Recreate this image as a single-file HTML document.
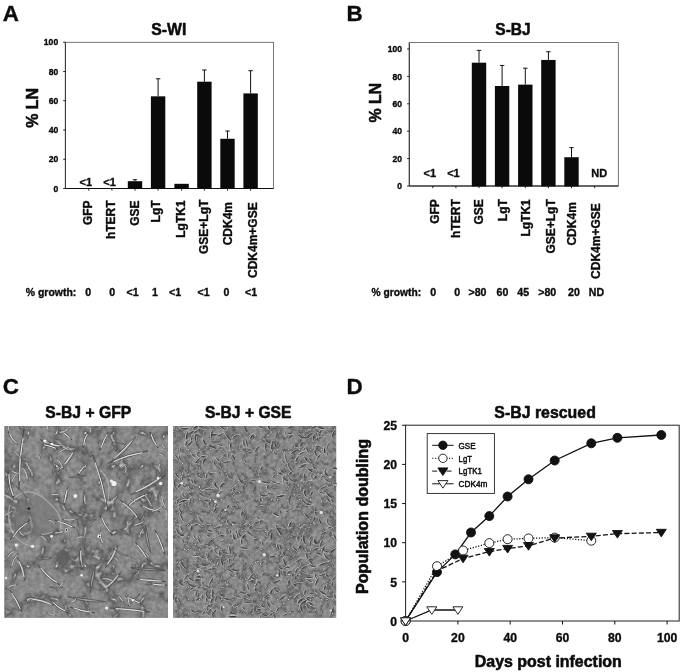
<!DOCTYPE html>
<html lang="en"><head><meta charset="utf-8"><title>Figure</title>
<style>
html,body{margin:0;padding:0;background:#fff;}
body{width:685px;height:672px;overflow:hidden;}
svg{display:block;font-family:"Liberation Sans", Arial, Helvetica, sans-serif;fill:#0c0c0c;}
</style></head><body>
<svg width="685" height="672" viewBox="0 0 685 672">
<defs>
<filter id="tex1" x="0" y="0" width="100%" height="100%" color-interpolation-filters="sRGB">
<feTurbulence type="turbulence" baseFrequency="0.035 0.03" numOctaves="3" seed="4" result="t"/>
<feColorMatrix in="t" type="matrix" values="1 0 0 0 0  1 0 0 0 0  1 0 0 0 0  0 0 0 0 1" result="g"/>
<feComponentTransfer in="g" result="c"><feFuncR type="table" tableValues="0.90 0.33 0.47 0.54 0.56 0.55 0.53 0.52 0.51 0.51"/><feFuncG type="table" tableValues="0.90 0.33 0.47 0.54 0.56 0.55 0.53 0.52 0.51 0.51"/><feFuncB type="table" tableValues="0.90 0.33 0.47 0.54 0.56 0.55 0.53 0.52 0.51 0.51"/></feComponentTransfer>
<feTurbulence type="fractalNoise" baseFrequency="0.25" numOctaves="2" seed="3" result="n"/>
<feColorMatrix in="n" type="matrix" values="0.7 0 0 0 0.17  0.7 0 0 0 0.17  0.7 0 0 0 0.17  0 0 0 0 0.3" result="n2"/>
<feBlend in="n2" in2="c" mode="normal"/>
</filter>
<filter id="tex2" x="0" y="0" width="100%" height="100%" color-interpolation-filters="sRGB">
<feTurbulence type="turbulence" baseFrequency="0.09 0.08" numOctaves="3" seed="8" result="t"/>
<feColorMatrix in="t" type="matrix" values="1 0 0 0 0  1 0 0 0 0  1 0 0 0 0  0 0 0 0 1" result="g"/>
<feComponentTransfer in="g" result="c"><feFuncR type="table" tableValues="0.90 0.33 0.47 0.54 0.56 0.55 0.53 0.52 0.51 0.51"/><feFuncG type="table" tableValues="0.90 0.33 0.47 0.54 0.56 0.55 0.53 0.52 0.51 0.51"/><feFuncB type="table" tableValues="0.90 0.33 0.47 0.54 0.56 0.55 0.53 0.52 0.51 0.51"/></feComponentTransfer>
<feTurbulence type="fractalNoise" baseFrequency="0.3" numOctaves="2" seed="11" result="n"/>
<feColorMatrix in="n" type="matrix" values="0.7 0 0 0 0.17  0.7 0 0 0 0.17  0.7 0 0 0 0.17  0 0 0 0 0.3" result="n2"/>
<feBlend in="n2" in2="c" mode="normal"/>
</filter>
<filter id="soft" x="-5%" y="-5%" width="110%" height="110%"><feGaussianBlur stdDeviation="0.55"/></filter>
<clipPath id="clip1"><rect x="4.4" y="426.1" width="163.6" height="191.7"/></clipPath>
<clipPath id="clip2"><rect x="173.1" y="426.1" width="163.1" height="191.7"/></clipPath>
</defs>
<rect width="685" height="672" fill="#fff"/>
<text x="2.8" y="20.75" font-size="22.4" font-weight="bold" stroke="#0c0c0c" stroke-width="0.35" stroke-linejoin="round">A</text>
<text x="346.4" y="20.8" font-size="22.4" font-weight="bold" stroke="#0c0c0c" stroke-width="0.35" stroke-linejoin="round">B</text>
<text x="2.8" y="394.2" font-size="22.4" font-weight="bold" stroke="#0c0c0c" stroke-width="0.35" stroke-linejoin="round">C</text>
<text x="346.4" y="394.1" font-size="22.4" font-weight="bold" stroke="#0c0c0c" stroke-width="0.35" stroke-linejoin="round">D</text>
<rect x="65.4" y="42.3" width="208.1" height="146.2" fill="none" stroke="#555" stroke-width="0.8"/>
<line x1="65.4" y1="188.5" x2="273.5" y2="188.5" stroke="#111" stroke-width="1.1" stroke="#222"/>
<line x1="65.4" y1="42.3" x2="65.4" y2="188.5" stroke="#3a3a3a" stroke-width="1.1"/>
<line x1="63.2" y1="188.5" x2="65.4" y2="188.5" stroke="#111" stroke-width="0.9"/>
<text x="58.2" y="191.6" font-size="8.6" font-weight="bold" text-anchor="end" stroke="#0c0c0c" stroke-width="0.35" stroke-linejoin="round">0</text>
<line x1="63.2" y1="159.24" x2="65.4" y2="159.24" stroke="#111" stroke-width="0.9"/>
<text x="58.2" y="162.34" font-size="8.6" font-weight="bold" text-anchor="end" stroke="#0c0c0c" stroke-width="0.35" stroke-linejoin="round">20</text>
<line x1="63.2" y1="129.98" x2="65.4" y2="129.98" stroke="#111" stroke-width="0.9"/>
<text x="58.2" y="133.07999999999998" font-size="8.6" font-weight="bold" text-anchor="end" stroke="#0c0c0c" stroke-width="0.35" stroke-linejoin="round">40</text>
<line x1="63.2" y1="100.72" x2="65.4" y2="100.72" stroke="#111" stroke-width="0.9"/>
<text x="58.2" y="103.82" font-size="8.6" font-weight="bold" text-anchor="end" stroke="#0c0c0c" stroke-width="0.35" stroke-linejoin="round">60</text>
<line x1="63.2" y1="71.46" x2="65.4" y2="71.46" stroke="#111" stroke-width="0.9"/>
<text x="58.2" y="74.55999999999999" font-size="8.6" font-weight="bold" text-anchor="end" stroke="#0c0c0c" stroke-width="0.35" stroke-linejoin="round">80</text>
<line x1="63.2" y1="42.19999999999999" x2="65.4" y2="42.19999999999999" stroke="#111" stroke-width="0.9"/>
<text x="58.2" y="45.29999999999999" font-size="8.6" font-weight="bold" text-anchor="end" stroke="#0c0c0c" stroke-width="0.35" stroke-linejoin="round">100</text>
<line x1="88.8" y1="188.5" x2="88.8" y2="190.7" stroke="#111" stroke-width="0.9"/>
<line x1="111.9" y1="188.5" x2="111.9" y2="190.7" stroke="#111" stroke-width="0.9"/>
<line x1="135" y1="188.5" x2="135" y2="190.7" stroke="#111" stroke-width="0.9"/>
<line x1="158.1" y1="188.5" x2="158.1" y2="190.7" stroke="#111" stroke-width="0.9"/>
<line x1="181.6" y1="188.5" x2="181.6" y2="190.7" stroke="#111" stroke-width="0.9"/>
<line x1="204.4" y1="188.5" x2="204.4" y2="190.7" stroke="#111" stroke-width="0.9"/>
<line x1="227.5" y1="188.5" x2="227.5" y2="190.7" stroke="#111" stroke-width="0.9"/>
<line x1="250.6" y1="188.5" x2="250.6" y2="190.7" stroke="#111" stroke-width="0.9"/>
<line x1="135" y1="179.722" x2="135" y2="181.185" stroke="#111" stroke-width="1.0"/>
<line x1="132.8" y1="179.722" x2="137.2" y2="179.722" stroke="#111" stroke-width="1.0"/>
<rect x="127.80" y="181.19" width="14.40" height="7.71" fill="#0a0a0a"/>
<line x1="158.1" y1="78.77499999999999" x2="158.1" y2="96.33099999999999" stroke="#111" stroke-width="1.0"/>
<line x1="155.9" y1="78.77499999999999" x2="160.29999999999998" y2="78.77499999999999" stroke="#111" stroke-width="1.0"/>
<rect x="150.90" y="96.33" width="14.40" height="92.57" fill="#0a0a0a"/>
<rect x="174.40" y="183.82" width="14.40" height="5.08" fill="#0a0a0a"/>
<line x1="204.4" y1="69.997" x2="204.4" y2="81.701" stroke="#111" stroke-width="1.0"/>
<line x1="202.20000000000002" y1="69.997" x2="206.6" y2="69.997" stroke="#111" stroke-width="1.0"/>
<rect x="197.20" y="81.70" width="14.40" height="107.20" fill="#0a0a0a"/>
<line x1="227.5" y1="131.0041" x2="227.5" y2="138.75799999999998" stroke="#111" stroke-width="1.0"/>
<line x1="225.3" y1="131.0041" x2="229.7" y2="131.0041" stroke="#111" stroke-width="1.0"/>
<rect x="220.30" y="138.76" width="14.40" height="50.14" fill="#0a0a0a"/>
<line x1="250.6" y1="70.7285" x2="250.6" y2="93.405" stroke="#111" stroke-width="1.0"/>
<line x1="248.4" y1="70.7285" x2="252.79999999999998" y2="70.7285" stroke="#111" stroke-width="1.0"/>
<rect x="243.40" y="93.41" width="14.40" height="95.50" fill="#0a0a0a"/>
<text x="85.8" y="186.4" font-size="11" font-weight="bold" text-anchor="middle" stroke="#0c0c0c" stroke-width="0.35" stroke-linejoin="round">&lt;1</text>
<text x="109.5" y="186.4" font-size="11" font-weight="bold" text-anchor="middle" stroke="#0c0c0c" stroke-width="0.35" stroke-linejoin="round">&lt;1</text>
<text x="92.0" y="200.4" font-size="12.0" font-weight="bold" text-anchor="end" transform="rotate(-90 92.0 200.4)" stroke="#0c0c0c" stroke-width="0.35" stroke-linejoin="round">GFP</text>
<text x="114.6" y="200.4" font-size="12.0" font-weight="bold" text-anchor="end" transform="rotate(-90 114.6 200.4)" stroke="#0c0c0c" stroke-width="0.35" stroke-linejoin="round">hTERT</text>
<text x="138.7" y="200.4" font-size="12.0" font-weight="bold" text-anchor="end" transform="rotate(-90 138.7 200.4)" stroke="#0c0c0c" stroke-width="0.35" stroke-linejoin="round">GSE</text>
<text x="159.6" y="200.4" font-size="12.0" font-weight="bold" text-anchor="end" transform="rotate(-90 159.6 200.4)" stroke="#0c0c0c" stroke-width="0.35" stroke-linejoin="round">LgT</text>
<text x="185.2" y="200.4" font-size="12.0" font-weight="bold" text-anchor="end" transform="rotate(-90 185.2 200.4)" stroke="#0c0c0c" stroke-width="0.35" stroke-linejoin="round">LgTK1</text>
<text x="208.0" y="199.7" font-size="12.0" font-weight="bold" text-anchor="end" transform="rotate(-90 208.0 199.7)" stroke="#0c0c0c" stroke-width="0.35" stroke-linejoin="round">GSE+LgT</text>
<text x="231.8" y="202.0" font-size="12.0" font-weight="bold" text-anchor="end" transform="rotate(-90 231.8 202.0)" stroke="#0c0c0c" stroke-width="0.35" stroke-linejoin="round">CDK4m</text>
<text x="256.8" y="202.3" font-size="12.0" font-weight="bold" text-anchor="end" transform="rotate(-90 256.8 202.3)" stroke="#0c0c0c" stroke-width="0.35" stroke-linejoin="round">CDK4m+GSE</text>
<text x="168.8" y="35.3" font-size="17" font-weight="bold" text-anchor="middle" textLength="35" lengthAdjust="spacingAndGlyphs" stroke="#0c0c0c" stroke-width="0.55" stroke-linejoin="round">S-WI</text>
<text x="37.7" y="107.9" font-size="17" font-weight="bold" text-anchor="middle" transform="rotate(-90 37.7 107.9)" textLength="39.7" lengthAdjust="spacingAndGlyphs" stroke="#0c0c0c" stroke-width="0.55" stroke-linejoin="round">% LN</text>
<text x="25.8" y="296.2" font-size="10.6" font-weight="bold" textLength="50.5" lengthAdjust="spacingAndGlyphs" stroke="#0c0c0c" stroke-width="0.35" stroke-linejoin="round">% growth:</text>
<text x="88.1" y="296.2" font-size="10.6" font-weight="bold" text-anchor="middle" stroke="#0c0c0c" stroke-width="0.35" stroke-linejoin="round">0</text>
<text x="112.1" y="296.2" font-size="10.6" font-weight="bold" text-anchor="middle" stroke="#0c0c0c" stroke-width="0.35" stroke-linejoin="round">0</text>
<text x="132.6" y="296.2" font-size="10.6" font-weight="bold" text-anchor="middle" stroke="#0c0c0c" stroke-width="0.35" stroke-linejoin="round">&lt;1</text>
<text x="155" y="296.2" font-size="10.6" font-weight="bold" text-anchor="middle" stroke="#0c0c0c" stroke-width="0.35" stroke-linejoin="round">1</text>
<text x="175" y="296.2" font-size="10.6" font-weight="bold" text-anchor="middle" stroke="#0c0c0c" stroke-width="0.35" stroke-linejoin="round">&lt;1</text>
<text x="203.6" y="296.2" font-size="10.6" font-weight="bold" text-anchor="middle" stroke="#0c0c0c" stroke-width="0.35" stroke-linejoin="round">&lt;1</text>
<text x="226.4" y="296.2" font-size="10.6" font-weight="bold" text-anchor="middle" stroke="#0c0c0c" stroke-width="0.35" stroke-linejoin="round">0</text>
<text x="251" y="296.2" font-size="10.6" font-weight="bold" text-anchor="middle" stroke="#0c0c0c" stroke-width="0.35" stroke-linejoin="round">&lt;1</text>
<rect x="409.3" y="42.6" width="208.99999999999994" height="143.4" fill="none" stroke="#555" stroke-width="0.8"/>
<line x1="409.3" y1="186.0" x2="618.3" y2="186.0" stroke="#111" stroke-width="1.1" stroke="#222"/>
<line x1="409.3" y1="42.6" x2="409.3" y2="186.0" stroke="#3a3a3a" stroke-width="1.1"/>
<line x1="407.1" y1="186.0" x2="409.3" y2="186.0" stroke="#111" stroke-width="0.9"/>
<text x="402.1" y="189.1" font-size="8.6" font-weight="bold" text-anchor="end" stroke="#0c0c0c" stroke-width="0.35" stroke-linejoin="round">0</text>
<line x1="407.1" y1="158.6" x2="409.3" y2="158.6" stroke="#111" stroke-width="0.9"/>
<text x="402.1" y="161.7" font-size="8.6" font-weight="bold" text-anchor="end" stroke="#0c0c0c" stroke-width="0.35" stroke-linejoin="round">20</text>
<line x1="407.1" y1="131.2" x2="409.3" y2="131.2" stroke="#111" stroke-width="0.9"/>
<text x="402.1" y="134.29999999999998" font-size="8.6" font-weight="bold" text-anchor="end" stroke="#0c0c0c" stroke-width="0.35" stroke-linejoin="round">40</text>
<line x1="407.1" y1="103.8" x2="409.3" y2="103.8" stroke="#111" stroke-width="0.9"/>
<text x="402.1" y="106.89999999999999" font-size="8.6" font-weight="bold" text-anchor="end" stroke="#0c0c0c" stroke-width="0.35" stroke-linejoin="round">60</text>
<line x1="407.1" y1="76.39999999999999" x2="409.3" y2="76.39999999999999" stroke="#111" stroke-width="0.9"/>
<text x="402.1" y="79.49999999999999" font-size="8.6" font-weight="bold" text-anchor="end" stroke="#0c0c0c" stroke-width="0.35" stroke-linejoin="round">80</text>
<line x1="407.1" y1="49.0" x2="409.3" y2="49.0" stroke="#111" stroke-width="0.9"/>
<text x="402.1" y="52.1" font-size="8.6" font-weight="bold" text-anchor="end" stroke="#0c0c0c" stroke-width="0.35" stroke-linejoin="round">100</text>
<line x1="432.8" y1="186.0" x2="432.8" y2="188.2" stroke="#111" stroke-width="0.9"/>
<line x1="455.9" y1="186.0" x2="455.9" y2="188.2" stroke="#111" stroke-width="0.9"/>
<line x1="479" y1="186.0" x2="479" y2="188.2" stroke="#111" stroke-width="0.9"/>
<line x1="502.1" y1="186.0" x2="502.1" y2="188.2" stroke="#111" stroke-width="0.9"/>
<line x1="525.3" y1="186.0" x2="525.3" y2="188.2" stroke="#111" stroke-width="0.9"/>
<line x1="548.4" y1="186.0" x2="548.4" y2="188.2" stroke="#111" stroke-width="0.9"/>
<line x1="571.5" y1="186.0" x2="571.5" y2="188.2" stroke="#111" stroke-width="0.9"/>
<line x1="594.6" y1="186.0" x2="594.6" y2="188.2" stroke="#111" stroke-width="0.9"/>
<line x1="479" y1="50.369999999999976" x2="479" y2="62.69999999999999" stroke="#111" stroke-width="1.0"/>
<line x1="476.8" y1="50.369999999999976" x2="481.2" y2="50.369999999999976" stroke="#111" stroke-width="1.0"/>
<rect x="471.80" y="62.70" width="14.40" height="123.70" fill="#0a0a0a"/>
<line x1="502.1" y1="65.44" x2="502.1" y2="85.99" stroke="#111" stroke-width="1.0"/>
<line x1="499.90000000000003" y1="65.44" x2="504.3" y2="65.44" stroke="#111" stroke-width="1.0"/>
<rect x="494.90" y="85.99" width="14.40" height="100.41" fill="#0a0a0a"/>
<line x1="525.3" y1="68.17999999999999" x2="525.3" y2="84.61999999999999" stroke="#111" stroke-width="1.0"/>
<line x1="523.0999999999999" y1="68.17999999999999" x2="527.5" y2="68.17999999999999" stroke="#111" stroke-width="1.0"/>
<rect x="518.10" y="84.62" width="14.40" height="101.78" fill="#0a0a0a"/>
<line x1="548.4" y1="51.73999999999998" x2="548.4" y2="59.959999999999994" stroke="#111" stroke-width="1.0"/>
<line x1="546.1999999999999" y1="51.73999999999998" x2="550.6" y2="51.73999999999998" stroke="#111" stroke-width="1.0"/>
<rect x="541.20" y="59.96" width="14.40" height="126.44" fill="#0a0a0a"/>
<line x1="571.5" y1="147.64" x2="571.5" y2="157.23" stroke="#111" stroke-width="1.0"/>
<line x1="569.3" y1="147.64" x2="573.7" y2="147.64" stroke="#111" stroke-width="1.0"/>
<rect x="564.30" y="157.23" width="14.40" height="29.17" fill="#0a0a0a"/>
<text x="429.8" y="177.4" font-size="11" font-weight="bold" text-anchor="middle" stroke="#0c0c0c" stroke-width="0.35" stroke-linejoin="round">&lt;1</text>
<text x="453.4" y="177.4" font-size="11" font-weight="bold" text-anchor="middle" stroke="#0c0c0c" stroke-width="0.35" stroke-linejoin="round">&lt;1</text>
<text x="599.2" y="177.4" font-size="11" font-weight="bold" text-anchor="middle" stroke="#0c0c0c" stroke-width="0.35" stroke-linejoin="round">ND</text>
<text x="439.5" y="199.2" font-size="12.0" font-weight="bold" text-anchor="end" transform="rotate(-90 439.5 199.2)" stroke="#0c0c0c" stroke-width="0.35" stroke-linejoin="round">GFP</text>
<text x="459.6" y="199.2" font-size="12.0" font-weight="bold" text-anchor="end" transform="rotate(-90 459.6 199.2)" stroke="#0c0c0c" stroke-width="0.35" stroke-linejoin="round">hTERT</text>
<text x="483.5" y="199.2" font-size="12.0" font-weight="bold" text-anchor="end" transform="rotate(-90 483.5 199.2)" stroke="#0c0c0c" stroke-width="0.35" stroke-linejoin="round">GSE</text>
<text x="507" y="199.2" font-size="12.0" font-weight="bold" text-anchor="end" transform="rotate(-90 507 199.2)" stroke="#0c0c0c" stroke-width="0.35" stroke-linejoin="round">LgT</text>
<text x="530.5" y="199.2" font-size="12.0" font-weight="bold" text-anchor="end" transform="rotate(-90 530.5 199.2)" stroke="#0c0c0c" stroke-width="0.35" stroke-linejoin="round">LgTK1</text>
<text x="554.7" y="199.2" font-size="12.0" font-weight="bold" text-anchor="end" transform="rotate(-90 554.7 199.2)" stroke="#0c0c0c" stroke-width="0.35" stroke-linejoin="round">GSE+LgT</text>
<text x="576" y="202.2" font-size="12.0" font-weight="bold" text-anchor="end" transform="rotate(-90 576 202.2)" stroke="#0c0c0c" stroke-width="0.35" stroke-linejoin="round">CDK4m</text>
<text x="600.3" y="203.2" font-size="12.0" font-weight="bold" text-anchor="end" transform="rotate(-90 600.3 203.2)" stroke="#0c0c0c" stroke-width="0.35" stroke-linejoin="round">CDK4m+GSE</text>
<text x="513.0" y="35.2" font-size="17" font-weight="bold" text-anchor="middle" textLength="35.4" lengthAdjust="spacingAndGlyphs" stroke="#0c0c0c" stroke-width="0.55" stroke-linejoin="round">S-BJ</text>
<text x="381.3" y="102.7" font-size="16.8" font-weight="bold" text-anchor="middle" transform="rotate(-90 381.3 102.7)" textLength="39.5" lengthAdjust="spacingAndGlyphs" stroke="#0c0c0c" stroke-width="0.55" stroke-linejoin="round">% LN</text>
<text x="371.6" y="295.5" font-size="10.6" font-weight="bold" textLength="49.5" lengthAdjust="spacingAndGlyphs" stroke="#0c0c0c" stroke-width="0.35" stroke-linejoin="round">% growth:</text>
<text x="433.2" y="295.5" font-size="10.6" font-weight="bold" text-anchor="middle" stroke="#0c0c0c" stroke-width="0.35" stroke-linejoin="round">0</text>
<text x="457.3" y="295.5" font-size="10.6" font-weight="bold" text-anchor="middle" stroke="#0c0c0c" stroke-width="0.35" stroke-linejoin="round">0</text>
<text x="477.5" y="295.5" font-size="10.6" font-weight="bold" text-anchor="middle" stroke="#0c0c0c" stroke-width="0.35" stroke-linejoin="round">&gt;80</text>
<text x="502.5" y="295.5" font-size="10.6" font-weight="bold" text-anchor="middle" stroke="#0c0c0c" stroke-width="0.35" stroke-linejoin="round">60</text>
<text x="523.2" y="295.5" font-size="10.6" font-weight="bold" text-anchor="middle" stroke="#0c0c0c" stroke-width="0.35" stroke-linejoin="round">45</text>
<text x="547.2" y="295.5" font-size="10.6" font-weight="bold" text-anchor="middle" stroke="#0c0c0c" stroke-width="0.35" stroke-linejoin="round">&gt;80</text>
<text x="574" y="295.5" font-size="10.6" font-weight="bold" text-anchor="middle" stroke="#0c0c0c" stroke-width="0.35" stroke-linejoin="round">20</text>
<text x="596.5" y="295.5" font-size="10.6" font-weight="bold" text-anchor="middle" stroke="#0c0c0c" stroke-width="0.35" stroke-linejoin="round">ND</text>
<text x="88.3" y="418.4" font-size="17" font-weight="bold" text-anchor="middle" textLength="86" lengthAdjust="spacingAndGlyphs" stroke="#0c0c0c" stroke-width="0.55" stroke-linejoin="round">S-BJ + GFP</text>
<text x="248.2" y="418.2" font-size="17" font-weight="bold" text-anchor="middle" textLength="86.5" lengthAdjust="spacingAndGlyphs" stroke="#0c0c0c" stroke-width="0.55" stroke-linejoin="round">S-BJ + GSE</text>
<g clip-path="url(#clip1)">
<rect x="4.4" y="426.1" width="163.6" height="191.7" fill="#868686"/>
<rect x="4.4" y="426.1" width="163.6" height="191.7" filter="url(#tex1)"/>
<g filter="url(#soft)">
<ellipse cx="62.8" cy="557.7" rx="6.5" ry="7.5" fill="#5e5e5e" opacity="0.75"/>
<ellipse cx="36" cy="516" rx="24" ry="20" fill="#747474" opacity="0.55"/>
<path d="M12.6 499.8Q22 490 32.6 492.3T57.7 512.4" stroke="#b4b4b4" stroke-width="1.2" fill="none" opacity="0.75"/>
<path d="M57.7 512.4Q62 520 60 530" stroke="#b4b4b4" stroke-width="1.2" fill="none" opacity="0.75"/>
<path d="M10 505Q6 520 14 535Q24 548 40 546" stroke="#b4b4b4" stroke-width="1.2" fill="none" opacity="0.75"/>
<path d="M100 470Q112 480 108 500" stroke="#b4b4b4" stroke-width="1.2" fill="none" opacity="0.75"/>
<path d="M160 500Q168 508 166 520" stroke="#b4b4b4" stroke-width="1.2" fill="none" opacity="0.75"/>
<path d="M23.9 429.5Q17.0 459.3 18.8 489.8Q21.7 459.7 23.9 429.5Z" fill="#a4a4a4" stroke="#3e3e3e" stroke-width="0.75" opacity="0.85"/>
<path d="M23.1 438.5Q18.6 459.4 19.6 480.8" stroke="#f4f4f4" stroke-width="1.0" fill="none" opacity="0.85" stroke-linecap="round"/>
<path d="M75.3 449.6Q65.9 460.5 57.7 472.2Q70.2 463.8 75.3 449.6Z" fill="#a4a4a4" stroke="#3e3e3e" stroke-width="0.75" opacity="0.85"/>
<path d="M72.7 453.0Q67.4 461.6 60.3 468.8" stroke="#f4f4f4" stroke-width="1.0" fill="none" opacity="0.85" stroke-linecap="round"/>
<path d="M87.9 432.0Q82.5 438.5 82.9 447.0Q86.4 439.8 87.9 432.0Z" fill="#a4a4a4" stroke="#3e3e3e" stroke-width="0.75" opacity="0.85"/>
<path d="M87.2 434.2Q83.9 439.0 83.7 444.8" stroke="#f4f4f4" stroke-width="1.0" fill="none" opacity="0.85" stroke-linecap="round"/>
<path d="M92.9 454.6Q100.9 482.1 108.0 509.9Q103.8 481.3 92.9 454.6Z" fill="#a4a4a4" stroke="#3e3e3e" stroke-width="0.75" opacity="0.85"/>
<path d="M95.2 462.9Q101.9 481.8 105.7 501.6" stroke="#f4f4f4" stroke-width="1.0" fill="none" opacity="0.85" stroke-linecap="round"/>
<path d="M135.6 437.0Q122.6 449.0 110.5 462.0Q126.4 452.8 135.6 437.0Z" fill="#a4a4a4" stroke="#3e3e3e" stroke-width="0.75" opacity="0.85"/>
<path d="M131.8 440.8Q123.9 450.3 114.3 458.2" stroke="#f4f4f4" stroke-width="1.0" fill="none" opacity="0.85" stroke-linecap="round"/>
<path d="M148.0 450.9Q126.7 453.0 108.0 463.4Q128.1 457.5 148.0 450.9Z" fill="#a4a4a4" stroke="#3e3e3e" stroke-width="0.75" opacity="0.85"/>
<path d="M142.0 452.8Q127.2 454.6 114.0 461.5" stroke="#f4f4f4" stroke-width="1.0" fill="none" opacity="0.85" stroke-linecap="round"/>
<path d="M85.4 464.7Q79.7 468.2 77.8 474.7Q83.5 471.2 85.4 464.7Z" fill="#a4a4a4" stroke="#3e3e3e" stroke-width="0.75" opacity="0.85"/>
<path d="M84.3 466.2Q81.0 469.3 78.9 473.2" stroke="#f4f4f4" stroke-width="1.0" fill="none" opacity="0.85" stroke-linecap="round"/>
<path d="M165.7 474.7Q147.9 484.3 130.6 494.8Q150.4 488.7 165.7 474.7Z" fill="#a4a4a4" stroke="#3e3e3e" stroke-width="0.75" opacity="0.85"/>
<path d="M160.4 477.7Q148.8 485.8 135.9 491.8" stroke="#f4f4f4" stroke-width="1.0" fill="none" opacity="0.85" stroke-linecap="round"/>
<path d="M150.6 492.3Q135.8 496.1 125.5 507.4Q138.3 500.2 150.6 492.3Z" fill="#a4a4a4" stroke="#3e3e3e" stroke-width="0.75" opacity="0.85"/>
<path d="M146.8 494.6Q136.6 497.5 129.3 505.1" stroke="#f4f4f4" stroke-width="1.0" fill="none" opacity="0.85" stroke-linecap="round"/>
<path d="M67.8 487.3Q63.3 495.5 64.0 504.9Q68.5 496.7 67.8 487.3Z" fill="#a4a4a4" stroke="#3e3e3e" stroke-width="0.75" opacity="0.85"/>
<path d="M67.2 489.9Q65.1 495.9 64.6 502.3" stroke="#f4f4f4" stroke-width="1.0" fill="none" opacity="0.85" stroke-linecap="round"/>
<path d="M40.0 439.6Q50.0 448.1 63.0 447.0Q51.8 442.3 40.0 439.6Z" fill="#a4a4a4" stroke="#3e3e3e" stroke-width="0.75" opacity="0.85"/>
<path d="M43.5 440.7Q50.6 446.1 59.5 445.9" stroke="#f4f4f4" stroke-width="1.0" fill="none" opacity="0.85" stroke-linecap="round"/>
<path d="M42.0 444.0Q49.7 447.5 58.0 449.0Q50.9 443.5 42.0 444.0Z" fill="#a4a4a4" stroke="#3e3e3e" stroke-width="0.75" opacity="0.85"/>
<path d="M44.4 444.8Q50.1 446.1 55.6 448.2" stroke="#f4f4f4" stroke-width="1.0" fill="none" opacity="0.85" stroke-linecap="round"/>
<path d="M118.0 545.1Q111.2 556.1 105.4 567.7Q115.7 558.6 118.0 545.1Z" fill="#a4a4a4" stroke="#3e3e3e" stroke-width="0.75" opacity="0.85"/>
<path d="M116.1 548.5Q112.8 557.0 107.3 564.3" stroke="#f4f4f4" stroke-width="1.0" fill="none" opacity="0.85" stroke-linecap="round"/>
<path d="M95.4 565.2Q89.4 578.4 90.4 592.8Q94.4 579.3 95.4 565.2Z" fill="#a4a4a4" stroke="#3e3e3e" stroke-width="0.75" opacity="0.85"/>
<path d="M120.5 572.7Q111.4 581.2 102.9 590.3Q114.8 584.6 120.5 572.7Z" fill="#a4a4a4" stroke="#3e3e3e" stroke-width="0.75" opacity="0.85"/>
<path d="M117.9 575.3Q112.6 582.4 105.5 587.7" stroke="#f4f4f4" stroke-width="1.0" fill="none" opacity="0.85" stroke-linecap="round"/>
<path d="M37.7 565.2Q46.0 578.6 60.3 585.3Q49.4 574.8 37.7 565.2Z" fill="#a4a4a4" stroke="#3e3e3e" stroke-width="0.75" opacity="0.85"/>
<path d="M41.1 568.2Q47.2 577.3 56.9 582.3" stroke="#f4f4f4" stroke-width="1.0" fill="none" opacity="0.85" stroke-linecap="round"/>
<path d="M17.6 557.7Q21.0 569.1 25.1 580.3Q25.5 567.6 17.6 557.7Z" fill="#a4a4a4" stroke="#3e3e3e" stroke-width="0.75" opacity="0.85"/>
<path d="M18.7 561.1Q22.6 568.6 24.0 576.9" stroke="#f4f4f4" stroke-width="1.0" fill="none" opacity="0.85" stroke-linecap="round"/>
<path d="M67.8 596.6Q86.0 603.6 105.4 601.6Q86.7 598.6 67.8 596.6Z" fill="#a4a4a4" stroke="#3e3e3e" stroke-width="0.75" opacity="0.85"/>
<path d="M135.6 579.0Q150.4 582.9 165.7 581.5Q150.9 577.6 135.6 579.0Z" fill="#a4a4a4" stroke="#3e3e3e" stroke-width="0.75" opacity="0.85"/>
<path d="M140.1 579.4Q150.6 581.1 161.2 581.1" stroke="#f4f4f4" stroke-width="1.0" fill="none" opacity="0.85" stroke-linecap="round"/>
<path d="M150.6 584.0Q158.6 586.9 166.9 585.3Q158.9 582.4 150.6 584.0Z" fill="#a4a4a4" stroke="#3e3e3e" stroke-width="0.75" opacity="0.85"/>
<path d="M153.0 584.2Q158.7 585.3 164.5 585.1" stroke="#f4f4f4" stroke-width="1.0" fill="none" opacity="0.85" stroke-linecap="round"/>
<path d="M130.6 567.7Q147.9 572.0 165.7 570.2Q148.2 567.9 130.6 567.7Z" fill="#a4a4a4" stroke="#3e3e3e" stroke-width="0.75" opacity="0.85"/>
<path d="M135.6 542.6Q140.7 552.2 148.1 560.2Q144.6 549.4 135.6 542.6Z" fill="#a4a4a4" stroke="#3e3e3e" stroke-width="0.75" opacity="0.85"/>
<path d="M137.5 545.2Q142.1 551.2 146.2 557.6" stroke="#f4f4f4" stroke-width="1.0" fill="none" opacity="0.85" stroke-linecap="round"/>
<path d="M145.6 525.0Q143.9 539.6 150.6 552.6Q148.3 538.8 145.6 525.0Z" fill="#a4a4a4" stroke="#3e3e3e" stroke-width="0.75" opacity="0.85"/>
<path d="M27.6 597.8Q41.3 602.1 55.2 605.4Q42.6 597.2 27.6 597.8Z" fill="#a4a4a4" stroke="#3e3e3e" stroke-width="0.75" opacity="0.85"/>
<path d="M31.7 598.9Q41.7 600.4 51.1 604.3" stroke="#f4f4f4" stroke-width="1.0" fill="none" opacity="0.85" stroke-linecap="round"/>
<path d="M50.2 600.3Q57.1 609.2 67.8 612.9Q59.7 605.6 50.2 600.3Z" fill="#a4a4a4" stroke="#3e3e3e" stroke-width="0.75" opacity="0.85"/>
<path d="M52.8 602.2Q58.0 608.0 65.2 611.0" stroke="#f4f4f4" stroke-width="1.0" fill="none" opacity="0.85" stroke-linecap="round"/>
<path d="M80.3 547.6Q78.4 559.3 82.9 570.2Q82.8 558.8 80.3 547.6Z" fill="#a4a4a4" stroke="#3e3e3e" stroke-width="0.75" opacity="0.85"/>
<path d="M80.7 551.0Q79.9 559.1 82.5 566.8" stroke="#f4f4f4" stroke-width="1.0" fill="none" opacity="0.85" stroke-linecap="round"/>
<path d="M125.0 596.0Q132.5 602.2 142.0 604.0Q134.5 597.8 125.0 596.0Z" fill="#a4a4a4" stroke="#3e3e3e" stroke-width="0.75" opacity="0.85"/>
<path d="M127.5 597.2Q133.2 600.7 139.4 602.8" stroke="#f4f4f4" stroke-width="1.0" fill="none" opacity="0.85" stroke-linecap="round"/>
<path d="M128.0 606.0Q135.3 601.3 140.0 594.0Q132.7 598.7 128.0 606.0Z" fill="#a4a4a4" stroke="#3e3e3e" stroke-width="0.75" opacity="0.85"/>
<path d="M8.0 470.0Q7.1 485.8 14.0 500.0Q11.0 485.0 8.0 470.0Z" fill="#a4a4a4" stroke="#3e3e3e" stroke-width="0.75" opacity="0.85"/>
<path d="M8.9 474.5Q8.5 485.5 13.1 495.5" stroke="#f4f4f4" stroke-width="1.0" fill="none" opacity="0.85" stroke-linecap="round"/>
<path d="M108.0 432.0Q102.2 440.2 100.0 450.0Q105.8 441.8 108.0 432.0Z" fill="#a4a4a4" stroke="#3e3e3e" stroke-width="0.75" opacity="0.85"/>
<path d="M106.8 434.7Q103.5 440.8 101.2 447.3" stroke="#f4f4f4" stroke-width="1.0" fill="none" opacity="0.85" stroke-linecap="round"/>
<path d="M150.0 432.0Q151.2 441.4 158.0 448.0Q155.0 439.5 150.0 432.0Z" fill="#a4a4a4" stroke="#3e3e3e" stroke-width="0.75" opacity="0.85"/>
<path d="M151.2 434.4Q152.5 440.7 156.8 445.6" stroke="#f4f4f4" stroke-width="1.0" fill="none" opacity="0.85" stroke-linecap="round"/>
<path d="M120.0 500.0Q129.9 510.1 140.0 520.0Q132.9 507.1 120.0 500.0Z" fill="#a4a4a4" stroke="#3e3e3e" stroke-width="0.75" opacity="0.85"/>
<path d="M123.0 503.0Q131.0 509.0 137.0 517.0" stroke="#f4f4f4" stroke-width="1.0" fill="none" opacity="0.85" stroke-linecap="round"/>
<path d="M140.0 505.0Q149.0 511.3 160.0 512.0Q150.3 507.6 140.0 505.0Z" fill="#a4a4a4" stroke="#3e3e3e" stroke-width="0.75" opacity="0.85"/>
<path d="M143.0 506.1Q149.5 510.0 157.0 510.9" stroke="#f4f4f4" stroke-width="1.0" fill="none" opacity="0.85" stroke-linecap="round"/>
<path d="M10.0 590.0Q15.0 601.5 22.0 612.0Q18.7 599.5 10.0 590.0Z" fill="#a4a4a4" stroke="#3e3e3e" stroke-width="0.75" opacity="0.85"/>
<path d="M11.8 593.3Q16.3 600.8 20.2 608.7" stroke="#f4f4f4" stroke-width="1.0" fill="none" opacity="0.85" stroke-linecap="round"/>
<path d="M70.0 607.0Q81.8 613.0 95.0 613.0Q82.8 608.9 70.0 607.0Z" fill="#a4a4a4" stroke="#3e3e3e" stroke-width="0.75" opacity="0.85"/>
<path d="M73.8 607.9Q82.1 611.6 91.2 612.1" stroke="#f4f4f4" stroke-width="1.0" fill="none" opacity="0.85" stroke-linecap="round"/>
<path d="M110.0 608.0Q129.9 611.2 150.0 612.0Q130.3 606.8 110.0 608.0Z" fill="#a4a4a4" stroke="#3e3e3e" stroke-width="0.75" opacity="0.85"/>
<path d="M116.0 608.6Q130.0 609.7 144.0 611.4" stroke="#f4f4f4" stroke-width="1.0" fill="none" opacity="0.85" stroke-linecap="round"/>
<path d="M30.0 520.0Q17.2 527.2 10.0 540.0Q20.0 530.0 30.0 520.0Z" fill="#a4a4a4" stroke="#3e3e3e" stroke-width="0.75" opacity="0.85"/>
<path d="M27.0 523.0Q18.2 528.2 13.0 537.0" stroke="#f4f4f4" stroke-width="1.0" fill="none" opacity="0.85" stroke-linecap="round"/>
<path d="M55.0 520.0Q64.7 524.7 75.0 528.0Q66.0 521.4 55.0 520.0Z" fill="#a4a4a4" stroke="#3e3e3e" stroke-width="0.75" opacity="0.85"/>
<path d="M58.0 521.2Q65.2 523.6 72.0 526.8" stroke="#f4f4f4" stroke-width="1.0" fill="none" opacity="0.85" stroke-linecap="round"/>
<path d="M100.0 515.0Q103.6 526.4 112.0 535.0Q106.7 524.6 100.0 515.0Z" fill="#a4a4a4" stroke="#3e3e3e" stroke-width="0.75" opacity="0.85"/>
<path d="M101.8 518.0Q104.7 525.8 110.2 532.0" stroke="#f4f4f4" stroke-width="1.0" fill="none" opacity="0.85" stroke-linecap="round"/>
<path d="M155.0 530.0Q159.1 542.9 165.0 555.0Q162.7 541.4 155.0 530.0Z" fill="#a4a4a4" stroke="#3e3e3e" stroke-width="0.75" opacity="0.85"/>
<path d="M156.5 533.8Q160.4 542.3 163.5 551.2" stroke="#f4f4f4" stroke-width="1.0" fill="none" opacity="0.85" stroke-linecap="round"/>
<path d="M8.0 432.0Q10.8 440.2 18.0 445.0Q13.6 438.0 8.0 432.0Z" fill="#a4a4a4" stroke="#3e3e3e" stroke-width="0.75" opacity="0.85"/>
<path d="M9.5 433.9Q11.8 439.4 16.5 443.1" stroke="#f4f4f4" stroke-width="1.0" fill="none" opacity="0.85" stroke-linecap="round"/>
<path d="M60.0 430.0Q65.4 435.7 72.0 440.0Q67.9 432.7 60.0 430.0Z" fill="#a4a4a4" stroke="#3e3e3e" stroke-width="0.75" opacity="0.85"/>
<path d="M61.8 431.5Q66.3 434.7 70.2 438.5" stroke="#f4f4f4" stroke-width="1.0" fill="none" opacity="0.85" stroke-linecap="round"/>
<path d="M130.1 556.0Q132.8 561.7 138.6 564.2Q135.8 558.6 130.1 556.0Z" fill="#a4a4a4" stroke="#3e3e3e" stroke-width="0.75" opacity="0.60"/>
<path d="M46.8 612.2Q50.6 616.3 56.2 615.8Q51.7 613.6 46.8 612.2Z" fill="#a4a4a4" stroke="#3e3e3e" stroke-width="0.75" opacity="0.60"/>
<path d="M48.2 612.7Q51.0 615.4 54.8 615.3" stroke="#f4f4f4" stroke-width="1.0" fill="none" opacity="0.60" stroke-linecap="round"/>
<path d="M15.2 550.2Q8.7 551.9 6.4 558.2Q10.9 554.3 15.2 550.2Z" fill="#a4a4a4" stroke="#3e3e3e" stroke-width="0.75" opacity="0.60"/>
<path d="M13.9 551.4Q9.5 552.7 7.7 557.0" stroke="#f4f4f4" stroke-width="1.0" fill="none" opacity="0.60" stroke-linecap="round"/>
<path d="M100.6 529.8Q98.1 537.8 102.7 544.7Q101.6 537.3 100.6 529.8Z" fill="#a4a4a4" stroke="#3e3e3e" stroke-width="0.75" opacity="0.60"/>
<path d="M100.9 532.0Q99.3 537.6 102.4 542.5" stroke="#f4f4f4" stroke-width="1.0" fill="none" opacity="0.60" stroke-linecap="round"/>
<path d="M18.1 553.0Q11.7 559.3 10.6 568.1Q14.6 560.7 18.1 553.0Z" fill="#a4a4a4" stroke="#3e3e3e" stroke-width="0.75" opacity="0.60"/>
<path d="M17.0 555.3Q12.7 559.8 11.7 565.9" stroke="#f4f4f4" stroke-width="1.0" fill="none" opacity="0.60" stroke-linecap="round"/>
<path d="M113.4 426.9Q113.9 430.4 114.2 433.9Q116.7 430.1 113.4 426.9Z" fill="#a4a4a4" stroke="#3e3e3e" stroke-width="0.75" opacity="0.60"/>
<path d="M23.0 466.3Q25.5 473.6 28.2 480.8Q28.8 472.4 23.0 466.3Z" fill="#a4a4a4" stroke="#3e3e3e" stroke-width="0.75" opacity="0.60"/>
<path d="M23.7 468.5Q26.6 473.2 27.4 478.7" stroke="#f4f4f4" stroke-width="1.0" fill="none" opacity="0.60" stroke-linecap="round"/>
<path d="M152.7 581.4Q148.4 581.9 145.1 584.9Q149.8 585.0 152.7 581.4Z" fill="#a4a4a4" stroke="#3e3e3e" stroke-width="0.75" opacity="0.60"/>
<path d="M157.8 453.0Q160.7 455.6 164.4 457.1Q162.6 452.6 157.8 453.0Z" fill="#a4a4a4" stroke="#3e3e3e" stroke-width="0.75" opacity="0.60"/>
<path d="M158.8 453.6Q161.4 454.6 163.4 456.5" stroke="#f4f4f4" stroke-width="1.0" fill="none" opacity="0.60" stroke-linecap="round"/>
<path d="M46.2 422.3Q45.0 427.5 48.6 431.4Q49.3 426.4 46.2 422.3Z" fill="#a4a4a4" stroke="#3e3e3e" stroke-width="0.75" opacity="0.60"/>
<path d="M46.6 423.7Q46.5 427.1 48.2 430.1" stroke="#f4f4f4" stroke-width="1.0" fill="none" opacity="0.60" stroke-linecap="round"/>
<path d="M90.2 542.1Q85.6 542.6 87.2 546.9Q89.1 544.7 90.2 542.1Z" fill="#a4a4a4" stroke="#3e3e3e" stroke-width="0.75" opacity="0.60"/>
<path d="M134.0 498.4Q133.1 501.9 135.9 504.3Q135.8 501.0 134.0 498.4Z" fill="#a4a4a4" stroke="#3e3e3e" stroke-width="0.75" opacity="0.60"/>
<path d="M134.3 499.2Q134.0 501.6 135.6 503.4" stroke="#f4f4f4" stroke-width="1.0" fill="none" opacity="0.60" stroke-linecap="round"/>
<path d="M37.2 454.7Q39.0 457.0 39.9 459.7Q41.6 455.5 37.2 454.7Z" fill="#a4a4a4" stroke="#3e3e3e" stroke-width="0.75" opacity="0.60"/>
<path d="M37.6 455.5Q39.9 456.5 39.5 458.9" stroke="#f4f4f4" stroke-width="1.0" fill="none" opacity="0.60" stroke-linecap="round"/>
<path d="M69.6 428.6Q63.8 430.8 58.2 433.4Q65.0 433.7 69.6 428.6Z" fill="#a4a4a4" stroke="#3e3e3e" stroke-width="0.75" opacity="0.60"/>
<path d="M67.9 429.3Q64.2 431.8 59.9 432.7" stroke="#f4f4f4" stroke-width="1.0" fill="none" opacity="0.60" stroke-linecap="round"/>
<path d="M71.5 445.8Q63.2 448.2 56.5 453.5Q64.9 451.4 71.5 445.8Z" fill="#a4a4a4" stroke="#3e3e3e" stroke-width="0.75" opacity="0.60"/>
<path d="M69.2 446.9Q63.8 449.3 58.7 452.4" stroke="#f4f4f4" stroke-width="1.0" fill="none" opacity="0.60" stroke-linecap="round"/>
<path d="M16.1 486.3Q21.1 491.8 26.2 497.3Q23.1 489.9 16.1 486.3Z" fill="#a4a4a4" stroke="#3e3e3e" stroke-width="0.75" opacity="0.60"/>
<path d="M91.2 451.6Q88.5 453.9 90.5 456.8Q92.9 454.5 91.2 451.6Z" fill="#a4a4a4" stroke="#3e3e3e" stroke-width="0.75" opacity="0.60"/>
<path d="M116.9 473.0Q115.6 477.3 119.7 479.4Q119.0 475.9 116.9 473.0Z" fill="#a4a4a4" stroke="#3e3e3e" stroke-width="0.75" opacity="0.60"/>
<path d="M65.3 464.2Q56.4 466.0 51.4 473.6Q58.7 469.4 65.3 464.2Z" fill="#a4a4a4" stroke="#3e3e3e" stroke-width="0.75" opacity="0.60"/>
<path d="M125.7 464.9Q126.0 469.6 125.2 474.2Q128.7 469.7 125.7 464.9Z" fill="#a4a4a4" stroke="#3e3e3e" stroke-width="0.75" opacity="0.60"/>
<path d="M125.6 466.3Q126.9 469.6 125.3 472.8" stroke="#f4f4f4" stroke-width="1.0" fill="none" opacity="0.60" stroke-linecap="round"/>
<path d="M51.9 558.2Q46.3 554.9 41.7 559.6Q46.9 559.3 51.9 558.2Z" fill="#a4a4a4" stroke="#3e3e3e" stroke-width="0.75" opacity="0.60"/>
<path d="M61.3 466.0Q63.6 468.9 66.8 470.8Q66.1 466.0 61.3 466.0Z" fill="#a4a4a4" stroke="#3e3e3e" stroke-width="0.75" opacity="0.60"/>
<path d="M145.3 511.5Q141.6 517.9 138.5 524.5Q145.1 519.7 145.3 511.5Z" fill="#a4a4a4" stroke="#3e3e3e" stroke-width="0.75" opacity="0.60"/>
<path d="M132.1 566.3Q129.6 570.1 132.6 573.5Q132.9 569.9 132.1 566.3Z" fill="#a4a4a4" stroke="#3e3e3e" stroke-width="0.75" opacity="0.60"/>
<path d="M160.9 494.2Q161.1 502.7 165.9 509.8Q163.9 501.8 160.9 494.2Z" fill="#a4a4a4" stroke="#3e3e3e" stroke-width="0.75" opacity="0.60"/>
<path d="M161.6 496.5Q162.1 502.4 165.1 507.4" stroke="#f4f4f4" stroke-width="1.0" fill="none" opacity="0.60" stroke-linecap="round"/>
<path d="M31.9 597.6Q27.1 596.7 26.4 601.5Q29.7 600.3 31.9 597.6Z" fill="#a4a4a4" stroke="#3e3e3e" stroke-width="0.75" opacity="0.60"/>
<path d="M31.1 598.2Q28.0 597.9 27.2 600.9" stroke="#f4f4f4" stroke-width="1.0" fill="none" opacity="0.60" stroke-linecap="round"/>
<path d="M59.4 530.2Q60.2 534.8 64.1 532.3Q61.7 531.2 59.4 530.2Z" fill="#a4a4a4" stroke="#3e3e3e" stroke-width="0.75" opacity="0.60"/>
<path d="M60.1 530.6Q60.7 533.5 63.4 532.0" stroke="#f4f4f4" stroke-width="1.0" fill="none" opacity="0.60" stroke-linecap="round"/>
<path d="M164.0 506.3Q157.0 508.9 150.3 512.2Q158.2 511.8 164.0 506.3Z" fill="#a4a4a4" stroke="#3e3e3e" stroke-width="0.75" opacity="0.60"/>
<path d="M161.9 507.2Q157.4 509.9 152.3 511.3" stroke="#f4f4f4" stroke-width="1.0" fill="none" opacity="0.60" stroke-linecap="round"/>
<path d="M40.3 534.9Q43.2 539.0 47.2 542.2Q46.4 536.0 40.3 534.9Z" fill="#a4a4a4" stroke="#3e3e3e" stroke-width="0.75" opacity="0.60"/>
<path d="M41.3 536.0Q44.4 538.0 46.2 541.1" stroke="#f4f4f4" stroke-width="1.0" fill="none" opacity="0.60" stroke-linecap="round"/>
<path d="M84.2 536.4Q78.3 534.6 74.6 539.4Q79.4 538.1 84.2 536.4Z" fill="#a4a4a4" stroke="#3e3e3e" stroke-width="0.75" opacity="0.60"/>
<path d="M82.7 536.9Q78.7 535.8 76.0 539.0" stroke="#f4f4f4" stroke-width="1.0" fill="none" opacity="0.60" stroke-linecap="round"/>
<path d="M89.4 426.2Q90.0 429.7 90.7 433.2Q94.0 428.9 89.4 426.2Z" fill="#a4a4a4" stroke="#3e3e3e" stroke-width="0.75" opacity="0.60"/>
<path d="M89.6 427.2Q91.4 429.4 90.5 432.2" stroke="#f4f4f4" stroke-width="1.0" fill="none" opacity="0.60" stroke-linecap="round"/>
<path d="M82.6 560.7Q80.0 564.8 81.1 569.5Q83.6 565.4 82.6 560.7Z" fill="#a4a4a4" stroke="#3e3e3e" stroke-width="0.75" opacity="0.60"/>
<path d="M18.8 530.6Q19.7 535.6 24.7 536.4Q22.3 533.0 18.8 530.6Z" fill="#a4a4a4" stroke="#3e3e3e" stroke-width="0.75" opacity="0.60"/>
<path d="M19.7 531.5Q20.6 534.7 23.8 535.6" stroke="#f4f4f4" stroke-width="1.0" fill="none" opacity="0.60" stroke-linecap="round"/>
<path d="M127.6 594.9Q126.9 601.3 129.8 607.1Q130.5 600.7 127.6 594.9Z" fill="#a4a4a4" stroke="#3e3e3e" stroke-width="0.75" opacity="0.60"/>
<path d="M128.0 596.8Q128.2 601.1 129.5 605.3" stroke="#f4f4f4" stroke-width="1.0" fill="none" opacity="0.60" stroke-linecap="round"/>
<path d="M77.8 520.2Q75.5 528.5 79.0 536.5Q79.7 528.2 77.8 520.2Z" fill="#a4a4a4" stroke="#3e3e3e" stroke-width="0.75" opacity="0.60"/>
<path d="M54.3 532.0Q46.9 533.4 39.4 534.7Q47.4 536.2 54.3 532.0Z" fill="#a4a4a4" stroke="#3e3e3e" stroke-width="0.75" opacity="0.60"/>
<path d="M52.1 532.4Q47.0 534.4 41.7 534.3" stroke="#f4f4f4" stroke-width="1.0" fill="none" opacity="0.60" stroke-linecap="round"/>
<path d="M9.9 470.7Q15.5 475.4 22.6 473.7Q16.5 471.2 9.9 470.7Z" fill="#a4a4a4" stroke="#3e3e3e" stroke-width="0.75" opacity="0.60"/>
<path d="M11.8 471.2Q15.9 474.0 20.7 473.3" stroke="#f4f4f4" stroke-width="1.0" fill="none" opacity="0.60" stroke-linecap="round"/>
<path d="M114.5 549.3Q120.1 555.7 128.6 556.1Q121.4 553.0 114.5 549.3Z" fill="#a4a4a4" stroke="#3e3e3e" stroke-width="0.75" opacity="0.60"/>
<path d="M77.0 519.3Q69.5 519.1 62.1 519.7Q69.7 522.6 77.0 519.3Z" fill="#a4a4a4" stroke="#3e3e3e" stroke-width="0.75" opacity="0.60"/>
<path d="M74.8 519.3Q69.6 520.3 64.3 519.7" stroke="#f4f4f4" stroke-width="1.0" fill="none" opacity="0.60" stroke-linecap="round"/>
<path d="M56.2 457.9Q59.9 463.6 63.6 469.4Q63.1 461.6 56.2 457.9Z" fill="#a4a4a4" stroke="#3e3e3e" stroke-width="0.75" opacity="0.60"/>
<path d="M57.3 459.6Q61.0 462.9 62.5 467.7" stroke="#f4f4f4" stroke-width="1.0" fill="none" opacity="0.60" stroke-linecap="round"/>
<path d="M9.5 484.5Q6.9 489.5 5.2 494.8Q11.0 491.2 9.5 484.5Z" fill="#a4a4a4" stroke="#3e3e3e" stroke-width="0.75" opacity="0.60"/>
<path d="M161.5 444.2Q161.4 448.0 165.2 448.2Q163.7 445.9 161.5 444.2Z" fill="#a4a4a4" stroke="#3e3e3e" stroke-width="0.75" opacity="0.60"/>
<path d="M162.1 444.8Q162.2 447.3 164.7 447.6" stroke="#f4f4f4" stroke-width="1.0" fill="none" opacity="0.60" stroke-linecap="round"/>
<path d="M76.9 598.6Q73.1 600.2 70.1 603.0Q75.4 603.8 76.9 598.6Z" fill="#a4a4a4" stroke="#3e3e3e" stroke-width="0.75" opacity="0.60"/>
<path d="M75.9 599.3Q73.9 601.4 71.1 602.3" stroke="#f4f4f4" stroke-width="1.0" fill="none" opacity="0.60" stroke-linecap="round"/>
<path d="M112.5 442.1Q118.8 444.3 125.5 444.4Q119.3 441.6 112.5 442.1Z" fill="#a4a4a4" stroke="#3e3e3e" stroke-width="0.75" opacity="0.60"/>
<path d="M100.8 577.8Q108.1 580.2 115.6 581.8Q109.2 576.0 100.8 577.8Z" fill="#a4a4a4" stroke="#3e3e3e" stroke-width="0.75" opacity="0.60"/>
<path d="M103.0 578.4Q108.5 578.7 113.4 581.2" stroke="#f4f4f4" stroke-width="1.0" fill="none" opacity="0.60" stroke-linecap="round"/>
<path d="M63.9 531.2Q59.8 531.8 55.9 533.1Q60.6 535.3 63.9 531.2Z" fill="#a4a4a4" stroke="#3e3e3e" stroke-width="0.75" opacity="0.60"/>
<path d="M62.7 531.5Q60.1 533.0 57.1 532.8" stroke="#f4f4f4" stroke-width="1.0" fill="none" opacity="0.60" stroke-linecap="round"/>
<path d="M18.6 456.5Q22.2 457.9 26.0 457.6Q22.7 454.7 18.6 456.5Z" fill="#a4a4a4" stroke="#3e3e3e" stroke-width="0.75" opacity="0.60"/>
<path d="M48.0 519.5Q52.0 521.7 55.7 524.4Q53.7 519.0 48.0 519.5Z" fill="#a4a4a4" stroke="#3e3e3e" stroke-width="0.75" opacity="0.60"/>
<path d="M49.1 520.3Q52.6 520.7 54.6 523.7" stroke="#f4f4f4" stroke-width="1.0" fill="none" opacity="0.60" stroke-linecap="round"/>
<path d="M119.9 528.7Q122.5 534.4 128.8 534.7Q124.2 532.0 119.9 528.7Z" fill="#a4a4a4" stroke="#3e3e3e" stroke-width="0.75" opacity="0.60"/>
<path d="M79.3 518.6Q74.1 519.3 70.9 523.4Q76.1 522.7 79.3 518.6Z" fill="#a4a4a4" stroke="#3e3e3e" stroke-width="0.75" opacity="0.60"/>
<path d="M64.3 580.6Q59.4 584.9 56.6 590.7Q62.1 586.9 64.3 580.6Z" fill="#a4a4a4" stroke="#3e3e3e" stroke-width="0.75" opacity="0.60"/>
<path d="M63.1 582.1Q60.4 585.6 57.8 589.2" stroke="#f4f4f4" stroke-width="1.0" fill="none" opacity="0.60" stroke-linecap="round"/>
<path d="M28.4 436.7Q25.6 439.6 22.9 442.6Q27.7 441.6 28.4 436.7Z" fill="#a4a4a4" stroke="#3e3e3e" stroke-width="0.75" opacity="0.60"/>
<path d="M144.3 551.6Q146.1 555.2 149.3 557.7Q148.8 553.0 144.3 551.6Z" fill="#a4a4a4" stroke="#3e3e3e" stroke-width="0.75" opacity="0.60"/>
<path d="M145.1 552.5Q147.1 554.5 148.6 556.8" stroke="#f4f4f4" stroke-width="1.0" fill="none" opacity="0.60" stroke-linecap="round"/>
<path d="M85.6 475.6Q77.1 474.8 69.1 477.6Q77.5 477.9 85.6 475.6Z" fill="#a4a4a4" stroke="#3e3e3e" stroke-width="0.75" opacity="0.60"/>
<path d="M50.3 494.4Q55.0 496.2 59.8 494.5Q55.0 492.6 50.3 494.4Z" fill="#a4a4a4" stroke="#3e3e3e" stroke-width="0.75" opacity="0.60"/>
<path d="M51.7 494.4Q55.0 494.9 58.4 494.5" stroke="#f4f4f4" stroke-width="1.0" fill="none" opacity="0.60" stroke-linecap="round"/>
<path d="M84.9 424.8Q86.2 427.7 89.0 429.3Q88.3 425.8 84.9 424.8Z" fill="#a4a4a4" stroke="#3e3e3e" stroke-width="0.75" opacity="0.60"/>
<path d="M85.5 425.5Q87.0 427.1 88.4 428.6" stroke="#f4f4f4" stroke-width="1.0" fill="none" opacity="0.60" stroke-linecap="round"/>
<path d="M55.7 465.3Q51.3 469.9 52.7 476.2Q55.1 471.0 55.7 465.3Z" fill="#a4a4a4" stroke="#3e3e3e" stroke-width="0.75" opacity="0.60"/>
<path d="M143.9 493.6Q147.7 501.1 152.6 508.0Q151.1 499.0 143.9 493.6Z" fill="#a4a4a4" stroke="#3e3e3e" stroke-width="0.75" opacity="0.60"/>
<path d="M145.2 495.7Q148.9 500.4 151.3 505.8" stroke="#f4f4f4" stroke-width="1.0" fill="none" opacity="0.60" stroke-linecap="round"/>
<path d="M17.5 584.1Q10.6 583.4 5.7 588.3Q11.9 587.3 17.5 584.1Z" fill="#a4a4a4" stroke="#3e3e3e" stroke-width="0.75" opacity="0.60"/>
<path d="M15.7 584.8Q11.0 584.8 7.4 587.7" stroke="#f4f4f4" stroke-width="1.0" fill="none" opacity="0.60" stroke-linecap="round"/>
<path d="M96.5 519.2Q88.5 520.0 83.7 526.4Q90.4 523.3 96.5 519.2Z" fill="#a4a4a4" stroke="#3e3e3e" stroke-width="0.75" opacity="0.60"/>
<path d="M114.1 557.2Q116.0 559.2 118.1 560.8Q118.2 556.7 114.1 557.2Z" fill="#a4a4a4" stroke="#3e3e3e" stroke-width="0.75" opacity="0.60"/>
<path d="M114.7 557.8Q116.8 558.3 117.5 560.3" stroke="#f4f4f4" stroke-width="1.0" fill="none" opacity="0.60" stroke-linecap="round"/>
<path d="M143.6 527.4Q138.8 532.2 138.7 538.9Q142.1 533.6 143.6 527.4Z" fill="#a4a4a4" stroke="#3e3e3e" stroke-width="0.75" opacity="0.60"/>
<path d="M142.9 529.1Q140.0 532.7 139.4 537.2" stroke="#f4f4f4" stroke-width="1.0" fill="none" opacity="0.60" stroke-linecap="round"/>
<path d="M135.0 563.8Q132.9 569.5 134.9 575.3Q135.7 569.5 135.0 563.8Z" fill="#a4a4a4" stroke="#3e3e3e" stroke-width="0.75" opacity="0.60"/>
<path d="M41.0 435.3Q45.0 440.9 50.3 445.5Q48.0 438.2 41.0 435.3Z" fill="#a4a4a4" stroke="#3e3e3e" stroke-width="0.75" opacity="0.60"/>
<path d="M84.8 492.8Q82.2 499.6 85.6 506.0Q86.0 499.4 84.8 492.8Z" fill="#a4a4a4" stroke="#3e3e3e" stroke-width="0.75" opacity="0.60"/>
<path d="M84.9 494.8Q83.6 499.5 85.5 504.0" stroke="#f4f4f4" stroke-width="1.0" fill="none" opacity="0.60" stroke-linecap="round"/>
<path d="M12.2 449.4Q16.3 455.1 21.9 459.3Q19.0 452.5 12.2 449.4Z" fill="#a4a4a4" stroke="#3e3e3e" stroke-width="0.75" opacity="0.60"/>
<path d="M13.7 450.9Q17.2 454.2 20.5 457.8" stroke="#f4f4f4" stroke-width="1.0" fill="none" opacity="0.60" stroke-linecap="round"/>
<path d="M17.7 471.9Q12.3 476.4 10.9 483.3Q15.1 478.1 17.7 471.9Z" fill="#a4a4a4" stroke="#3e3e3e" stroke-width="0.75" opacity="0.60"/>
<path d="M16.7 473.6Q13.3 477.0 11.9 481.6" stroke="#f4f4f4" stroke-width="1.0" fill="none" opacity="0.60" stroke-linecap="round"/>
<path d="M73.1 512.6Q80.0 516.5 87.7 518.4Q81.7 512.3 73.1 512.6Z" fill="#a4a4a4" stroke="#3e3e3e" stroke-width="0.75" opacity="0.60"/>
<path d="M14.3 509.6Q6.5 512.9 0.2 518.5Q8.2 515.6 14.3 509.6Z" fill="#a4a4a4" stroke="#3e3e3e" stroke-width="0.75" opacity="0.60"/>
<path d="M12.2 511.0Q7.1 513.9 2.4 517.2" stroke="#f4f4f4" stroke-width="1.0" fill="none" opacity="0.60" stroke-linecap="round"/>
<path d="M159.9 463.3Q156.9 465.9 158.2 469.7Q161.1 467.0 159.9 463.3Z" fill="#a4a4a4" stroke="#3e3e3e" stroke-width="0.75" opacity="0.60"/>
<path d="M159.7 464.2Q158.4 466.3 158.5 468.8" stroke="#f4f4f4" stroke-width="1.0" fill="none" opacity="0.60" stroke-linecap="round"/>
<path d="M144.9 521.3Q138.2 522.6 132.3 526.0Q139.7 526.7 144.9 521.3Z" fill="#a4a4a4" stroke="#3e3e3e" stroke-width="0.75" opacity="0.60"/>
<path d="M143.0 522.0Q138.7 524.0 134.2 525.3" stroke="#f4f4f4" stroke-width="1.0" fill="none" opacity="0.60" stroke-linecap="round"/>
<path d="M8.3 421.6Q7.8 426.8 8.6 432.0Q10.7 426.7 8.3 421.6Z" fill="#a4a4a4" stroke="#3e3e3e" stroke-width="0.75" opacity="0.60"/>
<path d="M8.4 423.1Q8.8 426.8 8.6 430.4" stroke="#f4f4f4" stroke-width="1.0" fill="none" opacity="0.60" stroke-linecap="round"/>
<path d="M49.1 587.1Q56.1 590.0 63.1 587.2Q56.1 587.1 49.1 587.1Z" fill="#a4a4a4" stroke="#3e3e3e" stroke-width="0.75" opacity="0.60"/>
<path d="M118.1 595.2Q119.6 600.0 124.0 602.7Q123.2 597.3 118.1 595.2Z" fill="#a4a4a4" stroke="#3e3e3e" stroke-width="0.75" opacity="0.60"/>
<path d="M119.0 596.3Q120.9 599.1 123.1 601.5" stroke="#f4f4f4" stroke-width="1.0" fill="none" opacity="0.60" stroke-linecap="round"/>
<path d="M61.6 506.0Q63.0 508.5 65.2 510.3Q66.2 505.8 61.6 506.0Z" fill="#a4a4a4" stroke="#3e3e3e" stroke-width="0.75" opacity="0.60"/>
<path d="M62.1 506.7Q64.1 507.5 64.7 509.6" stroke="#f4f4f4" stroke-width="1.0" fill="none" opacity="0.60" stroke-linecap="round"/>
<circle cx="114" cy="483.5" r="2.6" fill="#f4f4f4" opacity="0.95"/>
<circle cx="111.5" cy="481" r="1.6" fill="#f4f4f4" opacity="0.95"/>
<circle cx="75.3" cy="496" r="2.0" fill="#f4f4f4" opacity="0.95"/>
<circle cx="160.7" cy="483.5" r="1.8" fill="#f4f4f4" opacity="0.95"/>
<circle cx="16.3" cy="545.1" r="1.6" fill="#f4f4f4" opacity="0.95"/>
<circle cx="32.6" cy="546.4" r="1.6" fill="#f4f4f4" opacity="0.95"/>
<circle cx="51.5" cy="536.3" r="1.4" fill="#f4f4f4" opacity="0.95"/>
<circle cx="106.7" cy="607.9" r="1.5" fill="#f4f4f4" opacity="0.95"/>
<circle cx="81.6" cy="575.2" r="1.3" fill="#f4f4f4" opacity="0.95"/>
<circle cx="99.2" cy="536.3" r="1.8" fill="#f4f4f4" opacity="0.95"/>
<circle cx="66.5" cy="530" r="1.7" fill="#f4f4f4" opacity="0.95"/>
<circle cx="45" cy="441" r="1.5" fill="#f4f4f4" opacity="0.95"/>
<circle cx="52" cy="444" r="1.3" fill="#f4f4f4" opacity="0.95"/>
<circle cx="158" cy="478" r="1.3" fill="#f4f4f4" opacity="0.95"/>
<circle cx="6" cy="578" r="1.2" fill="#f4f4f4" opacity="0.95"/>
<circle cx="133" cy="600.3" r="1.2" fill="#f4f4f4" opacity="0.95"/>
<circle cx="66.5" cy="530" r="0.9" fill="#222"/>
<circle cx="99.6" cy="536.6" r="0.8" fill="#222"/>
<circle cx="28.9" cy="508.6" r="1.3" fill="#222"/>
</g></g>
<g clip-path="url(#clip2)">
<rect x="173.1" y="426.1" width="163.1" height="191.7" fill="#868686"/>
<rect x="173.1" y="426.1" width="163.1" height="191.7" filter="url(#tex2)"/>
<g filter="url(#soft)">
<path d="M322.9 470.8Q324.6 474.9 328.5 477.0" stroke="#dadada" stroke-width="0.9" fill="none" opacity="0.84" stroke-linecap="round"/>
<path d="M322.9 470.8Q325.3 474.3 328.5 477.0Q327.2 472.5 322.9 470.8Z" fill="#3a3a3a" opacity="0.93"/>
<path d="M319.5 576.7Q314.2 580.4 315.1 586.8" stroke="#dadada" stroke-width="0.9" fill="none" opacity="0.77" stroke-linecap="round"/>
<path d="M319.5 576.7Q315.1 580.8 315.1 586.8Q317.7 581.9 319.5 576.7Z" fill="#3a3a3a" opacity="0.85"/>
<path d="M180.4 561.6Q178.7 566.9 181.9 571.4" stroke="#dadada" stroke-width="0.9" fill="none" opacity="0.56" stroke-linecap="round"/>
<path d="M180.4 561.6Q179.6 566.7 181.9 571.4Q182.1 566.4 180.4 561.6Z" fill="#3a3a3a" opacity="0.62"/>
<path d="M323.9 446.9Q322.3 450.7 324.6 454.1" stroke="#dadada" stroke-width="0.9" fill="none" opacity="0.85" stroke-linecap="round"/>
<path d="M323.9 446.9Q323.2 450.6 324.6 454.1Q326.3 450.3 323.9 446.9Z" fill="#3a3a3a" opacity="0.94"/>
<path d="M213.0 548.4Q214.1 552.9 218.1 555.3" stroke="#dadada" stroke-width="0.9" fill="none" opacity="0.59" stroke-linecap="round"/>
<path d="M213.0 548.4Q214.8 552.4 218.1 555.3Q216.7 551.0 213.0 548.4Z" fill="#3a3a3a" opacity="0.66"/>
<path d="M207.0 596.6Q203.4 599.8 207.0 603.0" stroke="#dadada" stroke-width="0.9" fill="none" opacity="0.68" stroke-linecap="round"/>
<path d="M207.0 596.6Q204.3 599.8 207.0 603.0Q207.8 599.8 207.0 596.6Z" fill="#3a3a3a" opacity="0.76"/>
<path d="M192.4 462.0Q195.6 464.1 199.3 464.0" stroke="#dadada" stroke-width="0.9" fill="none" opacity="0.62" stroke-linecap="round"/>
<path d="M192.4 462.0Q195.8 463.2 199.3 464.0Q196.5 460.9 192.4 462.0Z" fill="#3a3a3a" opacity="0.69"/>
<path d="M268.7 593.5Q264.5 594.7 263.3 598.9" stroke="#dadada" stroke-width="0.9" fill="none" opacity="0.66" stroke-linecap="round"/>
<path d="M268.7 593.5Q265.2 595.3 263.3 598.9Q267.1 597.3 268.7 593.5Z" fill="#3a3a3a" opacity="0.73"/>
<path d="M224.6 433.7Q227.2 438.9 231.9 442.3" stroke="#dadada" stroke-width="0.9" fill="none" opacity="0.74" stroke-linecap="round"/>
<path d="M224.6 433.7Q227.9 438.3 231.9 442.3Q230.0 436.5 224.6 433.7Z" fill="#3a3a3a" opacity="0.82"/>
<path d="M311.7 465.0Q312.3 468.8 316.0 470.0" stroke="#dadada" stroke-width="0.9" fill="none" opacity="0.84" stroke-linecap="round"/>
<path d="M311.7 465.0Q313.0 468.2 316.0 470.0Q315.0 466.5 311.7 465.0Z" fill="#3a3a3a" opacity="0.93"/>
<path d="M308.9 593.3Q311.3 596.5 314.1 593.6" stroke="#dadada" stroke-width="0.9" fill="none" opacity="0.69" stroke-linecap="round"/>
<path d="M308.9 593.3Q311.4 595.6 314.1 593.6Q311.6 592.3 308.9 593.3Z" fill="#3a3a3a" opacity="0.77"/>
<path d="M267.0 420.9Q265.7 427.2 270.7 431.3" stroke="#dadada" stroke-width="0.9" fill="none" opacity="0.85" stroke-linecap="round"/>
<path d="M267.0 420.9Q266.6 426.9 270.7 431.3Q269.7 425.9 267.0 420.9Z" fill="#3a3a3a" opacity="0.94"/>
<path d="M209.9 445.0Q212.2 449.7 217.3 449.0" stroke="#dadada" stroke-width="0.9" fill="none" opacity="0.77" stroke-linecap="round"/>
<path d="M209.9 445.0Q212.6 448.9 217.3 449.0Q214.2 445.9 209.9 445.0Z" fill="#3a3a3a" opacity="0.85"/>
<path d="M278.1 568.5Q277.3 572.9 279.3 577.0" stroke="#dadada" stroke-width="0.9" fill="none" opacity="0.61" stroke-linecap="round"/>
<path d="M278.1 568.5Q278.2 572.8 279.3 577.0Q281.3 572.4 278.1 568.5Z" fill="#3a3a3a" opacity="0.68"/>
<path d="M321.5 547.5Q321.7 550.9 324.8 552.2" stroke="#dadada" stroke-width="0.9" fill="none" opacity="0.76" stroke-linecap="round"/>
<path d="M321.5 547.5Q322.4 550.4 324.8 552.2Q324.8 548.6 321.5 547.5Z" fill="#3a3a3a" opacity="0.84"/>
<path d="M191.7 435.2Q189.6 439.4 191.1 444.0" stroke="#dadada" stroke-width="0.9" fill="none" opacity="0.73" stroke-linecap="round"/>
<path d="M191.7 435.2Q190.5 439.5 191.1 444.0Q192.9 439.7 191.7 435.2Z" fill="#3a3a3a" opacity="0.81"/>
<path d="M174.1 478.3Q171.9 484.3 175.5 489.5" stroke="#dadada" stroke-width="0.9" fill="none" opacity="0.69" stroke-linecap="round"/>
<path d="M174.1 478.3Q172.8 484.1 175.5 489.5Q176.1 483.7 174.1 478.3Z" fill="#3a3a3a" opacity="0.77"/>
<path d="M216.1 472.9Q211.2 472.0 206.6 474.1" stroke="#dadada" stroke-width="0.9" fill="none" opacity="0.70" stroke-linecap="round"/>
<path d="M216.1 472.9Q211.3 472.9 206.6 474.1Q211.6 475.0 216.1 472.9Z" fill="#3a3a3a" opacity="0.77"/>
<path d="M279.9 503.2Q280.8 508.8 286.3 510.0" stroke="#dadada" stroke-width="0.9" fill="none" opacity="0.55" stroke-linecap="round"/>
<path d="M279.9 503.2Q281.5 508.2 286.3 510.0Q283.2 506.5 279.9 503.2Z" fill="#3a3a3a" opacity="0.61"/>
<path d="M229.9 504.1Q225.6 505.0 226.5 509.4" stroke="#dadada" stroke-width="0.9" fill="none" opacity="0.70" stroke-linecap="round"/>
<path d="M229.9 504.1Q226.3 505.5 226.5 509.4Q228.9 507.2 229.9 504.1Z" fill="#3a3a3a" opacity="0.78"/>
<path d="M203.7 607.7Q205.4 612.8 209.5 616.3" stroke="#dadada" stroke-width="0.9" fill="none" opacity="0.78" stroke-linecap="round"/>
<path d="M203.7 607.7Q206.1 612.3 209.5 616.3Q208.1 611.0 203.7 607.7Z" fill="#3a3a3a" opacity="0.87"/>
<path d="M221.2 605.5Q219.6 608.6 221.2 611.7" stroke="#dadada" stroke-width="0.9" fill="none" opacity="0.75" stroke-linecap="round"/>
<path d="M221.2 605.5Q220.5 608.6 221.2 611.7Q223.2 608.6 221.2 605.5Z" fill="#3a3a3a" opacity="0.83"/>
<path d="M326.8 451.1Q324.8 455.2 328.9 457.2" stroke="#dadada" stroke-width="0.9" fill="none" opacity="0.56" stroke-linecap="round"/>
<path d="M326.8 451.1Q325.7 454.9 328.9 457.2Q327.9 454.2 326.8 451.1Z" fill="#3a3a3a" opacity="0.62"/>
<path d="M188.0 499.8Q181.9 498.5 177.8 503.2" stroke="#dadada" stroke-width="0.9" fill="none" opacity="0.83" stroke-linecap="round"/>
<path d="M188.0 499.8Q182.2 499.3 177.8 503.2Q183.3 502.6 188.0 499.8Z" fill="#3a3a3a" opacity="0.93"/>
<path d="M231.6 460.7Q226.5 460.4 222.0 462.6" stroke="#dadada" stroke-width="0.9" fill="none" opacity="0.66" stroke-linecap="round"/>
<path d="M231.6 460.7Q226.7 461.3 222.0 462.6Q227.3 464.2 231.6 460.7Z" fill="#3a3a3a" opacity="0.73"/>
<path d="M231.9 488.4Q233.2 491.1 236.2 491.0" stroke="#dadada" stroke-width="0.9" fill="none" opacity="0.84" stroke-linecap="round"/>
<path d="M231.9 488.4Q233.7 490.3 236.2 491.0Q235.0 488.1 231.9 488.4Z" fill="#3a3a3a" opacity="0.93"/>
<path d="M190.4 608.7Q191.3 613.6 196.2 613.2" stroke="#dadada" stroke-width="0.9" fill="none" opacity="0.68" stroke-linecap="round"/>
<path d="M190.4 608.7Q191.8 612.8 196.2 613.2Q193.8 610.3 190.4 608.7Z" fill="#3a3a3a" opacity="0.75"/>
<path d="M179.0 511.8Q179.8 517.4 183.3 521.9" stroke="#dadada" stroke-width="0.9" fill="none" opacity="0.82" stroke-linecap="round"/>
<path d="M179.0 511.8Q180.6 517.1 183.3 521.9Q183.0 516.1 179.0 511.8Z" fill="#3a3a3a" opacity="0.91"/>
<path d="M182.2 502.1Q177.6 504.1 173.9 507.6" stroke="#dadada" stroke-width="0.9" fill="none" opacity="0.56" stroke-linecap="round"/>
<path d="M182.2 502.1Q178.1 504.9 173.9 507.6Q179.3 506.7 182.2 502.1Z" fill="#3a3a3a" opacity="0.62"/>
<path d="M327.0 471.5Q321.9 474.1 319.4 479.2" stroke="#dadada" stroke-width="0.9" fill="none" opacity="0.84" stroke-linecap="round"/>
<path d="M327.0 471.5Q322.6 474.8 319.4 479.2Q324.3 476.5 327.0 471.5Z" fill="#3a3a3a" opacity="0.94"/>
<path d="M275.9 473.6Q272.6 475.5 271.5 479.1" stroke="#dadada" stroke-width="0.9" fill="none" opacity="0.78" stroke-linecap="round"/>
<path d="M275.9 473.6Q273.3 476.0 271.5 479.1Q275.0 477.4 275.9 473.6Z" fill="#3a3a3a" opacity="0.86"/>
<path d="M325.1 547.2Q322.3 546.0 320.0 548.1" stroke="#dadada" stroke-width="0.9" fill="none" opacity="0.84" stroke-linecap="round"/>
<path d="M325.1 547.2Q322.4 546.9 320.0 548.1Q322.9 549.6 325.1 547.2Z" fill="#3a3a3a" opacity="0.93"/>
<path d="M325.9 497.4Q326.9 502.0 331.4 503.0" stroke="#dadada" stroke-width="0.9" fill="none" opacity="0.60" stroke-linecap="round"/>
<path d="M325.9 497.4Q327.5 501.4 331.4 503.0Q329.9 499.0 325.9 497.4Z" fill="#3a3a3a" opacity="0.66"/>
<path d="M308.3 565.0Q302.7 565.6 299.7 570.3" stroke="#dadada" stroke-width="0.9" fill="none" opacity="0.64" stroke-linecap="round"/>
<path d="M308.3 565.0Q303.2 566.4 299.7 570.3Q304.5 568.5 308.3 565.0Z" fill="#3a3a3a" opacity="0.71"/>
<path d="M229.1 575.3Q231.4 578.7 235.2 576.8" stroke="#dadada" stroke-width="0.9" fill="none" opacity="0.56" stroke-linecap="round"/>
<path d="M229.1 575.3Q231.7 577.8 235.2 576.8Q232.3 575.5 229.1 575.3Z" fill="#3a3a3a" opacity="0.62"/>
<path d="M175.7 527.2Q175.6 533.9 181.6 536.9" stroke="#dadada" stroke-width="0.9" fill="none" opacity="0.62" stroke-linecap="round"/>
<path d="M175.7 527.2Q176.4 533.4 181.6 536.9Q179.3 531.6 175.7 527.2Z" fill="#3a3a3a" opacity="0.69"/>
<path d="M186.8 439.8Q184.8 444.6 186.8 449.4" stroke="#dadada" stroke-width="0.9" fill="none" opacity="0.67" stroke-linecap="round"/>
<path d="M186.8 439.8Q185.7 444.6 186.8 449.4Q188.1 444.6 186.8 439.8Z" fill="#3a3a3a" opacity="0.75"/>
<path d="M278.0 551.6Q272.5 553.6 270.6 559.1" stroke="#dadada" stroke-width="0.9" fill="none" opacity="0.80" stroke-linecap="round"/>
<path d="M278.0 551.6Q273.2 554.3 270.6 559.1Q274.8 555.8 278.0 551.6Z" fill="#3a3a3a" opacity="0.89"/>
<path d="M219.1 530.3Q219.7 535.3 222.9 539.3" stroke="#dadada" stroke-width="0.9" fill="none" opacity="0.62" stroke-linecap="round"/>
<path d="M219.1 530.3Q220.6 535.0 222.9 539.3Q222.8 534.0 219.1 530.3Z" fill="#3a3a3a" opacity="0.69"/>
<path d="M199.0 592.1Q195.8 595.0 197.2 599.0" stroke="#dadada" stroke-width="0.9" fill="none" opacity="0.70" stroke-linecap="round"/>
<path d="M199.0 592.1Q196.7 595.2 197.2 599.0Q200.0 596.1 199.0 592.1Z" fill="#3a3a3a" opacity="0.78"/>
<path d="M213.5 576.0Q209.7 580.5 208.2 586.1" stroke="#dadada" stroke-width="0.9" fill="none" opacity="0.80" stroke-linecap="round"/>
<path d="M213.5 576.0Q210.5 580.9 208.2 586.1Q212.9 582.2 213.5 576.0Z" fill="#3a3a3a" opacity="0.89"/>
<path d="M306.8 600.9Q310.0 602.5 313.6 601.8" stroke="#dadada" stroke-width="0.9" fill="none" opacity="0.85" stroke-linecap="round"/>
<path d="M306.8 600.9Q310.2 601.6 313.6 601.8Q310.5 599.3 306.8 600.9Z" fill="#3a3a3a" opacity="0.94"/>
<path d="M266.1 599.5Q266.4 605.2 270.3 609.3" stroke="#dadada" stroke-width="0.9" fill="none" opacity="0.78" stroke-linecap="round"/>
<path d="M266.1 599.5Q267.2 604.8 270.3 609.3Q269.5 603.9 266.1 599.5Z" fill="#3a3a3a" opacity="0.87"/>
<path d="M328.7 442.1Q325.9 445.9 326.0 450.7" stroke="#dadada" stroke-width="0.9" fill="none" opacity="0.58" stroke-linecap="round"/>
<path d="M328.7 442.1Q326.8 446.2 326.0 450.7Q329.2 447.0 328.7 442.1Z" fill="#3a3a3a" opacity="0.65"/>
<path d="M207.8 470.6Q205.2 474.6 204.9 479.4" stroke="#dadada" stroke-width="0.9" fill="none" opacity="0.64" stroke-linecap="round"/>
<path d="M207.8 470.6Q206.0 474.9 204.9 479.4Q208.1 475.5 207.8 470.6Z" fill="#3a3a3a" opacity="0.71"/>
<path d="M282.0 459.0Q281.2 463.3 285.5 464.2" stroke="#dadada" stroke-width="0.9" fill="none" opacity="0.56" stroke-linecap="round"/>
<path d="M282.0 459.0Q282.0 462.8 285.5 464.2Q284.3 461.2 282.0 459.0Z" fill="#3a3a3a" opacity="0.62"/>
<path d="M190.4 497.4Q188.6 501.7 188.9 506.4" stroke="#dadada" stroke-width="0.9" fill="none" opacity="0.76" stroke-linecap="round"/>
<path d="M190.4 497.4Q189.5 501.9 188.9 506.4Q191.8 502.2 190.4 497.4Z" fill="#3a3a3a" opacity="0.84"/>
<path d="M236.8 475.8Q238.4 481.5 243.1 485.0" stroke="#dadada" stroke-width="0.9" fill="none" opacity="0.65" stroke-linecap="round"/>
<path d="M236.8 475.8Q239.1 481.0 243.1 485.0Q241.5 479.3 236.8 475.8Z" fill="#3a3a3a" opacity="0.73"/>
<path d="M244.7 591.7Q241.0 590.1 237.3 591.8" stroke="#dadada" stroke-width="0.9" fill="none" opacity="0.60" stroke-linecap="round"/>
<path d="M244.7 591.7Q241.0 591.0 237.3 591.8Q241.0 594.0 244.7 591.7Z" fill="#3a3a3a" opacity="0.67"/>
<path d="M172.8 593.9Q171.8 599.5 175.3 604.0" stroke="#dadada" stroke-width="0.9" fill="none" opacity="0.69" stroke-linecap="round"/>
<path d="M172.8 593.9Q172.7 599.3 175.3 604.0Q175.9 598.5 172.8 593.9Z" fill="#3a3a3a" opacity="0.76"/>
<path d="M200.3 424.4Q196.7 428.5 198.9 433.5" stroke="#dadada" stroke-width="0.9" fill="none" opacity="0.74" stroke-linecap="round"/>
<path d="M200.3 424.4Q197.5 428.6 198.9 433.5Q199.7 429.0 200.3 424.4Z" fill="#3a3a3a" opacity="0.82"/>
<path d="M230.5 521.3Q232.4 525.2 236.7 524.3" stroke="#dadada" stroke-width="0.9" fill="none" opacity="0.57" stroke-linecap="round"/>
<path d="M230.5 521.3Q232.8 524.4 236.7 524.3Q234.3 521.3 230.5 521.3Z" fill="#3a3a3a" opacity="0.64"/>
<path d="M256.2 580.1Q252.9 578.7 250.0 580.7" stroke="#dadada" stroke-width="0.9" fill="none" opacity="0.85" stroke-linecap="round"/>
<path d="M256.2 580.1Q253.0 579.6 250.0 580.7Q253.4 583.0 256.2 580.1Z" fill="#3a3a3a" opacity="0.94"/>
<path d="M255.5 435.5Q251.1 433.1 248.2 437.2" stroke="#dadada" stroke-width="0.9" fill="none" opacity="0.80" stroke-linecap="round"/>
<path d="M255.5 435.5Q251.3 434.0 248.2 437.2Q251.9 436.8 255.5 435.5Z" fill="#3a3a3a" opacity="0.89"/>
<path d="M196.3 574.3Q197.1 579.3 202.2 579.2" stroke="#dadada" stroke-width="0.9" fill="none" opacity="0.60" stroke-linecap="round"/>
<path d="M196.3 574.3Q197.7 578.6 202.2 579.2Q199.7 576.1 196.3 574.3Z" fill="#3a3a3a" opacity="0.66"/>
<path d="M208.9 499.0Q207.5 502.7 208.5 506.5" stroke="#dadada" stroke-width="0.9" fill="none" opacity="0.77" stroke-linecap="round"/>
<path d="M208.9 499.0Q208.4 502.7 208.5 506.5Q210.8 502.9 208.9 499.0Z" fill="#3a3a3a" opacity="0.85"/>
<path d="M320.4 429.1Q318.1 433.7 318.5 438.8" stroke="#dadada" stroke-width="0.9" fill="none" opacity="0.58" stroke-linecap="round"/>
<path d="M320.4 429.1Q319.0 433.9 318.5 438.8Q322.1 434.5 320.4 429.1Z" fill="#3a3a3a" opacity="0.64"/>
<path d="M272.2 528.3Q268.9 530.7 269.5 534.8" stroke="#dadada" stroke-width="0.9" fill="none" opacity="0.67" stroke-linecap="round"/>
<path d="M272.2 528.3Q269.7 531.1 269.5 534.8Q272.4 532.2 272.2 528.3Z" fill="#3a3a3a" opacity="0.75"/>
<path d="M280.1 509.2Q278.0 512.2 281.1 514.3" stroke="#dadada" stroke-width="0.9" fill="none" opacity="0.61" stroke-linecap="round"/>
<path d="M280.1 509.2Q278.9 512.1 281.1 514.3Q281.6 511.5 280.1 509.2Z" fill="#3a3a3a" opacity="0.68"/>
<path d="M297.2 572.6Q295.7 575.9 298.0 578.7" stroke="#dadada" stroke-width="0.9" fill="none" opacity="0.58" stroke-linecap="round"/>
<path d="M297.2 572.6Q296.6 575.8 298.0 578.7Q298.8 575.5 297.2 572.6Z" fill="#3a3a3a" opacity="0.64"/>
<path d="M242.6 439.6Q242.1 443.9 244.1 447.8" stroke="#dadada" stroke-width="0.9" fill="none" opacity="0.57" stroke-linecap="round"/>
<path d="M242.6 439.6Q243.0 443.7 244.1 447.8Q245.9 443.2 242.6 439.6Z" fill="#3a3a3a" opacity="0.63"/>
<path d="M292.8 572.5Q290.5 575.1 292.6 577.8" stroke="#dadada" stroke-width="0.9" fill="none" opacity="0.84" stroke-linecap="round"/>
<path d="M292.8 572.5Q291.4 575.1 292.6 577.8Q294.0 575.2 292.8 572.5Z" fill="#3a3a3a" opacity="0.93"/>
<path d="M200.2 590.3Q195.3 587.6 190.4 590.5" stroke="#dadada" stroke-width="0.9" fill="none" opacity="0.85" stroke-linecap="round"/>
<path d="M200.2 590.3Q195.3 588.5 190.4 590.5Q195.3 590.8 200.2 590.3Z" fill="#3a3a3a" opacity="0.94"/>
<path d="M256.3 608.7Q252.5 606.3 250.4 610.3" stroke="#dadada" stroke-width="0.9" fill="none" opacity="0.56" stroke-linecap="round"/>
<path d="M256.3 608.7Q252.7 607.2 250.4 610.3Q253.6 610.4 256.3 608.7Z" fill="#3a3a3a" opacity="0.62"/>
<path d="M225.6 568.5Q229.4 572.8 235.1 573.6" stroke="#dadada" stroke-width="0.9" fill="none" opacity="0.59" stroke-linecap="round"/>
<path d="M225.6 568.5Q229.8 572.0 235.1 573.6Q231.4 569.2 225.6 568.5Z" fill="#3a3a3a" opacity="0.65"/>
<path d="M252.4 600.4Q253.7 604.2 257.7 604.5" stroke="#dadada" stroke-width="0.9" fill="none" opacity="0.55" stroke-linecap="round"/>
<path d="M252.4 600.4Q254.2 603.5 257.7 604.5Q255.8 601.5 252.4 600.4Z" fill="#3a3a3a" opacity="0.61"/>
<path d="M207.4 456.1Q202.2 454.1 198.2 457.9" stroke="#dadada" stroke-width="0.9" fill="none" opacity="0.79" stroke-linecap="round"/>
<path d="M207.4 456.1Q202.4 454.9 198.2 457.9Q202.8 457.2 207.4 456.1Z" fill="#3a3a3a" opacity="0.87"/>
<path d="M193.4 524.5Q188.9 526.5 190.3 531.2" stroke="#dadada" stroke-width="0.9" fill="none" opacity="0.72" stroke-linecap="round"/>
<path d="M193.4 524.5Q189.8 526.9 190.3 531.2Q192.4 528.1 193.4 524.5Z" fill="#3a3a3a" opacity="0.80"/>
<path d="M321.6 446.1Q317.0 443.9 312.5 446.3" stroke="#dadada" stroke-width="0.9" fill="none" opacity="0.62" stroke-linecap="round"/>
<path d="M321.6 446.1Q317.0 444.8 312.5 446.3Q317.1 448.0 321.6 446.1Z" fill="#3a3a3a" opacity="0.69"/>
<path d="M332.5 532.3Q332.9 537.6 336.8 541.3" stroke="#dadada" stroke-width="0.9" fill="none" opacity="0.77" stroke-linecap="round"/>
<path d="M332.5 532.3Q333.7 537.2 336.8 541.3Q335.8 536.2 332.5 532.3Z" fill="#3a3a3a" opacity="0.86"/>
<path d="M177.8 580.0Q178.5 585.7 184.2 586.5" stroke="#dadada" stroke-width="0.9" fill="none" opacity="0.75" stroke-linecap="round"/>
<path d="M177.8 580.0Q179.1 585.1 184.2 586.5Q181.2 583.1 177.8 580.0Z" fill="#3a3a3a" opacity="0.83"/>
<path d="M221.1 426.1Q223.8 428.9 227.1 426.8" stroke="#dadada" stroke-width="0.9" fill="none" opacity="0.70" stroke-linecap="round"/>
<path d="M221.1 426.1Q223.9 428.1 227.1 426.8Q224.2 425.4 221.1 426.1Z" fill="#3a3a3a" opacity="0.78"/>
<path d="M315.7 448.4Q318.6 452.0 322.7 454.4" stroke="#dadada" stroke-width="0.9" fill="none" opacity="0.65" stroke-linecap="round"/>
<path d="M315.7 448.4Q319.2 451.3 322.7 454.4Q320.6 449.7 315.7 448.4Z" fill="#3a3a3a" opacity="0.72"/>
<path d="M187.1 491.7Q189.0 496.3 193.8 497.4" stroke="#dadada" stroke-width="0.9" fill="none" opacity="0.74" stroke-linecap="round"/>
<path d="M187.1 491.7Q189.5 495.6 193.8 497.4Q191.1 493.8 187.1 491.7Z" fill="#3a3a3a" opacity="0.82"/>
<path d="M253.8 451.3Q250.3 450.8 247.3 452.6" stroke="#dadada" stroke-width="0.9" fill="none" opacity="0.74" stroke-linecap="round"/>
<path d="M253.8 451.3Q250.5 451.7 247.3 452.6Q250.9 453.8 253.8 451.3Z" fill="#3a3a3a" opacity="0.82"/>
<path d="M314.2 572.8Q314.1 576.4 316.2 579.2" stroke="#dadada" stroke-width="0.9" fill="none" opacity="0.72" stroke-linecap="round"/>
<path d="M314.2 572.8Q314.9 576.1 316.2 579.2Q317.7 575.2 314.2 572.8Z" fill="#3a3a3a" opacity="0.80"/>
<path d="M229.3 544.4Q227.6 550.3 231.2 555.3" stroke="#dadada" stroke-width="0.9" fill="none" opacity="0.82" stroke-linecap="round"/>
<path d="M229.3 544.4Q228.5 550.2 231.2 555.3Q230.9 549.7 229.3 544.4Z" fill="#3a3a3a" opacity="0.92"/>
<path d="M179.3 524.9Q178.9 528.4 181.2 531.1" stroke="#dadada" stroke-width="0.9" fill="none" opacity="0.54" stroke-linecap="round"/>
<path d="M179.3 524.9Q179.8 528.1 181.2 531.1Q182.8 527.2 179.3 524.9Z" fill="#3a3a3a" opacity="0.60"/>
<path d="M260.1 605.1Q261.9 608.8 265.8 607.8" stroke="#dadada" stroke-width="0.9" fill="none" opacity="0.74" stroke-linecap="round"/>
<path d="M260.1 605.1Q262.2 608.0 265.8 607.8Q263.4 605.5 260.1 605.1Z" fill="#3a3a3a" opacity="0.82"/>
<path d="M303.8 456.7Q304.6 460.4 307.7 462.4" stroke="#dadada" stroke-width="0.9" fill="none" opacity="0.79" stroke-linecap="round"/>
<path d="M303.8 456.7Q305.3 459.9 307.7 462.4Q308.0 458.0 303.8 456.7Z" fill="#3a3a3a" opacity="0.87"/>
<path d="M294.1 425.0Q288.7 425.2 285.4 429.6" stroke="#dadada" stroke-width="0.9" fill="none" opacity="0.68" stroke-linecap="round"/>
<path d="M294.1 425.0Q289.1 426.0 285.4 429.6Q290.5 428.8 294.1 425.0Z" fill="#3a3a3a" opacity="0.76"/>
<path d="M208.0 444.5Q208.6 447.8 211.9 448.0" stroke="#dadada" stroke-width="0.9" fill="none" opacity="0.76" stroke-linecap="round"/>
<path d="M208.0 444.5Q209.2 447.1 211.9 448.0Q211.3 444.8 208.0 444.5Z" fill="#3a3a3a" opacity="0.84"/>
<path d="M308.1 559.3Q309.2 564.1 313.9 565.7" stroke="#dadada" stroke-width="0.9" fill="none" opacity="0.70" stroke-linecap="round"/>
<path d="M308.1 559.3Q309.9 563.5 313.9 565.7Q312.3 561.4 308.1 559.3Z" fill="#3a3a3a" opacity="0.78"/>
<path d="M219.6 548.8Q216.1 546.3 213.2 549.5" stroke="#dadada" stroke-width="0.9" fill="none" opacity="0.62" stroke-linecap="round"/>
<path d="M219.6 548.8Q216.2 547.2 213.2 549.5Q216.4 549.3 219.6 548.8Z" fill="#3a3a3a" opacity="0.69"/>
<path d="M216.5 567.9Q211.2 566.6 206.8 569.6" stroke="#dadada" stroke-width="0.9" fill="none" opacity="0.64" stroke-linecap="round"/>
<path d="M216.5 567.9Q211.4 567.5 206.8 569.6Q212.0 570.7 216.5 567.9Z" fill="#3a3a3a" opacity="0.71"/>
<path d="M214.0 595.7Q209.4 598.9 210.2 604.4" stroke="#dadada" stroke-width="0.9" fill="none" opacity="0.69" stroke-linecap="round"/>
<path d="M214.0 595.7Q210.2 599.2 210.2 604.4Q213.3 600.6 214.0 595.7Z" fill="#3a3a3a" opacity="0.76"/>
<path d="M313.6 558.1Q308.8 557.2 306.5 561.5" stroke="#dadada" stroke-width="0.9" fill="none" opacity="0.64" stroke-linecap="round"/>
<path d="M313.6 558.1Q309.2 558.1 306.5 561.5Q310.4 560.6 313.6 558.1Z" fill="#3a3a3a" opacity="0.71"/>
<path d="M202.4 544.1Q207.4 546.5 213.0 546.8" stroke="#dadada" stroke-width="0.9" fill="none" opacity="0.57" stroke-linecap="round"/>
<path d="M202.4 544.1Q207.6 545.7 213.0 546.8Q208.1 543.6 202.4 544.1Z" fill="#3a3a3a" opacity="0.64"/>
<path d="M322.3 491.1Q324.0 493.4 327.0 493.3" stroke="#dadada" stroke-width="0.9" fill="none" opacity="0.74" stroke-linecap="round"/>
<path d="M322.3 491.1Q324.4 492.6 327.0 493.3Q325.7 489.8 322.3 491.1Z" fill="#3a3a3a" opacity="0.82"/>
<path d="M282.5 566.4Q286.3 569.5 291.1 568.2" stroke="#dadada" stroke-width="0.9" fill="none" opacity="0.80" stroke-linecap="round"/>
<path d="M282.5 566.4Q286.5 568.6 291.1 568.2Q287.2 565.5 282.5 566.4Z" fill="#3a3a3a" opacity="0.89"/>
<path d="M323.5 436.5Q317.2 435.9 313.5 441.0" stroke="#dadada" stroke-width="0.9" fill="none" opacity="0.60" stroke-linecap="round"/>
<path d="M323.5 436.5Q317.6 436.7 313.5 441.0Q318.5 438.8 323.5 436.5Z" fill="#3a3a3a" opacity="0.67"/>
<path d="M195.9 430.3Q190.1 430.2 186.8 435.1" stroke="#dadada" stroke-width="0.9" fill="none" opacity="0.74" stroke-linecap="round"/>
<path d="M195.9 430.3Q190.5 431.0 186.8 435.1Q192.0 433.8 195.9 430.3Z" fill="#3a3a3a" opacity="0.82"/>
<path d="M215.2 443.7Q219.5 446.6 224.7 446.7" stroke="#dadada" stroke-width="0.9" fill="none" opacity="0.67" stroke-linecap="round"/>
<path d="M215.2 443.7Q219.8 445.8 224.7 446.7Q220.6 443.4 215.2 443.7Z" fill="#3a3a3a" opacity="0.75"/>
<path d="M173.5 471.6Q175.1 476.5 179.6 479.1" stroke="#dadada" stroke-width="0.9" fill="none" opacity="0.84" stroke-linecap="round"/>
<path d="M173.5 471.6Q175.8 475.9 179.6 479.1Q177.7 474.3 173.5 471.6Z" fill="#3a3a3a" opacity="0.94"/>
<path d="M256.2 586.9Q253.4 588.6 254.3 591.7" stroke="#dadada" stroke-width="0.9" fill="none" opacity="0.78" stroke-linecap="round"/>
<path d="M256.2 586.9Q254.2 588.9 254.3 591.7Q256.7 589.9 256.2 586.9Z" fill="#3a3a3a" opacity="0.87"/>
<path d="M230.0 558.0Q226.8 560.8 229.3 564.4" stroke="#dadada" stroke-width="0.9" fill="none" opacity="0.80" stroke-linecap="round"/>
<path d="M230.0 558.0Q227.7 560.9 229.3 564.4Q229.9 561.2 230.0 558.0Z" fill="#3a3a3a" opacity="0.89"/>
<path d="M196.9 423.4Q199.0 428.8 204.9 429.3" stroke="#dadada" stroke-width="0.9" fill="none" opacity="0.69" stroke-linecap="round"/>
<path d="M196.9 423.4Q199.6 428.1 204.9 429.3Q200.8 426.4 196.9 423.4Z" fill="#3a3a3a" opacity="0.77"/>
<path d="M249.8 576.6Q252.1 580.6 256.7 581.1" stroke="#dadada" stroke-width="0.9" fill="none" opacity="0.62" stroke-linecap="round"/>
<path d="M249.8 576.6Q252.6 579.9 256.7 581.1Q254.3 577.2 249.8 576.6Z" fill="#3a3a3a" opacity="0.69"/>
<path d="M323.3 477.5Q325.8 482.1 330.8 483.5" stroke="#dadada" stroke-width="0.9" fill="none" opacity="0.74" stroke-linecap="round"/>
<path d="M323.3 477.5Q326.3 481.4 330.8 483.5Q327.7 479.6 323.3 477.5Z" fill="#3a3a3a" opacity="0.82"/>
<path d="M189.2 573.0Q184.3 575.7 183.4 581.3" stroke="#dadada" stroke-width="0.9" fill="none" opacity="0.67" stroke-linecap="round"/>
<path d="M189.2 573.0Q185.0 576.2 183.4 581.3Q187.1 577.7 189.2 573.0Z" fill="#3a3a3a" opacity="0.74"/>
<path d="M232.3 595.4Q237.2 597.7 242.7 598.2" stroke="#dadada" stroke-width="0.9" fill="none" opacity="0.62" stroke-linecap="round"/>
<path d="M232.3 595.4Q237.4 596.8 242.7 598.2Q238.1 594.5 232.3 595.4Z" fill="#3a3a3a" opacity="0.69"/>
<path d="M318.1 517.2Q318.6 522.8 322.1 527.2" stroke="#dadada" stroke-width="0.9" fill="none" opacity="0.71" stroke-linecap="round"/>
<path d="M318.1 517.2Q319.4 522.4 322.1 527.2Q321.9 521.4 318.1 517.2Z" fill="#3a3a3a" opacity="0.79"/>
<path d="M297.8 567.2Q294.7 569.7 294.5 573.7" stroke="#dadada" stroke-width="0.9" fill="none" opacity="0.81" stroke-linecap="round"/>
<path d="M297.8 567.2Q295.5 570.1 294.5 573.7Q297.6 571.1 297.8 567.2Z" fill="#3a3a3a" opacity="0.90"/>
<path d="M277.7 566.3Q279.6 570.9 284.5 570.3" stroke="#dadada" stroke-width="0.9" fill="none" opacity="0.58" stroke-linecap="round"/>
<path d="M277.7 566.3Q280.0 570.1 284.5 570.3Q281.5 567.7 277.7 566.3Z" fill="#3a3a3a" opacity="0.64"/>
<path d="M246.2 593.7Q247.1 597.2 250.7 597.9" stroke="#dadada" stroke-width="0.9" fill="none" opacity="0.81" stroke-linecap="round"/>
<path d="M246.2 593.7Q247.7 596.5 250.7 597.9Q249.8 594.3 246.2 593.7Z" fill="#3a3a3a" opacity="0.90"/>
<path d="M195.8 453.5Q196.8 457.5 200.9 458.5" stroke="#dadada" stroke-width="0.9" fill="none" opacity="0.64" stroke-linecap="round"/>
<path d="M195.8 453.5Q197.5 456.9 200.9 458.5Q199.1 455.2 195.8 453.5Z" fill="#3a3a3a" opacity="0.71"/>
<path d="M205.8 610.9Q201.6 611.0 202.1 615.2" stroke="#dadada" stroke-width="0.9" fill="none" opacity="0.66" stroke-linecap="round"/>
<path d="M205.8 610.9Q202.3 611.6 202.1 615.2Q204.0 613.0 205.8 610.9Z" fill="#3a3a3a" opacity="0.73"/>
<path d="M336.2 575.6Q332.3 577.4 330.9 581.4" stroke="#dadada" stroke-width="0.9" fill="none" opacity="0.57" stroke-linecap="round"/>
<path d="M336.2 575.6Q333.0 578.0 330.9 581.4Q335.2 580.0 336.2 575.6Z" fill="#3a3a3a" opacity="0.64"/>
<path d="M203.0 500.1Q206.4 503.6 210.5 500.9" stroke="#dadada" stroke-width="0.9" fill="none" opacity="0.70" stroke-linecap="round"/>
<path d="M203.0 500.1Q206.5 502.7 210.5 500.9Q206.9 499.7 203.0 500.1Z" fill="#3a3a3a" opacity="0.78"/>
<path d="M272.2 513.0Q275.3 516.9 280.3 516.8" stroke="#dadada" stroke-width="0.9" fill="none" opacity="0.83" stroke-linecap="round"/>
<path d="M272.2 513.0Q275.7 516.1 280.3 516.8Q277.0 513.3 272.2 513.0Z" fill="#3a3a3a" opacity="0.92"/>
<path d="M246.0 533.4Q242.0 534.9 240.5 538.9" stroke="#dadada" stroke-width="0.9" fill="none" opacity="0.82" stroke-linecap="round"/>
<path d="M246.0 533.4Q242.6 535.5 240.5 538.9Q244.8 537.7 246.0 533.4Z" fill="#3a3a3a" opacity="0.91"/>
<path d="M303.6 558.2Q298.2 558.0 295.1 562.4" stroke="#dadada" stroke-width="0.9" fill="none" opacity="0.64" stroke-linecap="round"/>
<path d="M303.6 558.2Q298.6 558.8 295.1 562.4Q299.8 561.2 303.6 558.2Z" fill="#3a3a3a" opacity="0.71"/>
<path d="M274.3 440.0Q272.8 445.6 276.8 449.7" stroke="#dadada" stroke-width="0.9" fill="none" opacity="0.62" stroke-linecap="round"/>
<path d="M274.3 440.0Q273.6 445.4 276.8 449.7Q276.5 444.6 274.3 440.0Z" fill="#3a3a3a" opacity="0.69"/>
<path d="M243.6 509.8Q239.4 512.2 240.8 516.9" stroke="#dadada" stroke-width="0.9" fill="none" opacity="0.60" stroke-linecap="round"/>
<path d="M243.6 509.8Q240.2 512.6 240.8 516.9Q243.4 513.8 243.6 509.8Z" fill="#3a3a3a" opacity="0.66"/>
<path d="M278.4 571.4Q276.9 576.3 281.2 579.1" stroke="#dadada" stroke-width="0.9" fill="none" opacity="0.71" stroke-linecap="round"/>
<path d="M278.4 571.4Q277.8 576.0 281.2 579.1Q279.8 575.3 278.4 571.4Z" fill="#3a3a3a" opacity="0.79"/>
<path d="M203.4 575.2Q199.1 574.6 195.2 576.7" stroke="#dadada" stroke-width="0.9" fill="none" opacity="0.71" stroke-linecap="round"/>
<path d="M203.4 575.2Q199.2 575.5 195.2 576.7Q199.8 578.3 203.4 575.2Z" fill="#3a3a3a" opacity="0.79"/>
<path d="M292.3 519.6Q288.0 523.3 287.9 529.0" stroke="#dadada" stroke-width="0.9" fill="none" opacity="0.84" stroke-linecap="round"/>
<path d="M292.3 519.6Q288.8 523.7 287.9 529.0Q291.2 524.8 292.3 519.6Z" fill="#3a3a3a" opacity="0.93"/>
<path d="M205.7 552.6Q205.8 557.9 209.0 562.0" stroke="#dadada" stroke-width="0.9" fill="none" opacity="0.65" stroke-linecap="round"/>
<path d="M205.7 552.6Q206.6 557.6 209.0 562.0Q209.8 556.4 205.7 552.6Z" fill="#3a3a3a" opacity="0.72"/>
<path d="M181.5 476.3Q180.4 479.3 183.1 481.1" stroke="#dadada" stroke-width="0.9" fill="none" opacity="0.76" stroke-linecap="round"/>
<path d="M181.5 476.3Q181.3 479.0 183.1 481.1Q183.8 478.2 181.5 476.3Z" fill="#3a3a3a" opacity="0.84"/>
<path d="M226.8 473.7Q228.4 479.5 234.3 480.1" stroke="#dadada" stroke-width="0.9" fill="none" opacity="0.61" stroke-linecap="round"/>
<path d="M226.8 473.7Q228.9 478.8 234.3 480.1Q230.8 476.7 226.8 473.7Z" fill="#3a3a3a" opacity="0.68"/>
<path d="M301.5 499.4Q301.9 503.7 306.1 503.0" stroke="#dadada" stroke-width="0.9" fill="none" opacity="0.74" stroke-linecap="round"/>
<path d="M301.5 499.4Q302.4 503.0 306.1 503.0Q304.4 500.5 301.5 499.4Z" fill="#3a3a3a" opacity="0.82"/>
<path d="M245.3 530.2Q248.3 535.4 253.9 537.5" stroke="#dadada" stroke-width="0.9" fill="none" opacity="0.80" stroke-linecap="round"/>
<path d="M245.3 530.2Q248.9 534.7 253.9 537.5Q250.8 532.5 245.3 530.2Z" fill="#3a3a3a" opacity="0.89"/>
<path d="M303.6 512.4Q304.9 516.8 308.8 519.3" stroke="#dadada" stroke-width="0.9" fill="none" opacity="0.65" stroke-linecap="round"/>
<path d="M303.6 512.4Q305.6 516.3 308.8 519.3Q308.2 514.3 303.6 512.4Z" fill="#3a3a3a" opacity="0.72"/>
<path d="M310.6 474.3Q310.1 478.1 313.1 480.4" stroke="#dadada" stroke-width="0.9" fill="none" opacity="0.54" stroke-linecap="round"/>
<path d="M310.6 474.3Q310.9 477.7 313.1 480.4Q313.1 476.9 310.6 474.3Z" fill="#3a3a3a" opacity="0.60"/>
<path d="M288.3 477.6Q289.3 481.6 293.3 482.4" stroke="#dadada" stroke-width="0.9" fill="none" opacity="0.74" stroke-linecap="round"/>
<path d="M288.3 477.6Q289.9 480.9 293.3 482.4Q291.8 479.0 288.3 477.6Z" fill="#3a3a3a" opacity="0.82"/>
<path d="M285.8 494.4Q280.3 494.2 275.5 496.7" stroke="#dadada" stroke-width="0.9" fill="none" opacity="0.83" stroke-linecap="round"/>
<path d="M285.8 494.4Q280.5 495.0 275.5 496.7Q281.2 498.2 285.8 494.4Z" fill="#3a3a3a" opacity="0.92"/>
<path d="M304.9 450.7Q300.6 452.3 297.0 455.3" stroke="#dadada" stroke-width="0.9" fill="none" opacity="0.84" stroke-linecap="round"/>
<path d="M304.9 450.7Q301.0 453.1 297.0 455.3Q302.1 454.9 304.9 450.7Z" fill="#3a3a3a" opacity="0.93"/>
<path d="M277.3 473.1Q279.5 475.8 282.9 475.0" stroke="#dadada" stroke-width="0.9" fill="none" opacity="0.65" stroke-linecap="round"/>
<path d="M277.3 473.1Q279.8 474.9 282.9 475.0Q280.8 471.9 277.3 473.1Z" fill="#3a3a3a" opacity="0.72"/>
<path d="M200.4 597.6Q196.0 596.8 195.6 601.3" stroke="#dadada" stroke-width="0.9" fill="none" opacity="0.79" stroke-linecap="round"/>
<path d="M200.4 597.6Q196.5 597.5 195.6 601.3Q198.3 599.8 200.4 597.6Z" fill="#3a3a3a" opacity="0.87"/>
<path d="M286.2 594.2Q281.1 596.1 278.0 600.7" stroke="#dadada" stroke-width="0.9" fill="none" opacity="0.71" stroke-linecap="round"/>
<path d="M286.2 594.2Q281.6 596.8 278.0 600.7Q283.5 599.2 286.2 594.2Z" fill="#3a3a3a" opacity="0.79"/>
<path d="M298.1 508.6Q293.5 508.7 290.1 511.7" stroke="#dadada" stroke-width="0.9" fill="none" opacity="0.58" stroke-linecap="round"/>
<path d="M298.1 508.6Q293.9 509.6 290.1 511.7Q294.7 511.8 298.1 508.6Z" fill="#3a3a3a" opacity="0.65"/>
<path d="M253.2 434.4Q251.3 437.5 253.8 440.3" stroke="#dadada" stroke-width="0.9" fill="none" opacity="0.71" stroke-linecap="round"/>
<path d="M253.2 434.4Q252.2 437.4 253.8 440.3Q254.9 437.2 253.2 434.4Z" fill="#3a3a3a" opacity="0.79"/>
<path d="M317.4 425.4Q312.6 425.1 310.3 429.3" stroke="#dadada" stroke-width="0.9" fill="none" opacity="0.80" stroke-linecap="round"/>
<path d="M317.4 425.4Q313.0 425.9 310.3 429.3Q314.5 428.6 317.4 425.4Z" fill="#3a3a3a" opacity="0.89"/>
<path d="M237.0 506.0Q233.9 503.7 231.5 506.7" stroke="#dadada" stroke-width="0.9" fill="none" opacity="0.55" stroke-linecap="round"/>
<path d="M237.0 506.0Q234.0 504.6 231.5 506.7Q234.4 507.5 237.0 506.0Z" fill="#3a3a3a" opacity="0.61"/>
<path d="M276.0 556.2Q271.8 553.6 269.0 557.7" stroke="#dadada" stroke-width="0.9" fill="none" opacity="0.69" stroke-linecap="round"/>
<path d="M276.0 556.2Q272.0 554.5 269.0 557.7Q272.6 557.2 276.0 556.2Z" fill="#3a3a3a" opacity="0.77"/>
<path d="M322.4 429.1Q317.8 431.2 316.6 436.1" stroke="#dadada" stroke-width="0.9" fill="none" opacity="0.66" stroke-linecap="round"/>
<path d="M322.4 429.1Q318.5 431.8 316.6 436.1Q321.1 433.9 322.4 429.1Z" fill="#3a3a3a" opacity="0.73"/>
<path d="M252.9 524.7Q249.1 525.3 248.1 528.9" stroke="#dadada" stroke-width="0.9" fill="none" opacity="0.71" stroke-linecap="round"/>
<path d="M252.9 524.7Q249.7 526.0 248.1 528.9Q251.5 528.0 252.9 524.7Z" fill="#3a3a3a" opacity="0.79"/>
<path d="M311.2 480.3Q306.8 480.4 304.7 484.2" stroke="#dadada" stroke-width="0.9" fill="none" opacity="0.70" stroke-linecap="round"/>
<path d="M311.2 480.3Q307.3 481.2 304.7 484.2Q308.6 483.3 311.2 480.3Z" fill="#3a3a3a" opacity="0.78"/>
<path d="M335.0 549.4Q331.1 550.2 329.3 553.8" stroke="#dadada" stroke-width="0.9" fill="none" opacity="0.72" stroke-linecap="round"/>
<path d="M335.0 549.4Q331.6 550.9 329.3 553.8Q333.1 552.9 335.0 549.4Z" fill="#3a3a3a" opacity="0.81"/>
<path d="M271.8 575.8Q276.2 579.7 281.4 577.0" stroke="#dadada" stroke-width="0.9" fill="none" opacity="0.56" stroke-linecap="round"/>
<path d="M271.8 575.8Q276.3 578.8 281.4 577.0Q276.7 575.9 271.8 575.8Z" fill="#3a3a3a" opacity="0.62"/>
<path d="M217.6 424.2Q220.6 429.5 226.6 430.4" stroke="#dadada" stroke-width="0.9" fill="none" opacity="0.79" stroke-linecap="round"/>
<path d="M217.6 424.2Q221.1 428.7 226.6 430.4Q222.8 426.3 217.6 424.2Z" fill="#3a3a3a" opacity="0.88"/>
<path d="M323.1 539.1Q318.9 542.4 319.9 547.6" stroke="#dadada" stroke-width="0.9" fill="none" opacity="0.75" stroke-linecap="round"/>
<path d="M323.1 539.1Q319.7 542.7 319.9 547.6Q322.4 543.7 323.1 539.1Z" fill="#3a3a3a" opacity="0.84"/>
<path d="M207.1 549.0Q206.7 554.1 208.4 558.9" stroke="#dadada" stroke-width="0.9" fill="none" opacity="0.55" stroke-linecap="round"/>
<path d="M207.1 549.0Q207.5 554.0 208.4 558.9Q209.9 553.7 207.1 549.0Z" fill="#3a3a3a" opacity="0.61"/>
<path d="M301.2 598.1Q296.6 599.8 297.7 604.6" stroke="#dadada" stroke-width="0.9" fill="none" opacity="0.72" stroke-linecap="round"/>
<path d="M301.2 598.1Q297.3 600.2 297.7 604.6Q300.1 601.7 301.2 598.1Z" fill="#3a3a3a" opacity="0.80"/>
<path d="M214.3 480.6Q213.0 484.5 216.0 487.4" stroke="#dadada" stroke-width="0.9" fill="none" opacity="0.83" stroke-linecap="round"/>
<path d="M214.3 480.6Q213.9 484.3 216.0 487.4Q216.8 483.6 214.3 480.6Z" fill="#3a3a3a" opacity="0.93"/>
<path d="M179.1 534.5Q181.6 538.0 184.9 535.2" stroke="#dadada" stroke-width="0.9" fill="none" opacity="0.83" stroke-linecap="round"/>
<path d="M179.1 534.5Q181.7 537.1 184.9 535.2Q182.1 534.2 179.1 534.5Z" fill="#3a3a3a" opacity="0.92"/>
<path d="M244.4 424.7Q242.5 430.1 247.5 433.0" stroke="#dadada" stroke-width="0.9" fill="none" opacity="0.69" stroke-linecap="round"/>
<path d="M244.4 424.7Q243.3 429.8 247.5 433.0Q246.5 428.6 244.4 424.7Z" fill="#3a3a3a" opacity="0.77"/>
<path d="M241.8 442.8Q239.4 445.2 239.0 448.5" stroke="#dadada" stroke-width="0.9" fill="none" opacity="0.54" stroke-linecap="round"/>
<path d="M241.8 442.8Q240.2 445.6 239.0 448.5Q242.1 446.5 241.8 442.8Z" fill="#3a3a3a" opacity="0.60"/>
<path d="M287.4 449.1Q284.3 446.5 281.9 449.7" stroke="#dadada" stroke-width="0.9" fill="none" opacity="0.55" stroke-linecap="round"/>
<path d="M287.4 449.1Q284.4 447.4 281.9 449.7Q284.6 449.7 287.4 449.1Z" fill="#3a3a3a" opacity="0.61"/>
<path d="M292.5 470.2Q289.4 471.6 288.3 474.9" stroke="#dadada" stroke-width="0.9" fill="none" opacity="0.76" stroke-linecap="round"/>
<path d="M292.5 470.2Q290.1 472.2 288.3 474.9Q292.4 474.3 292.5 470.2Z" fill="#3a3a3a" opacity="0.85"/>
<path d="M308.2 564.8Q311.9 568.7 317.0 567.2" stroke="#dadada" stroke-width="0.9" fill="none" opacity="0.83" stroke-linecap="round"/>
<path d="M308.2 564.8Q312.1 567.8 317.0 567.2Q312.9 565.2 308.2 564.8Z" fill="#3a3a3a" opacity="0.93"/>
<path d="M216.1 609.0Q213.6 610.2 212.9 612.9" stroke="#dadada" stroke-width="0.9" fill="none" opacity="0.80" stroke-linecap="round"/>
<path d="M216.1 609.0Q214.3 610.8 212.9 612.9Q216.6 612.6 216.1 609.0Z" fill="#3a3a3a" opacity="0.89"/>
<path d="M188.1 483.4Q183.7 483.7 184.1 488.0" stroke="#dadada" stroke-width="0.9" fill="none" opacity="0.56" stroke-linecap="round"/>
<path d="M188.1 483.4Q184.4 484.2 184.1 488.0Q186.5 486.1 188.1 483.4Z" fill="#3a3a3a" opacity="0.62"/>
<path d="M232.2 531.7Q231.4 536.6 233.9 540.9" stroke="#dadada" stroke-width="0.9" fill="none" opacity="0.65" stroke-linecap="round"/>
<path d="M232.2 531.7Q232.3 536.5 233.9 540.9Q235.4 535.9 232.2 531.7Z" fill="#3a3a3a" opacity="0.73"/>
<path d="M277.3 543.2Q275.1 547.6 279.2 550.4" stroke="#dadada" stroke-width="0.9" fill="none" opacity="0.79" stroke-linecap="round"/>
<path d="M277.3 543.2Q276.0 547.4 279.2 550.4Q279.2 546.6 277.3 543.2Z" fill="#3a3a3a" opacity="0.87"/>
<path d="M260.0 481.1Q265.0 485.1 271.1 483.2" stroke="#dadada" stroke-width="0.9" fill="none" opacity="0.64" stroke-linecap="round"/>
<path d="M260.0 481.1Q265.2 484.2 271.1 483.2Q265.8 481.1 260.0 481.1Z" fill="#3a3a3a" opacity="0.72"/>
<path d="M275.8 611.2Q271.0 611.9 268.1 615.7" stroke="#dadada" stroke-width="0.9" fill="none" opacity="0.82" stroke-linecap="round"/>
<path d="M275.8 611.2Q271.5 612.7 268.1 615.7Q272.8 615.0 275.8 611.2Z" fill="#3a3a3a" opacity="0.91"/>
<path d="M236.2 552.2Q231.8 556.5 232.8 562.5" stroke="#dadada" stroke-width="0.9" fill="none" opacity="0.54" stroke-linecap="round"/>
<path d="M236.2 552.2Q232.7 556.8 232.8 562.5Q235.0 557.5 236.2 552.2Z" fill="#3a3a3a" opacity="0.60"/>
<path d="M217.4 502.1Q213.2 506.3 214.6 512.1" stroke="#dadada" stroke-width="0.9" fill="none" opacity="0.80" stroke-linecap="round"/>
<path d="M217.4 502.1Q214.1 506.6 214.6 512.1Q216.1 507.1 217.4 502.1Z" fill="#3a3a3a" opacity="0.89"/>
<path d="M306.3 589.0Q302.2 591.6 304.7 595.6" stroke="#dadada" stroke-width="0.9" fill="none" opacity="0.76" stroke-linecap="round"/>
<path d="M306.3 589.0Q303.1 591.8 304.7 595.6Q306.2 592.5 306.3 589.0Z" fill="#3a3a3a" opacity="0.84"/>
<path d="M318.0 491.5Q321.4 495.3 326.3 493.7" stroke="#dadada" stroke-width="0.9" fill="none" opacity="0.78" stroke-linecap="round"/>
<path d="M318.0 491.5Q321.6 494.4 326.3 493.7Q322.3 492.1 318.0 491.5Z" fill="#3a3a3a" opacity="0.86"/>
<path d="M326.6 466.5Q323.2 470.3 323.5 475.4" stroke="#dadada" stroke-width="0.9" fill="none" opacity="0.62" stroke-linecap="round"/>
<path d="M326.6 466.5Q324.0 470.6 323.5 475.4Q326.3 471.4 326.6 466.5Z" fill="#3a3a3a" opacity="0.69"/>
<path d="M295.3 575.1Q292.4 578.3 296.0 580.6" stroke="#dadada" stroke-width="0.9" fill="none" opacity="0.61" stroke-linecap="round"/>
<path d="M295.3 575.1Q293.3 578.2 296.0 580.6Q296.4 577.8 295.3 575.1Z" fill="#3a3a3a" opacity="0.68"/>
<path d="M271.6 596.6Q266.8 595.9 263.7 599.5" stroke="#dadada" stroke-width="0.9" fill="none" opacity="0.60" stroke-linecap="round"/>
<path d="M271.6 596.6Q267.1 596.7 263.7 599.5Q268.2 599.4 271.6 596.6Z" fill="#3a3a3a" opacity="0.67"/>
<path d="M206.6 457.8Q202.5 459.3 202.3 463.7" stroke="#dadada" stroke-width="0.9" fill="none" opacity="0.70" stroke-linecap="round"/>
<path d="M206.6 457.8Q203.3 459.9 202.3 463.7Q205.4 461.4 206.6 457.8Z" fill="#3a3a3a" opacity="0.78"/>
<path d="M201.1 434.6Q197.4 433.2 193.7 434.7" stroke="#dadada" stroke-width="0.9" fill="none" opacity="0.79" stroke-linecap="round"/>
<path d="M201.1 434.6Q197.4 434.1 193.7 434.7Q197.4 437.1 201.1 434.6Z" fill="#3a3a3a" opacity="0.88"/>
<path d="M196.6 536.9Q197.8 541.0 200.5 544.3" stroke="#dadada" stroke-width="0.9" fill="none" opacity="0.85" stroke-linecap="round"/>
<path d="M196.6 536.9Q198.6 540.5 200.5 544.3Q200.5 539.5 196.6 536.9Z" fill="#3a3a3a" opacity="0.95"/>
<path d="M315.1 516.1Q311.5 518.7 313.7 522.6" stroke="#dadada" stroke-width="0.9" fill="none" opacity="0.84" stroke-linecap="round"/>
<path d="M315.1 516.1Q312.4 518.9 313.7 522.6Q315.0 519.5 315.1 516.1Z" fill="#3a3a3a" opacity="0.93"/>
<path d="M301.5 582.7Q298.1 582.1 294.9 583.5" stroke="#dadada" stroke-width="0.9" fill="none" opacity="0.60" stroke-linecap="round"/>
<path d="M301.5 582.7Q298.2 583.0 294.9 583.5Q298.5 585.3 301.5 582.7Z" fill="#3a3a3a" opacity="0.66"/>
<path d="M187.7 430.6Q184.3 435.4 185.8 441.1" stroke="#dadada" stroke-width="0.9" fill="none" opacity="0.83" stroke-linecap="round"/>
<path d="M187.7 430.6Q185.2 435.6 185.8 441.1Q188.5 436.2 187.7 430.6Z" fill="#3a3a3a" opacity="0.92"/>
<path d="M182.7 538.0Q180.5 541.8 184.5 543.5" stroke="#dadada" stroke-width="0.9" fill="none" opacity="0.72" stroke-linecap="round"/>
<path d="M182.7 538.0Q181.4 541.5 184.5 543.5Q183.7 540.7 182.7 538.0Z" fill="#3a3a3a" opacity="0.80"/>
<path d="M279.5 606.2Q275.9 608.5 275.7 612.7" stroke="#dadada" stroke-width="0.9" fill="none" opacity="0.84" stroke-linecap="round"/>
<path d="M279.5 606.2Q276.7 608.9 275.7 612.7Q278.7 610.1 279.5 606.2Z" fill="#3a3a3a" opacity="0.94"/>
<path d="M331.5 468.2Q334.6 470.8 338.2 469.0" stroke="#dadada" stroke-width="0.9" fill="none" opacity="0.82" stroke-linecap="round"/>
<path d="M331.5 468.2Q334.7 469.9 338.2 469.0Q335.1 466.6 331.5 468.2Z" fill="#3a3a3a" opacity="0.92"/>
<path d="M313.4 432.1Q307.8 432.8 305.9 438.1" stroke="#dadada" stroke-width="0.9" fill="none" opacity="0.56" stroke-linecap="round"/>
<path d="M313.4 432.1Q308.4 433.5 305.9 438.1Q310.5 436.2 313.4 432.1Z" fill="#3a3a3a" opacity="0.62"/>
<path d="M201.3 569.9Q196.4 569.0 192.1 571.7" stroke="#dadada" stroke-width="0.9" fill="none" opacity="0.78" stroke-linecap="round"/>
<path d="M201.3 569.9Q196.5 569.9 192.1 571.7Q197.1 572.7 201.3 569.9Z" fill="#3a3a3a" opacity="0.87"/>
<path d="M188.3 486.1Q188.8 489.6 192.3 490.3" stroke="#dadada" stroke-width="0.9" fill="none" opacity="0.62" stroke-linecap="round"/>
<path d="M188.3 486.1Q189.5 489.0 192.3 490.3Q191.2 487.4 188.3 486.1Z" fill="#3a3a3a" opacity="0.68"/>
<path d="M191.6 555.8Q196.4 557.2 201.3 556.2" stroke="#dadada" stroke-width="0.9" fill="none" opacity="0.83" stroke-linecap="round"/>
<path d="M191.6 555.8Q196.4 556.3 201.3 556.2Q196.5 554.2 191.6 555.8Z" fill="#3a3a3a" opacity="0.92"/>
<path d="M214.0 603.0Q208.5 603.9 204.1 607.3" stroke="#dadada" stroke-width="0.9" fill="none" opacity="0.57" stroke-linecap="round"/>
<path d="M214.0 603.0Q208.9 604.7 204.1 607.3Q210.0 607.2 214.0 603.0Z" fill="#3a3a3a" opacity="0.63"/>
<path d="M326.1 583.9Q322.6 586.7 323.0 591.2" stroke="#dadada" stroke-width="0.9" fill="none" opacity="0.69" stroke-linecap="round"/>
<path d="M326.1 583.9Q323.5 587.1 323.0 591.2Q326.4 588.3 326.1 583.9Z" fill="#3a3a3a" opacity="0.77"/>
<path d="M273.5 451.7Q273.7 455.6 277.6 455.2" stroke="#dadada" stroke-width="0.9" fill="none" opacity="0.59" stroke-linecap="round"/>
<path d="M273.5 451.7Q274.3 455.0 277.6 455.2Q276.1 452.8 273.5 451.7Z" fill="#3a3a3a" opacity="0.65"/>
<path d="M314.3 474.3Q313.2 477.7 315.9 480.1" stroke="#dadada" stroke-width="0.9" fill="none" opacity="0.65" stroke-linecap="round"/>
<path d="M314.3 474.3Q314.1 477.5 315.9 480.1Q317.2 476.6 314.3 474.3Z" fill="#3a3a3a" opacity="0.72"/>
<path d="M197.5 515.7Q199.1 521.1 203.4 524.8" stroke="#dadada" stroke-width="0.9" fill="none" opacity="0.56" stroke-linecap="round"/>
<path d="M197.5 515.7Q199.8 520.7 203.4 524.8Q202.7 518.8 197.5 515.7Z" fill="#3a3a3a" opacity="0.62"/>
<path d="M315.9 551.7Q318.1 555.5 322.3 556.7" stroke="#dadada" stroke-width="0.9" fill="none" opacity="0.60" stroke-linecap="round"/>
<path d="M315.9 551.7Q318.6 554.8 322.3 556.7Q320.2 552.8 315.9 551.7Z" fill="#3a3a3a" opacity="0.67"/>
<path d="M238.0 616.0Q232.5 614.9 227.0 616.1" stroke="#dadada" stroke-width="0.9" fill="none" opacity="0.82" stroke-linecap="round"/>
<path d="M238.0 616.0Q232.5 615.8 227.0 616.1Q232.5 618.3 238.0 616.0Z" fill="#3a3a3a" opacity="0.91"/>
<path d="M179.0 560.8Q181.4 566.2 185.9 569.9" stroke="#dadada" stroke-width="0.9" fill="none" opacity="0.65" stroke-linecap="round"/>
<path d="M179.0 560.8Q182.1 565.6 185.9 569.9Q184.7 563.7 179.0 560.8Z" fill="#3a3a3a" opacity="0.72"/>
<path d="M199.6 424.4Q195.2 425.2 192.3 428.6" stroke="#dadada" stroke-width="0.9" fill="none" opacity="0.83" stroke-linecap="round"/>
<path d="M199.6 424.4Q195.7 426.0 192.3 428.6Q197.0 428.3 199.6 424.4Z" fill="#3a3a3a" opacity="0.92"/>
<path d="M205.9 534.3Q207.4 538.4 211.5 536.9" stroke="#dadada" stroke-width="0.9" fill="none" opacity="0.60" stroke-linecap="round"/>
<path d="M205.9 534.3Q207.8 537.6 211.5 536.9Q209.1 534.8 205.9 534.3Z" fill="#3a3a3a" opacity="0.67"/>
<path d="M187.4 439.0Q184.6 442.3 184.7 446.7" stroke="#dadada" stroke-width="0.9" fill="none" opacity="0.73" stroke-linecap="round"/>
<path d="M187.4 439.0Q185.4 442.6 184.7 446.7Q187.7 443.4 187.4 439.0Z" fill="#3a3a3a" opacity="0.81"/>
<path d="M289.3 578.6Q287.2 581.3 287.7 584.7" stroke="#dadada" stroke-width="0.9" fill="none" opacity="0.67" stroke-linecap="round"/>
<path d="M289.3 578.6Q288.0 581.6 287.7 584.7Q291.0 582.3 289.3 578.6Z" fill="#3a3a3a" opacity="0.74"/>
<path d="M293.8 434.7Q288.9 433.9 287.8 438.7" stroke="#dadada" stroke-width="0.9" fill="none" opacity="0.70" stroke-linecap="round"/>
<path d="M293.8 434.7Q289.4 434.7 287.8 438.7Q291.3 437.4 293.8 434.7Z" fill="#3a3a3a" opacity="0.77"/>
<path d="M175.2 595.3Q174.1 600.7 176.0 605.9" stroke="#dadada" stroke-width="0.9" fill="none" opacity="0.80" stroke-linecap="round"/>
<path d="M175.2 595.3Q175.0 600.6 176.0 605.9Q177.4 600.5 175.2 595.3Z" fill="#3a3a3a" opacity="0.89"/>
<path d="M231.2 453.4Q232.0 457.9 234.7 461.5" stroke="#dadada" stroke-width="0.9" fill="none" opacity="0.68" stroke-linecap="round"/>
<path d="M231.2 453.4Q232.8 457.5 234.7 461.5Q235.4 456.4 231.2 453.4Z" fill="#3a3a3a" opacity="0.76"/>
<path d="M260.4 445.2Q254.8 447.4 254.0 453.3" stroke="#dadada" stroke-width="0.9" fill="none" opacity="0.76" stroke-linecap="round"/>
<path d="M260.4 445.2Q255.5 447.9 254.0 453.3Q257.5 449.5 260.4 445.2Z" fill="#3a3a3a" opacity="0.85"/>
<path d="M230.1 569.1Q234.7 573.4 240.5 571.1" stroke="#dadada" stroke-width="0.9" fill="none" opacity="0.70" stroke-linecap="round"/>
<path d="M230.1 569.1Q234.8 572.6 240.5 571.1Q235.4 569.8 230.1 569.1Z" fill="#3a3a3a" opacity="0.78"/>
<path d="M254.0 528.7Q259.5 530.5 265.3 529.5" stroke="#dadada" stroke-width="0.9" fill="none" opacity="0.57" stroke-linecap="round"/>
<path d="M254.0 528.7Q259.6 529.6 265.3 529.5Q259.7 527.3 254.0 528.7Z" fill="#3a3a3a" opacity="0.64"/>
<path d="M211.1 582.5Q213.7 585.3 216.8 583.0" stroke="#dadada" stroke-width="0.9" fill="none" opacity="0.55" stroke-linecap="round"/>
<path d="M211.1 582.5Q213.8 584.4 216.8 583.0Q214.0 582.0 211.1 582.5Z" fill="#3a3a3a" opacity="0.61"/>
<path d="M271.2 531.8Q269.3 536.5 270.5 541.4" stroke="#dadada" stroke-width="0.9" fill="none" opacity="0.77" stroke-linecap="round"/>
<path d="M271.2 531.8Q270.2 536.6 270.5 541.4Q273.4 536.8 271.2 531.8Z" fill="#3a3a3a" opacity="0.85"/>
<path d="M180.4 445.6Q179.0 449.7 180.6 453.8" stroke="#dadada" stroke-width="0.9" fill="none" opacity="0.67" stroke-linecap="round"/>
<path d="M180.4 445.6Q179.9 449.7 180.6 453.8Q182.1 449.7 180.4 445.6Z" fill="#3a3a3a" opacity="0.74"/>
<path d="M198.1 538.3Q194.3 537.2 192.7 540.8" stroke="#dadada" stroke-width="0.9" fill="none" opacity="0.59" stroke-linecap="round"/>
<path d="M198.1 538.3Q194.7 538.0 192.7 540.8Q196.0 540.8 198.1 538.3Z" fill="#3a3a3a" opacity="0.66"/>
<path d="M306.5 602.2Q304.9 606.9 309.1 609.5" stroke="#dadada" stroke-width="0.9" fill="none" opacity="0.66" stroke-linecap="round"/>
<path d="M306.5 602.2Q305.7 606.6 309.1 609.5Q308.4 605.6 306.5 602.2Z" fill="#3a3a3a" opacity="0.74"/>
<path d="M325.0 572.2Q325.0 575.9 328.2 577.9" stroke="#dadada" stroke-width="0.9" fill="none" opacity="0.85" stroke-linecap="round"/>
<path d="M325.0 572.2Q325.8 575.5 328.2 577.9Q328.1 574.2 325.0 572.2Z" fill="#3a3a3a" opacity="0.94"/>
<path d="M308.7 598.2Q303.6 600.1 299.9 604.0" stroke="#dadada" stroke-width="0.9" fill="none" opacity="0.84" stroke-linecap="round"/>
<path d="M308.7 598.2Q304.1 600.8 299.9 604.0Q305.7 603.1 308.7 598.2Z" fill="#3a3a3a" opacity="0.94"/>
<path d="M324.4 469.5Q323.6 474.4 326.6 478.3" stroke="#dadada" stroke-width="0.9" fill="none" opacity="0.56" stroke-linecap="round"/>
<path d="M324.4 469.5Q324.4 474.2 326.6 478.3Q327.2 473.5 324.4 469.5Z" fill="#3a3a3a" opacity="0.62"/>
<path d="M240.8 522.7Q243.5 526.5 246.7 523.1" stroke="#dadada" stroke-width="0.9" fill="none" opacity="0.84" stroke-linecap="round"/>
<path d="M240.8 522.7Q243.6 525.6 246.7 523.1Q243.8 522.4 240.8 522.7Z" fill="#3a3a3a" opacity="0.93"/>
<path d="M281.4 579.3Q275.9 580.1 271.4 583.1" stroke="#dadada" stroke-width="0.9" fill="none" opacity="0.62" stroke-linecap="round"/>
<path d="M281.4 579.3Q276.2 580.9 271.4 583.1Q277.3 583.7 281.4 579.3Z" fill="#3a3a3a" opacity="0.69"/>
<path d="M284.5 473.1Q281.4 478.2 283.0 484.0" stroke="#dadada" stroke-width="0.9" fill="none" opacity="0.70" stroke-linecap="round"/>
<path d="M284.5 473.1Q282.3 478.3 283.0 484.0Q284.7 478.6 284.5 473.1Z" fill="#3a3a3a" opacity="0.78"/>
<path d="M241.7 605.6Q242.0 609.9 246.0 611.1" stroke="#dadada" stroke-width="0.9" fill="none" opacity="0.73" stroke-linecap="round"/>
<path d="M241.7 605.6Q242.7 609.3 246.0 611.1Q244.4 607.9 241.7 605.6Z" fill="#3a3a3a" opacity="0.81"/>
<path d="M326.4 521.6Q327.4 526.0 331.7 527.6" stroke="#dadada" stroke-width="0.9" fill="none" opacity="0.58" stroke-linecap="round"/>
<path d="M326.4 521.6Q328.1 525.4 331.7 527.6Q329.8 523.9 326.4 521.6Z" fill="#3a3a3a" opacity="0.64"/>
<path d="M193.5 479.1Q193.2 482.8 195.5 485.7" stroke="#dadada" stroke-width="0.9" fill="none" opacity="0.71" stroke-linecap="round"/>
<path d="M193.5 479.1Q194.1 482.5 195.5 485.7Q196.2 481.9 193.5 479.1Z" fill="#3a3a3a" opacity="0.79"/>
<path d="M311.1 538.5Q308.4 542.7 309.1 547.5" stroke="#dadada" stroke-width="0.9" fill="none" opacity="0.69" stroke-linecap="round"/>
<path d="M311.1 538.5Q309.3 542.9 309.1 547.5Q312.3 543.5 311.1 538.5Z" fill="#3a3a3a" opacity="0.76"/>
<path d="M262.1 540.1Q261.0 543.7 262.8 547.1" stroke="#dadada" stroke-width="0.9" fill="none" opacity="0.70" stroke-linecap="round"/>
<path d="M262.1 540.1Q261.9 543.6 262.8 547.1Q264.3 543.4 262.1 540.1Z" fill="#3a3a3a" opacity="0.78"/>
<path d="M232.0 538.2Q235.5 541.4 239.2 538.5" stroke="#dadada" stroke-width="0.9" fill="none" opacity="0.72" stroke-linecap="round"/>
<path d="M232.0 538.2Q235.5 540.5 239.2 538.5Q235.6 538.0 232.0 538.2Z" fill="#3a3a3a" opacity="0.79"/>
<path d="M256.7 480.6Q253.1 478.0 249.8 480.8" stroke="#dadada" stroke-width="0.9" fill="none" opacity="0.56" stroke-linecap="round"/>
<path d="M256.7 480.6Q253.2 478.9 249.8 480.8Q253.3 481.2 256.7 480.6Z" fill="#3a3a3a" opacity="0.62"/>
<path d="M311.5 509.7Q314.8 512.7 318.9 511.2" stroke="#dadada" stroke-width="0.9" fill="none" opacity="0.57" stroke-linecap="round"/>
<path d="M311.5 509.7Q314.9 511.8 318.9 511.2Q315.5 508.8 311.5 509.7Z" fill="#3a3a3a" opacity="0.64"/>
<path d="M211.9 607.8Q208.5 608.8 207.8 612.2" stroke="#dadada" stroke-width="0.9" fill="none" opacity="0.75" stroke-linecap="round"/>
<path d="M211.9 607.8Q209.2 609.4 207.8 612.2Q211.1 611.1 211.9 607.8Z" fill="#3a3a3a" opacity="0.84"/>
<path d="M277.2 586.8Q272.0 586.5 270.1 591.3" stroke="#dadada" stroke-width="0.9" fill="none" opacity="0.78" stroke-linecap="round"/>
<path d="M277.2 586.8Q272.5 587.2 270.1 591.3Q274.1 589.9 277.2 586.8Z" fill="#3a3a3a" opacity="0.87"/>
<path d="M253.9 572.2Q249.3 575.6 247.3 580.9" stroke="#dadada" stroke-width="0.9" fill="none" opacity="0.54" stroke-linecap="round"/>
<path d="M253.9 572.2Q250.0 576.1 247.3 580.9Q252.6 578.1 253.9 572.2Z" fill="#3a3a3a" opacity="0.60"/>
<path d="M297.9 532.8Q295.6 538.4 298.0 544.0" stroke="#dadada" stroke-width="0.9" fill="none" opacity="0.79" stroke-linecap="round"/>
<path d="M297.9 532.8Q296.5 538.4 298.0 544.0Q299.1 538.4 297.9 532.8Z" fill="#3a3a3a" opacity="0.87"/>
<path d="M314.0 538.8Q313.3 543.4 316.9 546.2" stroke="#dadada" stroke-width="0.9" fill="none" opacity="0.63" stroke-linecap="round"/>
<path d="M314.0 538.8Q314.1 543.1 316.9 546.2Q317.0 541.9 314.0 538.8Z" fill="#3a3a3a" opacity="0.70"/>
<path d="M235.6 529.2Q233.8 533.7 238.1 535.9" stroke="#dadada" stroke-width="0.9" fill="none" opacity="0.70" stroke-linecap="round"/>
<path d="M235.6 529.2Q234.7 533.4 238.1 535.9Q237.7 532.2 235.6 529.2Z" fill="#3a3a3a" opacity="0.77"/>
<path d="M243.8 459.0Q243.5 462.9 247.2 463.8" stroke="#dadada" stroke-width="0.9" fill="none" opacity="0.57" stroke-linecap="round"/>
<path d="M243.8 459.0Q244.2 462.4 247.2 463.8Q246.6 460.7 243.8 459.0Z" fill="#3a3a3a" opacity="0.63"/>
<path d="M327.8 485.7Q321.7 485.4 318.6 490.7" stroke="#dadada" stroke-width="0.9" fill="none" opacity="0.67" stroke-linecap="round"/>
<path d="M327.8 485.7Q322.1 486.2 318.6 490.7Q323.2 488.3 327.8 485.7Z" fill="#3a3a3a" opacity="0.75"/>
<path d="M317.3 427.5Q321.2 430.7 325.9 428.8" stroke="#dadada" stroke-width="0.9" fill="none" opacity="0.78" stroke-linecap="round"/>
<path d="M317.3 427.5Q321.4 429.8 325.9 428.8Q321.9 426.5 317.3 427.5Z" fill="#3a3a3a" opacity="0.87"/>
<path d="M261.2 613.3Q258.3 617.3 260.7 621.7" stroke="#dadada" stroke-width="0.9" fill="none" opacity="0.65" stroke-linecap="round"/>
<path d="M261.2 613.3Q259.2 617.4 260.7 621.7Q261.8 617.5 261.2 613.3Z" fill="#3a3a3a" opacity="0.73"/>
<path d="M274.7 492.6Q269.8 491.4 265.5 494.2" stroke="#dadada" stroke-width="0.9" fill="none" opacity="0.66" stroke-linecap="round"/>
<path d="M274.7 492.6Q269.9 492.2 265.5 494.2Q270.3 494.4 274.7 492.6Z" fill="#3a3a3a" opacity="0.73"/>
<path d="M239.7 528.5Q235.2 532.9 237.3 538.9" stroke="#dadada" stroke-width="0.9" fill="none" opacity="0.68" stroke-linecap="round"/>
<path d="M239.7 528.5Q236.1 533.1 237.3 538.9Q238.7 533.8 239.7 528.5Z" fill="#3a3a3a" opacity="0.75"/>
<path d="M273.0 613.3Q272.5 618.4 277.0 620.8" stroke="#dadada" stroke-width="0.9" fill="none" opacity="0.64" stroke-linecap="round"/>
<path d="M273.0 613.3Q273.3 618.0 277.0 620.8Q275.3 616.9 273.0 613.3Z" fill="#3a3a3a" opacity="0.71"/>
<path d="M332.8 581.6Q329.3 584.3 332.6 587.3" stroke="#dadada" stroke-width="0.9" fill="none" opacity="0.80" stroke-linecap="round"/>
<path d="M332.8 581.6Q330.2 584.4 332.6 587.3Q333.2 584.5 332.8 581.6Z" fill="#3a3a3a" opacity="0.89"/>
<path d="M333.9 593.4Q332.9 596.8 335.3 599.3" stroke="#dadada" stroke-width="0.9" fill="none" opacity="0.70" stroke-linecap="round"/>
<path d="M333.9 593.4Q333.7 596.6 335.3 599.3Q336.5 595.9 333.9 593.4Z" fill="#3a3a3a" opacity="0.78"/>
<path d="M205.6 457.0Q201.7 460.2 202.0 465.2" stroke="#dadada" stroke-width="0.9" fill="none" opacity="0.74" stroke-linecap="round"/>
<path d="M205.6 457.0Q202.5 460.5 202.0 465.2Q205.7 461.9 205.6 457.0Z" fill="#3a3a3a" opacity="0.82"/>
<path d="M182.7 502.8Q178.5 503.1 177.3 507.1" stroke="#dadada" stroke-width="0.9" fill="none" opacity="0.64" stroke-linecap="round"/>
<path d="M182.7 502.8Q179.1 503.8 177.3 507.1Q180.4 505.4 182.7 502.8Z" fill="#3a3a3a" opacity="0.71"/>
<path d="M312.0 535.8Q308.5 537.3 308.9 541.2" stroke="#dadada" stroke-width="0.9" fill="none" opacity="0.62" stroke-linecap="round"/>
<path d="M312.0 535.8Q309.2 537.8 308.9 541.2Q311.7 539.2 312.0 535.8Z" fill="#3a3a3a" opacity="0.69"/>
<path d="M283.0 527.9Q278.6 526.2 274.2 528.0" stroke="#dadada" stroke-width="0.9" fill="none" opacity="0.59" stroke-linecap="round"/>
<path d="M283.0 527.9Q278.6 527.1 274.2 528.0Q278.6 529.3 283.0 527.9Z" fill="#3a3a3a" opacity="0.65"/>
<path d="M294.1 445.6Q296.2 449.0 299.9 447.5" stroke="#dadada" stroke-width="0.9" fill="none" opacity="0.73" stroke-linecap="round"/>
<path d="M294.1 445.6Q296.5 448.1 299.9 447.5Q297.5 445.1 294.1 445.6Z" fill="#3a3a3a" opacity="0.81"/>
<path d="M299.7 437.8Q304.6 440.0 309.7 438.2" stroke="#dadada" stroke-width="0.9" fill="none" opacity="0.65" stroke-linecap="round"/>
<path d="M299.7 437.8Q304.6 439.1 309.7 438.2Q304.7 436.1 299.7 437.8Z" fill="#3a3a3a" opacity="0.72"/>
<path d="M195.6 475.5Q200.0 479.5 205.9 478.9" stroke="#dadada" stroke-width="0.9" fill="none" opacity="0.68" stroke-linecap="round"/>
<path d="M195.6 475.5Q200.3 478.6 205.9 478.9Q201.1 476.2 195.6 475.5Z" fill="#3a3a3a" opacity="0.76"/>
<path d="M240.1 435.1Q234.9 433.4 231.9 438.1" stroke="#dadada" stroke-width="0.9" fill="none" opacity="0.74" stroke-linecap="round"/>
<path d="M240.1 435.1Q235.2 434.3 231.9 438.1Q236.1 436.8 240.1 435.1Z" fill="#3a3a3a" opacity="0.82"/>
<path d="M218.9 433.4Q213.3 432.5 208.6 435.7" stroke="#dadada" stroke-width="0.9" fill="none" opacity="0.80" stroke-linecap="round"/>
<path d="M218.9 433.4Q213.5 433.3 208.6 435.7Q214.2 436.6 218.9 433.4Z" fill="#3a3a3a" opacity="0.89"/>
<path d="M226.7 541.1Q222.2 538.4 218.6 542.1" stroke="#dadada" stroke-width="0.9" fill="none" opacity="0.66" stroke-linecap="round"/>
<path d="M226.7 541.1Q222.3 539.3 218.6 542.1Q222.6 541.7 226.7 541.1Z" fill="#3a3a3a" opacity="0.74"/>
<path d="M287.3 464.1Q288.3 469.9 293.3 473.0" stroke="#dadada" stroke-width="0.9" fill="none" opacity="0.62" stroke-linecap="round"/>
<path d="M287.3 464.1Q289.0 469.4 293.3 473.0Q291.6 467.6 287.3 464.1Z" fill="#3a3a3a" opacity="0.69"/>
<path d="M196.7 491.7Q200.4 496.3 206.1 497.9" stroke="#dadada" stroke-width="0.9" fill="none" opacity="0.58" stroke-linecap="round"/>
<path d="M196.7 491.7Q200.9 495.6 206.1 497.9Q202.5 493.2 196.7 491.7Z" fill="#3a3a3a" opacity="0.64"/>
<path d="M259.3 497.4Q258.6 500.5 261.0 502.6" stroke="#dadada" stroke-width="0.9" fill="none" opacity="0.65" stroke-linecap="round"/>
<path d="M259.3 497.4Q259.5 500.2 261.0 502.6Q262.6 499.3 259.3 497.4Z" fill="#3a3a3a" opacity="0.72"/>
<path d="M211.0 460.2Q212.1 463.6 215.1 465.3" stroke="#dadada" stroke-width="0.9" fill="none" opacity="0.65" stroke-linecap="round"/>
<path d="M211.0 460.2Q212.8 463.0 215.1 465.3Q215.1 461.1 211.0 460.2Z" fill="#3a3a3a" opacity="0.72"/>
<path d="M195.3 560.4Q197.7 564.1 201.8 562.4" stroke="#dadada" stroke-width="0.9" fill="none" opacity="0.68" stroke-linecap="round"/>
<path d="M195.3 560.4Q198.0 563.3 201.8 562.4Q198.6 561.1 195.3 560.4Z" fill="#3a3a3a" opacity="0.76"/>
<path d="M306.3 578.7Q308.2 582.8 312.7 582.2" stroke="#dadada" stroke-width="0.9" fill="none" opacity="0.84" stroke-linecap="round"/>
<path d="M306.3 578.7Q308.6 582.0 312.7 582.2Q309.9 579.7 306.3 578.7Z" fill="#3a3a3a" opacity="0.94"/>
<path d="M207.1 605.2Q205.1 608.4 207.0 611.6" stroke="#dadada" stroke-width="0.9" fill="none" opacity="0.76" stroke-linecap="round"/>
<path d="M207.1 605.2Q206.0 608.4 207.0 611.6Q208.3 608.4 207.1 605.2Z" fill="#3a3a3a" opacity="0.85"/>
<path d="M216.6 595.0Q213.9 598.1 214.6 602.1" stroke="#dadada" stroke-width="0.9" fill="none" opacity="0.61" stroke-linecap="round"/>
<path d="M216.6 595.0Q214.8 598.3 214.6 602.1Q217.6 599.1 216.6 595.0Z" fill="#3a3a3a" opacity="0.67"/>
<path d="M315.6 445.4Q313.5 449.6 315.2 453.9" stroke="#dadada" stroke-width="0.9" fill="none" opacity="0.66" stroke-linecap="round"/>
<path d="M315.6 445.4Q314.4 449.6 315.2 453.9Q317.5 449.7 315.6 445.4Z" fill="#3a3a3a" opacity="0.73"/>
<path d="M278.2 531.8Q279.5 535.5 282.5 538.0" stroke="#dadada" stroke-width="0.9" fill="none" opacity="0.81" stroke-linecap="round"/>
<path d="M278.2 531.8Q280.2 535.0 282.5 538.0Q282.1 533.7 278.2 531.8Z" fill="#3a3a3a" opacity="0.90"/>
<path d="M221.4 551.7Q224.8 555.0 229.5 554.6" stroke="#dadada" stroke-width="0.9" fill="none" opacity="0.63" stroke-linecap="round"/>
<path d="M221.4 551.7Q225.1 554.1 229.5 554.6Q226.0 551.5 221.4 551.7Z" fill="#3a3a3a" opacity="0.70"/>
<path d="M181.6 483.9Q182.1 487.8 186.1 487.7" stroke="#dadada" stroke-width="0.9" fill="none" opacity="0.67" stroke-linecap="round"/>
<path d="M181.6 483.9Q182.7 487.1 186.1 487.7Q184.3 485.2 181.6 483.9Z" fill="#3a3a3a" opacity="0.74"/>
<path d="M326.3 572.8Q320.9 573.5 316.4 576.6" stroke="#dadada" stroke-width="0.9" fill="none" opacity="0.55" stroke-linecap="round"/>
<path d="M326.3 572.8Q321.2 574.3 316.4 576.6Q322.1 576.6 326.3 572.8Z" fill="#3a3a3a" opacity="0.61"/>
<path d="M282.2 549.9Q281.4 554.6 285.7 556.7" stroke="#dadada" stroke-width="0.9" fill="none" opacity="0.62" stroke-linecap="round"/>
<path d="M282.2 549.9Q282.2 554.2 285.7 556.7Q285.0 552.8 282.2 549.9Z" fill="#3a3a3a" opacity="0.69"/>
<path d="M312.4 490.8Q309.7 493.0 310.0 496.4" stroke="#dadada" stroke-width="0.9" fill="none" opacity="0.77" stroke-linecap="round"/>
<path d="M312.4 490.8Q310.5 493.3 310.0 496.4Q313.6 494.6 312.4 490.8Z" fill="#3a3a3a" opacity="0.86"/>
<path d="M286.3 433.5Q289.1 435.3 292.3 434.2" stroke="#dadada" stroke-width="0.9" fill="none" opacity="0.66" stroke-linecap="round"/>
<path d="M286.3 433.5Q289.3 434.4 292.3 434.2Q289.6 431.9 286.3 433.5Z" fill="#3a3a3a" opacity="0.73"/>
<path d="M180.8 482.9Q176.6 484.4 178.2 488.5" stroke="#dadada" stroke-width="0.9" fill="none" opacity="0.77" stroke-linecap="round"/>
<path d="M180.8 482.9Q177.5 484.8 178.2 488.5Q180.1 486.0 180.8 482.9Z" fill="#3a3a3a" opacity="0.85"/>
<path d="M216.6 506.4Q213.5 508.8 212.7 512.5" stroke="#dadada" stroke-width="0.9" fill="none" opacity="0.78" stroke-linecap="round"/>
<path d="M216.6 506.4Q214.3 509.2 212.7 512.5Q217.0 511.0 216.6 506.4Z" fill="#3a3a3a" opacity="0.87"/>
<path d="M223.8 432.4Q219.3 433.4 215.8 436.3" stroke="#dadada" stroke-width="0.9" fill="none" opacity="0.58" stroke-linecap="round"/>
<path d="M223.8 432.4Q219.7 434.2 215.8 436.3Q220.8 436.4 223.8 432.4Z" fill="#3a3a3a" opacity="0.64"/>
<path d="M306.9 465.1Q301.8 465.0 297.4 467.7" stroke="#dadada" stroke-width="0.9" fill="none" opacity="0.66" stroke-linecap="round"/>
<path d="M306.9 465.1Q302.0 465.9 297.4 467.7Q302.9 468.8 306.9 465.1Z" fill="#3a3a3a" opacity="0.74"/>
<path d="M293.3 582.8Q292.5 587.1 296.8 587.1" stroke="#dadada" stroke-width="0.9" fill="none" opacity="0.83" stroke-linecap="round"/>
<path d="M293.3 582.8Q293.2 586.5 296.8 587.1Q295.2 584.8 293.3 582.8Z" fill="#3a3a3a" opacity="0.93"/>
<path d="M289.8 565.4Q284.9 566.1 282.0 570.0" stroke="#dadada" stroke-width="0.9" fill="none" opacity="0.76" stroke-linecap="round"/>
<path d="M289.8 565.4Q285.4 566.9 282.0 570.0Q286.5 568.7 289.8 565.4Z" fill="#3a3a3a" opacity="0.84"/>
<path d="M245.8 523.6Q242.4 521.7 240.1 524.9" stroke="#dadada" stroke-width="0.9" fill="none" opacity="0.76" stroke-linecap="round"/>
<path d="M245.8 523.6Q242.6 522.6 240.1 524.9Q243.1 524.7 245.8 523.6Z" fill="#3a3a3a" opacity="0.85"/>
<path d="M305.3 470.6Q301.9 475.8 303.7 481.8" stroke="#dadada" stroke-width="0.9" fill="none" opacity="0.62" stroke-linecap="round"/>
<path d="M305.3 470.6Q302.8 475.9 303.7 481.8Q305.6 476.3 305.3 470.6Z" fill="#3a3a3a" opacity="0.69"/>
<path d="M181.9 491.7Q181.3 495.1 183.6 497.7" stroke="#dadada" stroke-width="0.9" fill="none" opacity="0.76" stroke-linecap="round"/>
<path d="M181.9 491.7Q182.1 494.9 183.6 497.7Q184.3 494.3 181.9 491.7Z" fill="#3a3a3a" opacity="0.85"/>
<path d="M279.4 468.8Q280.7 473.5 285.5 474.6" stroke="#dadada" stroke-width="0.9" fill="none" opacity="0.65" stroke-linecap="round"/>
<path d="M279.4 468.8Q281.4 472.8 285.5 474.6Q283.7 470.4 279.4 468.8Z" fill="#3a3a3a" opacity="0.72"/>
<path d="M218.0 593.8Q221.0 597.6 225.8 597.6" stroke="#dadada" stroke-width="0.9" fill="none" opacity="0.71" stroke-linecap="round"/>
<path d="M218.0 593.8Q221.4 596.8 225.8 597.6Q222.8 593.9 218.0 593.8Z" fill="#3a3a3a" opacity="0.79"/>
<path d="M299.4 454.7Q295.1 457.4 294.9 462.4" stroke="#dadada" stroke-width="0.9" fill="none" opacity="0.80" stroke-linecap="round"/>
<path d="M299.4 454.7Q295.9 457.8 294.9 462.4Q298.6 459.4 299.4 454.7Z" fill="#3a3a3a" opacity="0.89"/>
<path d="M190.4 478.7Q190.8 482.0 193.1 484.4" stroke="#dadada" stroke-width="0.9" fill="none" opacity="0.60" stroke-linecap="round"/>
<path d="M190.4 478.7Q191.6 481.6 193.1 484.4Q193.8 480.6 190.4 478.7Z" fill="#3a3a3a" opacity="0.67"/>
<path d="M284.2 510.7Q286.8 514.0 290.9 513.2" stroke="#dadada" stroke-width="0.9" fill="none" opacity="0.59" stroke-linecap="round"/>
<path d="M284.2 510.7Q287.1 513.1 290.9 513.2Q288.0 510.7 284.2 510.7Z" fill="#3a3a3a" opacity="0.66"/>
<path d="M189.8 428.1Q184.8 426.7 179.9 428.3" stroke="#dadada" stroke-width="0.9" fill="none" opacity="0.85" stroke-linecap="round"/>
<path d="M189.8 428.1Q184.8 427.6 179.9 428.3Q184.9 430.7 189.8 428.1Z" fill="#3a3a3a" opacity="0.94"/>
<path d="M264.9 443.0Q263.5 447.0 265.2 450.9" stroke="#dadada" stroke-width="0.9" fill="none" opacity="0.54" stroke-linecap="round"/>
<path d="M264.9 443.0Q264.4 447.0 265.2 450.9Q267.2 446.9 264.9 443.0Z" fill="#3a3a3a" opacity="0.60"/>
<path d="M325.2 544.6Q320.8 548.7 320.9 554.8" stroke="#dadada" stroke-width="0.9" fill="none" opacity="0.62" stroke-linecap="round"/>
<path d="M325.2 544.6Q321.6 549.0 320.9 554.8Q323.9 550.0 325.2 544.6Z" fill="#3a3a3a" opacity="0.69"/>
<path d="M199.7 428.0Q194.7 430.2 191.7 434.8" stroke="#dadada" stroke-width="0.9" fill="none" opacity="0.74" stroke-linecap="round"/>
<path d="M199.7 428.0Q195.3 430.9 191.7 434.8Q196.8 432.7 199.7 428.0Z" fill="#3a3a3a" opacity="0.82"/>
<path d="M306.7 601.2Q309.4 606.5 315.4 606.3" stroke="#dadada" stroke-width="0.9" fill="none" opacity="0.64" stroke-linecap="round"/>
<path d="M306.7 601.2Q309.9 605.8 315.4 606.3Q311.4 603.1 306.7 601.2Z" fill="#3a3a3a" opacity="0.71"/>
<path d="M201.2 581.2Q201.2 585.6 205.2 587.4" stroke="#dadada" stroke-width="0.9" fill="none" opacity="0.80" stroke-linecap="round"/>
<path d="M201.2 581.2Q202.0 585.1 205.2 587.4Q204.2 583.7 201.2 581.2Z" fill="#3a3a3a" opacity="0.89"/>
<path d="M213.1 429.6Q209.0 433.3 211.2 438.5" stroke="#dadada" stroke-width="0.9" fill="none" opacity="0.83" stroke-linecap="round"/>
<path d="M213.1 429.6Q209.9 433.5 211.2 438.5Q212.9 434.2 213.1 429.6Z" fill="#3a3a3a" opacity="0.92"/>
<path d="M327.2 517.9Q325.4 520.9 327.2 523.9" stroke="#dadada" stroke-width="0.9" fill="none" opacity="0.57" stroke-linecap="round"/>
<path d="M327.2 517.9Q326.3 520.9 327.2 523.9Q329.1 520.9 327.2 517.9Z" fill="#3a3a3a" opacity="0.63"/>
<path d="M284.3 451.9Q284.3 457.6 286.3 463.0" stroke="#dadada" stroke-width="0.9" fill="none" opacity="0.68" stroke-linecap="round"/>
<path d="M284.3 451.9Q285.2 457.5 286.3 463.0Q287.3 457.1 284.3 451.9Z" fill="#3a3a3a" opacity="0.75"/>
<path d="M199.0 564.6Q204.2 568.0 209.5 564.7" stroke="#dadada" stroke-width="0.9" fill="none" opacity="0.67" stroke-linecap="round"/>
<path d="M199.0 564.6Q204.2 567.1 209.5 564.7Q204.2 564.0 199.0 564.6Z" fill="#3a3a3a" opacity="0.75"/>
<path d="M219.5 549.1Q217.4 552.8 219.1 556.8" stroke="#dadada" stroke-width="0.9" fill="none" opacity="0.75" stroke-linecap="round"/>
<path d="M219.5 549.1Q218.3 552.9 219.1 556.8Q221.0 553.0 219.5 549.1Z" fill="#3a3a3a" opacity="0.83"/>
<path d="M304.8 597.7Q306.7 601.3 310.8 601.1" stroke="#dadada" stroke-width="0.9" fill="none" opacity="0.65" stroke-linecap="round"/>
<path d="M304.8 597.7Q307.2 600.5 310.8 601.1Q308.6 598.0 304.8 597.7Z" fill="#3a3a3a" opacity="0.72"/>
<path d="M202.9 439.0Q201.8 444.3 207.1 445.8" stroke="#dadada" stroke-width="0.9" fill="none" opacity="0.81" stroke-linecap="round"/>
<path d="M202.9 439.0Q202.6 443.9 207.1 445.8Q205.4 442.1 202.9 439.0Z" fill="#3a3a3a" opacity="0.90"/>
<path d="M333.9 605.7Q330.8 610.0 330.1 615.3" stroke="#dadada" stroke-width="0.9" fill="none" opacity="0.73" stroke-linecap="round"/>
<path d="M333.9 605.7Q331.6 610.3 330.1 615.3Q334.4 611.4 333.9 605.7Z" fill="#3a3a3a" opacity="0.81"/>
<path d="M225.6 535.0Q221.2 533.1 217.5 536.2" stroke="#dadada" stroke-width="0.9" fill="none" opacity="0.65" stroke-linecap="round"/>
<path d="M225.6 535.0Q221.3 534.0 217.5 536.2Q221.7 536.5 225.6 535.0Z" fill="#3a3a3a" opacity="0.72"/>
<path d="M313.6 428.8Q316.4 433.0 321.4 434.1" stroke="#dadada" stroke-width="0.9" fill="none" opacity="0.75" stroke-linecap="round"/>
<path d="M313.6 428.8Q316.9 432.3 321.4 434.1Q318.2 430.4 313.6 428.8Z" fill="#3a3a3a" opacity="0.83"/>
<path d="M232.7 533.4Q231.5 538.0 234.9 541.5" stroke="#dadada" stroke-width="0.9" fill="none" opacity="0.58" stroke-linecap="round"/>
<path d="M232.7 533.4Q232.4 537.8 234.9 541.5Q234.9 537.1 232.7 533.4Z" fill="#3a3a3a" opacity="0.64"/>
<path d="M203.0 593.9Q199.6 596.3 202.1 599.5" stroke="#dadada" stroke-width="0.9" fill="none" opacity="0.57" stroke-linecap="round"/>
<path d="M203.0 593.9Q200.5 596.4 202.1 599.5Q202.9 596.8 203.0 593.9Z" fill="#3a3a3a" opacity="0.63"/>
<path d="M259.5 470.0Q258.0 474.4 259.8 478.6" stroke="#dadada" stroke-width="0.9" fill="none" opacity="0.58" stroke-linecap="round"/>
<path d="M259.5 470.0Q258.9 474.3 259.8 478.6Q261.8 474.3 259.5 470.0Z" fill="#3a3a3a" opacity="0.64"/>
<path d="M253.1 538.0Q256.5 540.1 260.5 539.9" stroke="#dadada" stroke-width="0.9" fill="none" opacity="0.81" stroke-linecap="round"/>
<path d="M253.1 538.0Q256.7 539.2 260.5 539.9Q257.4 536.6 253.1 538.0Z" fill="#3a3a3a" opacity="0.90"/>
<path d="M265.0 561.1Q260.4 560.5 260.8 565.1" stroke="#dadada" stroke-width="0.9" fill="none" opacity="0.57" stroke-linecap="round"/>
<path d="M265.0 561.1Q261.0 561.1 260.8 565.1Q263.1 563.3 265.0 561.1Z" fill="#3a3a3a" opacity="0.64"/>
<path d="M303.7 498.4Q307.2 503.5 313.3 504.1" stroke="#dadada" stroke-width="0.9" fill="none" opacity="0.58" stroke-linecap="round"/>
<path d="M303.7 498.4Q307.6 502.7 313.3 504.1Q309.2 500.0 303.7 498.4Z" fill="#3a3a3a" opacity="0.65"/>
<path d="M297.0 434.6Q298.9 438.0 302.4 439.6" stroke="#dadada" stroke-width="0.9" fill="none" opacity="0.61" stroke-linecap="round"/>
<path d="M297.0 434.6Q299.5 437.3 302.4 439.6Q301.5 435.2 297.0 434.6Z" fill="#3a3a3a" opacity="0.67"/>
<path d="M220.8 556.5Q219.3 562.4 223.3 567.0" stroke="#dadada" stroke-width="0.9" fill="none" opacity="0.72" stroke-linecap="round"/>
<path d="M220.8 556.5Q220.1 562.2 223.3 567.0Q223.3 561.4 220.8 556.5Z" fill="#3a3a3a" opacity="0.80"/>
<path d="M318.5 590.5Q321.7 594.8 327.0 595.5" stroke="#dadada" stroke-width="0.9" fill="none" opacity="0.75" stroke-linecap="round"/>
<path d="M318.5 590.5Q322.1 594.1 327.0 595.5Q323.7 591.3 318.5 590.5Z" fill="#3a3a3a" opacity="0.84"/>
<path d="M305.9 445.1Q304.5 451.0 309.7 454.1" stroke="#dadada" stroke-width="0.9" fill="none" opacity="0.55" stroke-linecap="round"/>
<path d="M305.9 445.1Q305.4 450.6 309.7 454.1Q308.2 449.4 305.9 445.1Z" fill="#3a3a3a" opacity="0.62"/>
<path d="M272.4 440.2Q270.0 445.0 270.8 450.3" stroke="#dadada" stroke-width="0.9" fill="none" opacity="0.75" stroke-linecap="round"/>
<path d="M272.4 440.2Q270.8 445.1 270.8 450.3Q274.2 445.6 272.4 440.2Z" fill="#3a3a3a" opacity="0.84"/>
<path d="M213.8 458.0Q212.4 463.5 215.5 468.3" stroke="#dadada" stroke-width="0.9" fill="none" opacity="0.55" stroke-linecap="round"/>
<path d="M213.8 458.0Q213.3 463.3 215.5 468.3Q215.5 463.0 213.8 458.0Z" fill="#3a3a3a" opacity="0.61"/>
<path d="M187.5 577.2Q190.1 581.2 194.7 582.0" stroke="#dadada" stroke-width="0.9" fill="none" opacity="0.66" stroke-linecap="round"/>
<path d="M187.5 577.2Q190.6 580.4 194.7 582.0Q192.2 577.9 187.5 577.2Z" fill="#3a3a3a" opacity="0.73"/>
<path d="M197.2 589.2Q193.3 593.5 196.1 598.6" stroke="#dadada" stroke-width="0.9" fill="none" opacity="0.54" stroke-linecap="round"/>
<path d="M197.2 589.2Q194.2 593.6 196.1 598.6Q197.6 594.0 197.2 589.2Z" fill="#3a3a3a" opacity="0.60"/>
<path d="M229.0 449.7Q226.2 455.0 228.9 460.4" stroke="#dadada" stroke-width="0.9" fill="none" opacity="0.60" stroke-linecap="round"/>
<path d="M229.0 449.7Q227.1 455.0 228.9 460.4Q229.3 455.0 229.0 449.7Z" fill="#3a3a3a" opacity="0.66"/>
<path d="M305.2 552.5Q305.0 556.9 307.9 560.2" stroke="#dadada" stroke-width="0.9" fill="none" opacity="0.66" stroke-linecap="round"/>
<path d="M305.2 552.5Q305.8 556.6 307.9 560.2Q308.9 555.6 305.2 552.5Z" fill="#3a3a3a" opacity="0.74"/>
<path d="M312.0 542.4Q315.0 545.0 319.0 544.0" stroke="#dadada" stroke-width="0.9" fill="none" opacity="0.73" stroke-linecap="round"/>
<path d="M312.0 542.4Q315.3 544.1 319.0 544.0Q316.0 540.9 312.0 542.4Z" fill="#3a3a3a" opacity="0.81"/>
<path d="M178.5 455.0Q178.0 459.7 181.9 462.3" stroke="#dadada" stroke-width="0.9" fill="none" opacity="0.65" stroke-linecap="round"/>
<path d="M178.5 455.0Q178.9 459.3 181.9 462.3Q181.2 458.2 178.5 455.0Z" fill="#3a3a3a" opacity="0.72"/>
<path d="M172.8 534.9Q171.9 538.4 175.4 539.3" stroke="#dadada" stroke-width="0.9" fill="none" opacity="0.55" stroke-linecap="round"/>
<path d="M172.8 534.9Q172.7 537.9 175.4 539.3Q175.6 536.2 172.8 534.9Z" fill="#3a3a3a" opacity="0.62"/>
<path d="M194.7 552.2Q195.3 556.1 199.1 557.3" stroke="#dadada" stroke-width="0.9" fill="none" opacity="0.72" stroke-linecap="round"/>
<path d="M194.7 552.2Q196.0 555.5 199.1 557.3Q197.8 553.9 194.7 552.2Z" fill="#3a3a3a" opacity="0.80"/>
<path d="M261.9 609.5Q259.2 606.9 256.6 609.6" stroke="#dadada" stroke-width="0.9" fill="none" opacity="0.81" stroke-linecap="round"/>
<path d="M261.9 609.5Q259.2 607.8 256.6 609.6Q259.3 611.0 261.9 609.5Z" fill="#3a3a3a" opacity="0.91"/>
<path d="M300.9 544.1Q297.6 546.7 297.9 550.8" stroke="#dadada" stroke-width="0.9" fill="none" opacity="0.81" stroke-linecap="round"/>
<path d="M300.9 544.1Q298.4 547.0 297.9 550.8Q301.3 548.3 300.9 544.1Z" fill="#3a3a3a" opacity="0.91"/>
<path d="M323.3 552.6Q323.9 558.4 329.1 560.8" stroke="#dadada" stroke-width="0.9" fill="none" opacity="0.74" stroke-linecap="round"/>
<path d="M323.3 552.6Q324.6 557.8 329.1 560.8Q326.9 556.2 323.3 552.6Z" fill="#3a3a3a" opacity="0.82"/>
<path d="M229.5 529.1Q228.6 532.2 231.0 534.3" stroke="#dadada" stroke-width="0.9" fill="none" opacity="0.85" stroke-linecap="round"/>
<path d="M229.5 529.1Q229.4 531.9 231.0 534.3Q231.8 531.2 229.5 529.1Z" fill="#3a3a3a" opacity="0.95"/>
<path d="M249.3 494.2Q250.5 497.7 254.0 498.8" stroke="#dadada" stroke-width="0.9" fill="none" opacity="0.54" stroke-linecap="round"/>
<path d="M249.3 494.2Q251.1 497.1 254.0 498.8Q252.7 495.4 249.3 494.2Z" fill="#3a3a3a" opacity="0.60"/>
<path d="M314.4 508.7Q313.6 513.2 315.9 517.2" stroke="#dadada" stroke-width="0.9" fill="none" opacity="0.56" stroke-linecap="round"/>
<path d="M314.4 508.7Q314.5 513.1 315.9 517.2Q316.8 512.7 314.4 508.7Z" fill="#3a3a3a" opacity="0.62"/>
<path d="M225.1 482.0Q219.8 483.1 219.5 488.5" stroke="#dadada" stroke-width="0.9" fill="none" opacity="0.83" stroke-linecap="round"/>
<path d="M225.1 482.0Q220.5 483.7 219.5 488.5Q222.4 485.4 225.1 482.0Z" fill="#3a3a3a" opacity="0.92"/>
<path d="M264.5 439.1Q266.5 444.3 272.0 443.8" stroke="#dadada" stroke-width="0.9" fill="none" opacity="0.78" stroke-linecap="round"/>
<path d="M264.5 439.1Q266.9 443.5 272.0 443.8Q268.3 441.3 264.5 439.1Z" fill="#3a3a3a" opacity="0.87"/>
<path d="M239.0 591.7Q242.3 595.6 246.9 593.4" stroke="#dadada" stroke-width="0.9" fill="none" opacity="0.62" stroke-linecap="round"/>
<path d="M239.0 591.7Q242.5 594.7 246.9 593.4Q243.0 592.3 239.0 591.7Z" fill="#3a3a3a" opacity="0.69"/>
<path d="M173.7 454.1Q175.7 458.7 180.1 461.2" stroke="#dadada" stroke-width="0.9" fill="none" opacity="0.60" stroke-linecap="round"/>
<path d="M173.7 454.1Q176.4 458.1 180.1 461.2Q178.4 456.3 173.7 454.1Z" fill="#3a3a3a" opacity="0.67"/>
<path d="M272.8 588.9Q268.6 590.3 270.0 594.5" stroke="#dadada" stroke-width="0.9" fill="none" opacity="0.73" stroke-linecap="round"/>
<path d="M272.8 588.9Q269.4 590.7 270.0 594.5Q272.5 592.3 272.8 588.9Z" fill="#3a3a3a" opacity="0.81"/>
<path d="M189.4 579.9Q185.6 580.2 182.7 582.7" stroke="#dadada" stroke-width="0.9" fill="none" opacity="0.71" stroke-linecap="round"/>
<path d="M189.4 579.9Q185.9 581.0 182.7 582.7Q186.8 583.2 189.4 579.9Z" fill="#3a3a3a" opacity="0.79"/>
<path d="M319.0 548.0Q315.4 546.8 312.8 549.5" stroke="#dadada" stroke-width="0.9" fill="none" opacity="0.74" stroke-linecap="round"/>
<path d="M319.0 548.0Q315.6 547.7 312.8 549.5Q316.4 550.7 319.0 548.0Z" fill="#3a3a3a" opacity="0.83"/>
<path d="M237.9 553.9Q237.7 557.1 240.5 558.6" stroke="#dadada" stroke-width="0.9" fill="none" opacity="0.74" stroke-linecap="round"/>
<path d="M237.9 553.9Q238.4 556.7 240.5 558.6Q240.3 555.6 237.9 553.9Z" fill="#3a3a3a" opacity="0.82"/>
<path d="M228.7 517.7Q225.9 520.3 226.7 524.0" stroke="#dadada" stroke-width="0.9" fill="none" opacity="0.83" stroke-linecap="round"/>
<path d="M228.7 517.7Q226.7 520.6 226.7 524.0Q228.8 521.2 228.7 517.7Z" fill="#3a3a3a" opacity="0.92"/>
<path d="M260.7 614.6Q264.6 618.1 269.5 616.2" stroke="#dadada" stroke-width="0.9" fill="none" opacity="0.57" stroke-linecap="round"/>
<path d="M260.7 614.6Q264.8 617.2 269.5 616.2Q265.2 614.7 260.7 614.6Z" fill="#3a3a3a" opacity="0.63"/>
<path d="M200.7 451.6Q196.6 451.2 196.5 455.3" stroke="#dadada" stroke-width="0.9" fill="none" opacity="0.71" stroke-linecap="round"/>
<path d="M200.7 451.6Q197.2 451.9 196.5 455.3Q199.0 453.9 200.7 451.6Z" fill="#3a3a3a" opacity="0.79"/>
<path d="M271.2 528.6Q267.3 531.5 267.0 536.4" stroke="#dadada" stroke-width="0.9" fill="none" opacity="0.62" stroke-linecap="round"/>
<path d="M271.2 528.6Q268.1 531.9 267.0 536.4Q270.8 533.4 271.2 528.6Z" fill="#3a3a3a" opacity="0.69"/>
<path d="M291.8 570.2Q287.0 569.9 286.5 574.7" stroke="#dadada" stroke-width="0.9" fill="none" opacity="0.68" stroke-linecap="round"/>
<path d="M291.8 570.2Q287.6 570.6 286.5 574.7Q289.8 573.2 291.8 570.2Z" fill="#3a3a3a" opacity="0.76"/>
<path d="M221.4 525.9Q218.3 525.3 215.6 527.0" stroke="#dadada" stroke-width="0.9" fill="none" opacity="0.75" stroke-linecap="round"/>
<path d="M221.4 525.9Q218.4 526.2 215.6 527.0Q219.0 528.9 221.4 525.9Z" fill="#3a3a3a" opacity="0.83"/>
<path d="M302.6 495.5Q299.3 493.0 296.1 495.7" stroke="#dadada" stroke-width="0.9" fill="none" opacity="0.55" stroke-linecap="round"/>
<path d="M302.6 495.5Q299.3 493.9 296.1 495.7Q299.4 496.1 302.6 495.5Z" fill="#3a3a3a" opacity="0.61"/>
<path d="M195.0 433.3Q193.2 437.6 195.0 441.9" stroke="#dadada" stroke-width="0.9" fill="none" opacity="0.66" stroke-linecap="round"/>
<path d="M195.0 433.3Q194.1 437.6 195.0 441.9Q197.4 437.6 195.0 433.3Z" fill="#3a3a3a" opacity="0.73"/>
<path d="M201.2 456.1Q196.6 459.3 193.7 464.1" stroke="#dadada" stroke-width="0.9" fill="none" opacity="0.79" stroke-linecap="round"/>
<path d="M201.2 456.1Q197.3 459.9 193.7 464.1Q198.8 461.4 201.2 456.1Z" fill="#3a3a3a" opacity="0.87"/>
<path d="M212.7 609.8Q210.5 614.4 212.7 619.0" stroke="#dadada" stroke-width="0.9" fill="none" opacity="0.68" stroke-linecap="round"/>
<path d="M212.7 609.8Q211.4 614.4 212.7 619.0Q214.6 614.4 212.7 609.8Z" fill="#3a3a3a" opacity="0.76"/>
<path d="M221.3 597.7Q225.5 600.6 230.5 600.9" stroke="#dadada" stroke-width="0.9" fill="none" opacity="0.67" stroke-linecap="round"/>
<path d="M221.3 597.7Q225.8 599.7 230.5 600.9Q226.8 596.9 221.3 597.7Z" fill="#3a3a3a" opacity="0.74"/>
<path d="M314.8 433.8Q310.5 436.9 313.3 441.4" stroke="#dadada" stroke-width="0.9" fill="none" opacity="0.74" stroke-linecap="round"/>
<path d="M314.8 433.8Q311.4 437.1 313.3 441.4Q314.7 437.7 314.8 433.8Z" fill="#3a3a3a" opacity="0.82"/>
<path d="M207.0 471.5Q208.6 475.4 212.3 477.3" stroke="#dadada" stroke-width="0.9" fill="none" opacity="0.78" stroke-linecap="round"/>
<path d="M207.0 471.5Q209.2 474.8 212.3 477.3Q211.0 473.2 207.0 471.5Z" fill="#3a3a3a" opacity="0.87"/>
<path d="M281.1 483.3Q277.9 481.1 274.7 483.4" stroke="#dadada" stroke-width="0.9" fill="none" opacity="0.81" stroke-linecap="round"/>
<path d="M281.1 483.3Q277.9 482.0 274.7 483.4Q277.9 484.3 281.1 483.3Z" fill="#3a3a3a" opacity="0.90"/>
<path d="M318.6 473.7Q313.7 476.2 311.2 481.0" stroke="#dadada" stroke-width="0.9" fill="none" opacity="0.69" stroke-linecap="round"/>
<path d="M318.6 473.7Q314.3 476.8 311.2 481.0Q316.1 478.6 318.6 473.7Z" fill="#3a3a3a" opacity="0.77"/>
<path d="M320.8 453.3Q316.5 455.9 316.0 460.8" stroke="#dadada" stroke-width="0.9" fill="none" opacity="0.82" stroke-linecap="round"/>
<path d="M320.8 453.3Q317.3 456.4 316.0 460.8Q319.7 457.9 320.8 453.3Z" fill="#3a3a3a" opacity="0.91"/>
<path d="M205.2 590.9Q204.7 596.7 209.5 600.0" stroke="#dadada" stroke-width="0.9" fill="none" opacity="0.81" stroke-linecap="round"/>
<path d="M205.2 590.9Q205.5 596.3 209.5 600.0Q207.6 595.4 205.2 590.9Z" fill="#3a3a3a" opacity="0.90"/>
<path d="M332.5 482.9Q335.1 486.2 338.2 483.4" stroke="#dadada" stroke-width="0.9" fill="none" opacity="0.83" stroke-linecap="round"/>
<path d="M332.5 482.9Q335.2 485.3 338.2 483.4Q335.3 483.2 332.5 482.9Z" fill="#3a3a3a" opacity="0.92"/>
<path d="M194.8 566.3Q197.0 569.5 200.6 568.1" stroke="#dadada" stroke-width="0.9" fill="none" opacity="0.65" stroke-linecap="round"/>
<path d="M194.8 566.3Q197.2 568.7 200.6 568.1Q197.9 566.6 194.8 566.3Z" fill="#3a3a3a" opacity="0.72"/>
<path d="M328.2 561.4Q322.5 562.5 317.6 565.5" stroke="#dadada" stroke-width="0.9" fill="none" opacity="0.79" stroke-linecap="round"/>
<path d="M328.2 561.4Q322.9 563.3 317.6 565.5Q323.8 565.6 328.2 561.4Z" fill="#3a3a3a" opacity="0.88"/>
<path d="M285.6 430.1Q283.7 433.3 285.5 436.6" stroke="#dadada" stroke-width="0.9" fill="none" opacity="0.55" stroke-linecap="round"/>
<path d="M285.6 430.1Q284.6 433.3 285.5 436.6Q286.8 433.4 285.6 430.1Z" fill="#3a3a3a" opacity="0.61"/>
<path d="M337.4 485.7Q333.9 484.9 332.0 487.8" stroke="#dadada" stroke-width="0.9" fill="none" opacity="0.67" stroke-linecap="round"/>
<path d="M337.4 485.7Q334.3 485.7 332.0 487.8Q335.1 487.9 337.4 485.7Z" fill="#3a3a3a" opacity="0.75"/>
<path d="M197.9 555.3Q201.4 559.3 206.7 559.7" stroke="#dadada" stroke-width="0.9" fill="none" opacity="0.65" stroke-linecap="round"/>
<path d="M197.9 555.3Q201.8 558.5 206.7 559.7Q202.8 556.5 197.9 555.3Z" fill="#3a3a3a" opacity="0.72"/>
<path d="M252.6 599.4Q250.8 603.9 255.5 605.1" stroke="#dadada" stroke-width="0.9" fill="none" opacity="0.77" stroke-linecap="round"/>
<path d="M252.6 599.4Q251.6 603.5 255.5 605.1Q254.5 602.0 252.6 599.4Z" fill="#3a3a3a" opacity="0.86"/>
<path d="M215.8 458.1Q216.7 460.9 219.5 462.1" stroke="#dadada" stroke-width="0.9" fill="none" opacity="0.67" stroke-linecap="round"/>
<path d="M215.8 458.1Q217.4 460.3 219.5 462.1Q219.5 458.4 215.8 458.1Z" fill="#3a3a3a" opacity="0.74"/>
<path d="M259.2 495.5Q263.8 498.3 268.6 495.8" stroke="#dadada" stroke-width="0.9" fill="none" opacity="0.71" stroke-linecap="round"/>
<path d="M259.2 495.5Q263.8 497.4 268.6 495.8Q263.9 494.6 259.2 495.5Z" fill="#3a3a3a" opacity="0.79"/>
<path d="M290.1 612.6Q284.9 612.6 281.2 616.3" stroke="#dadada" stroke-width="0.9" fill="none" opacity="0.67" stroke-linecap="round"/>
<path d="M290.1 612.6Q285.3 613.5 281.2 616.3Q286.3 615.8 290.1 612.6Z" fill="#3a3a3a" opacity="0.75"/>
<path d="M330.4 496.7Q330.1 500.9 333.1 503.9" stroke="#dadada" stroke-width="0.9" fill="none" opacity="0.54" stroke-linecap="round"/>
<path d="M330.4 496.7Q331.0 500.6 333.1 503.9Q334.2 499.4 330.4 496.7Z" fill="#3a3a3a" opacity="0.60"/>
<path d="M269.1 600.5Q270.9 604.9 275.4 606.9" stroke="#dadada" stroke-width="0.9" fill="none" opacity="0.60" stroke-linecap="round"/>
<path d="M269.1 600.5Q271.6 604.3 275.4 606.9Q273.3 602.6 269.1 600.5Z" fill="#3a3a3a" opacity="0.67"/>
<path d="M196.3 584.3Q191.2 586.7 187.8 591.1" stroke="#dadada" stroke-width="0.9" fill="none" opacity="0.64" stroke-linecap="round"/>
<path d="M196.3 584.3Q191.8 587.4 187.8 591.1Q193.7 589.7 196.3 584.3Z" fill="#3a3a3a" opacity="0.71"/>
<path d="M275.4 526.6Q277.4 532.0 281.6 536.1" stroke="#dadada" stroke-width="0.9" fill="none" opacity="0.81" stroke-linecap="round"/>
<path d="M275.4 526.6Q278.2 531.5 281.6 536.1Q280.8 529.8 275.4 526.6Z" fill="#3a3a3a" opacity="0.90"/>
<path d="M259.6 539.6Q256.3 536.9 253.0 539.7" stroke="#dadada" stroke-width="0.9" fill="none" opacity="0.66" stroke-linecap="round"/>
<path d="M259.6 539.6Q256.3 537.8 253.0 539.7Q256.3 540.9 259.6 539.6Z" fill="#3a3a3a" opacity="0.73"/>
<path d="M289.6 497.1Q286.7 501.3 288.9 506.0" stroke="#dadada" stroke-width="0.9" fill="none" opacity="0.74" stroke-linecap="round"/>
<path d="M289.6 497.1Q287.6 501.4 288.9 506.0Q290.1 501.6 289.6 497.1Z" fill="#3a3a3a" opacity="0.82"/>
<path d="M262.8 465.7Q258.6 467.8 260.5 472.1" stroke="#dadada" stroke-width="0.9" fill="none" opacity="0.77" stroke-linecap="round"/>
<path d="M262.8 465.7Q259.5 468.1 260.5 472.1Q262.0 469.0 262.8 465.7Z" fill="#3a3a3a" opacity="0.85"/>
<path d="M256.0 515.6Q256.1 520.0 260.5 519.4" stroke="#dadada" stroke-width="0.9" fill="none" opacity="0.71" stroke-linecap="round"/>
<path d="M256.0 515.6Q256.7 519.3 260.5 519.4Q258.5 517.2 256.0 515.6Z" fill="#3a3a3a" opacity="0.78"/>
<path d="M256.9 579.9Q257.1 584.2 261.4 584.1" stroke="#dadada" stroke-width="0.9" fill="none" opacity="0.74" stroke-linecap="round"/>
<path d="M256.9 579.9Q257.7 583.6 261.4 584.1Q259.5 581.6 256.9 579.9Z" fill="#3a3a3a" opacity="0.82"/>
<path d="M310.5 596.4Q307.2 595.4 305.6 598.6" stroke="#dadada" stroke-width="0.9" fill="none" opacity="0.80" stroke-linecap="round"/>
<path d="M310.5 596.4Q307.5 596.3 305.6 598.6Q308.8 599.2 310.5 596.4Z" fill="#3a3a3a" opacity="0.89"/>
<path d="M191.2 453.6Q191.6 457.1 195.2 457.6" stroke="#dadada" stroke-width="0.9" fill="none" opacity="0.70" stroke-linecap="round"/>
<path d="M191.2 453.6Q192.3 456.5 195.2 457.6Q194.5 454.2 191.2 453.6Z" fill="#3a3a3a" opacity="0.78"/>
<path d="M245.1 437.5Q244.4 443.8 248.8 448.4" stroke="#dadada" stroke-width="0.9" fill="none" opacity="0.69" stroke-linecap="round"/>
<path d="M245.1 437.5Q245.2 443.6 248.8 448.4Q247.8 442.7 245.1 437.5Z" fill="#3a3a3a" opacity="0.77"/>
<path d="M299.1 569.4Q302.4 573.3 307.5 573.7" stroke="#dadada" stroke-width="0.9" fill="none" opacity="0.61" stroke-linecap="round"/>
<path d="M299.1 569.4Q302.8 572.5 307.5 573.7Q304.1 570.0 299.1 569.4Z" fill="#3a3a3a" opacity="0.68"/>
<path d="M232.6 488.9Q232.1 491.9 234.5 493.7" stroke="#dadada" stroke-width="0.9" fill="none" opacity="0.56" stroke-linecap="round"/>
<path d="M232.6 488.9Q232.9 491.6 234.5 493.7Q235.6 490.5 232.6 488.9Z" fill="#3a3a3a" opacity="0.62"/>
<path d="M199.9 561.1Q200.8 565.0 204.5 566.5" stroke="#dadada" stroke-width="0.9" fill="none" opacity="0.57" stroke-linecap="round"/>
<path d="M199.9 561.1Q201.4 564.4 204.5 566.5Q203.9 562.3 199.9 561.1Z" fill="#3a3a3a" opacity="0.63"/>
<path d="M273.7 588.5Q275.0 593.2 280.0 593.0" stroke="#dadada" stroke-width="0.9" fill="none" opacity="0.66" stroke-linecap="round"/>
<path d="M273.7 588.5Q275.6 592.5 280.0 593.0Q277.3 590.1 273.7 588.5Z" fill="#3a3a3a" opacity="0.73"/>
<path d="M178.3 506.5Q178.7 511.6 182.2 515.3" stroke="#dadada" stroke-width="0.9" fill="none" opacity="0.74" stroke-linecap="round"/>
<path d="M178.3 506.5Q179.5 511.3 182.2 515.3Q181.9 510.2 178.3 506.5Z" fill="#3a3a3a" opacity="0.83"/>
<path d="M303.8 489.5Q302.4 494.7 306.9 497.7" stroke="#dadada" stroke-width="0.9" fill="none" opacity="0.85" stroke-linecap="round"/>
<path d="M303.8 489.5Q303.3 494.4 306.9 497.7Q305.5 493.6 303.8 489.5Z" fill="#3a3a3a" opacity="0.94"/>
<path d="M291.0 494.4Q288.0 496.8 287.4 500.6" stroke="#dadada" stroke-width="0.9" fill="none" opacity="0.66" stroke-linecap="round"/>
<path d="M291.0 494.4Q288.8 497.2 287.4 500.6Q291.5 498.8 291.0 494.4Z" fill="#3a3a3a" opacity="0.73"/>
<path d="M263.6 519.8Q258.5 520.1 254.1 522.8" stroke="#dadada" stroke-width="0.9" fill="none" opacity="0.69" stroke-linecap="round"/>
<path d="M263.6 519.8Q258.8 521.0 254.1 522.8Q259.7 523.8 263.6 519.8Z" fill="#3a3a3a" opacity="0.76"/>
<path d="M247.4 583.2Q245.4 587.9 249.5 590.9" stroke="#dadada" stroke-width="0.9" fill="none" opacity="0.69" stroke-linecap="round"/>
<path d="M247.4 583.2Q246.3 587.7 249.5 590.9Q248.9 586.9 247.4 583.2Z" fill="#3a3a3a" opacity="0.77"/>
<path d="M259.1 580.0Q255.1 583.3 254.1 588.4" stroke="#dadada" stroke-width="0.9" fill="none" opacity="0.75" stroke-linecap="round"/>
<path d="M259.1 580.0Q255.8 583.8 254.1 588.4Q257.7 584.9 259.1 580.0Z" fill="#3a3a3a" opacity="0.84"/>
<path d="M265.6 571.7Q262.6 572.6 261.3 575.5" stroke="#dadada" stroke-width="0.9" fill="none" opacity="0.80" stroke-linecap="round"/>
<path d="M265.6 571.7Q263.1 573.2 261.3 575.5Q264.6 574.9 265.6 571.7Z" fill="#3a3a3a" opacity="0.89"/>
<path d="M192.8 440.0Q188.7 442.1 186.6 446.1" stroke="#dadada" stroke-width="0.9" fill="none" opacity="0.76" stroke-linecap="round"/>
<path d="M192.8 440.0Q189.4 442.7 186.6 446.1Q191.5 444.9 192.8 440.0Z" fill="#3a3a3a" opacity="0.85"/>
<path d="M254.0 433.4Q249.5 435.0 249.7 439.8" stroke="#dadada" stroke-width="0.9" fill="none" opacity="0.80" stroke-linecap="round"/>
<path d="M254.0 433.4Q250.3 435.5 249.7 439.8Q253.1 437.5 254.0 433.4Z" fill="#3a3a3a" opacity="0.89"/>
<path d="M313.2 450.4Q314.1 454.7 317.4 457.6" stroke="#dadada" stroke-width="0.9" fill="none" opacity="0.63" stroke-linecap="round"/>
<path d="M313.2 450.4Q314.9 454.3 317.4 457.6Q317.8 452.6 313.2 450.4Z" fill="#3a3a3a" opacity="0.70"/>
<path d="M212.2 482.3Q214.1 487.8 219.6 489.9" stroke="#dadada" stroke-width="0.9" fill="none" opacity="0.67" stroke-linecap="round"/>
<path d="M212.2 482.3Q214.8 487.2 219.6 489.9Q216.8 485.2 212.2 482.3Z" fill="#3a3a3a" opacity="0.75"/>
<path d="M186.1 482.4Q180.2 481.7 176.8 486.5" stroke="#dadada" stroke-width="0.9" fill="none" opacity="0.60" stroke-linecap="round"/>
<path d="M186.1 482.4Q180.6 482.6 176.8 486.5Q181.6 484.8 186.1 482.4Z" fill="#3a3a3a" opacity="0.67"/>
<path d="M180.1 525.3Q179.5 529.9 183.1 532.7" stroke="#dadada" stroke-width="0.9" fill="none" opacity="0.66" stroke-linecap="round"/>
<path d="M180.1 525.3Q180.3 529.6 183.1 532.7Q183.0 528.4 180.1 525.3Z" fill="#3a3a3a" opacity="0.73"/>
<path d="M308.0 463.4Q303.5 463.4 299.6 465.6" stroke="#dadada" stroke-width="0.9" fill="none" opacity="0.71" stroke-linecap="round"/>
<path d="M308.0 463.4Q303.8 464.3 299.6 465.6Q304.4 466.8 308.0 463.4Z" fill="#3a3a3a" opacity="0.79"/>
<path d="M238.0 531.5Q237.4 535.9 241.6 537.3" stroke="#dadada" stroke-width="0.9" fill="none" opacity="0.76" stroke-linecap="round"/>
<path d="M238.0 531.5Q238.1 535.4 241.6 537.3Q240.3 534.1 238.0 531.5Z" fill="#3a3a3a" opacity="0.85"/>
<path d="M303.2 534.1Q301.6 539.9 304.8 545.1" stroke="#dadada" stroke-width="0.9" fill="none" opacity="0.56" stroke-linecap="round"/>
<path d="M303.2 534.1Q302.5 539.8 304.8 545.1Q305.7 539.4 303.2 534.1Z" fill="#3a3a3a" opacity="0.62"/>
<path d="M238.6 547.8Q243.6 550.0 249.1 549.5" stroke="#dadada" stroke-width="0.9" fill="none" opacity="0.60" stroke-linecap="round"/>
<path d="M238.6 547.8Q243.8 549.1 249.1 549.5Q244.2 546.2 238.6 547.8Z" fill="#3a3a3a" opacity="0.66"/>
<path d="M326.9 531.2Q321.9 531.4 320.2 536.1" stroke="#dadada" stroke-width="0.9" fill="none" opacity="0.63" stroke-linecap="round"/>
<path d="M326.9 531.2Q322.4 532.1 320.2 536.1Q324.2 534.5 326.9 531.2Z" fill="#3a3a3a" opacity="0.70"/>
<path d="M202.6 584.4Q206.9 588.0 212.4 589.2" stroke="#dadada" stroke-width="0.9" fill="none" opacity="0.57" stroke-linecap="round"/>
<path d="M202.6 584.4Q207.3 587.2 212.4 589.2Q208.3 585.2 202.6 584.4Z" fill="#3a3a3a" opacity="0.63"/>
<path d="M299.8 603.9Q299.1 608.9 302.2 612.9" stroke="#dadada" stroke-width="0.9" fill="none" opacity="0.76" stroke-linecap="round"/>
<path d="M299.8 603.9Q300.0 608.7 302.2 612.9Q303.2 607.8 299.8 603.9Z" fill="#3a3a3a" opacity="0.84"/>
<path d="M199.9 434.8Q195.9 435.3 196.8 439.1" stroke="#dadada" stroke-width="0.9" fill="none" opacity="0.61" stroke-linecap="round"/>
<path d="M199.9 434.8Q196.7 435.8 196.8 439.1Q198.7 437.2 199.9 434.8Z" fill="#3a3a3a" opacity="0.68"/>
<path d="M268.6 484.3Q264.9 486.6 267.5 490.1" stroke="#dadada" stroke-width="0.9" fill="none" opacity="0.81" stroke-linecap="round"/>
<path d="M268.6 484.3Q265.8 486.8 267.5 490.1Q268.3 487.3 268.6 484.3Z" fill="#3a3a3a" opacity="0.89"/>
<path d="M201.6 579.1Q197.8 578.3 194.1 579.6" stroke="#dadada" stroke-width="0.9" fill="none" opacity="0.74" stroke-linecap="round"/>
<path d="M201.6 579.1Q197.9 579.2 194.1 579.6Q198.0 581.8 201.6 579.1Z" fill="#3a3a3a" opacity="0.82"/>
<path d="M205.7 529.6Q208.7 533.4 213.4 531.9" stroke="#dadada" stroke-width="0.9" fill="none" opacity="0.75" stroke-linecap="round"/>
<path d="M205.7 529.6Q209.0 532.5 213.4 531.9Q209.8 530.0 205.7 529.6Z" fill="#3a3a3a" opacity="0.84"/>
<path d="M186.7 582.9Q190.3 588.4 196.9 587.0" stroke="#dadada" stroke-width="0.9" fill="none" opacity="0.71" stroke-linecap="round"/>
<path d="M186.7 582.9Q190.7 587.6 196.9 587.0Q191.9 584.5 186.7 582.9Z" fill="#3a3a3a" opacity="0.78"/>
<path d="M223.4 489.9Q218.4 490.6 217.6 495.7" stroke="#dadada" stroke-width="0.9" fill="none" opacity="0.69" stroke-linecap="round"/>
<path d="M223.4 489.9Q219.0 491.3 217.6 495.7Q220.6 492.9 223.4 489.9Z" fill="#3a3a3a" opacity="0.77"/>
<path d="M314.4 537.9Q312.8 540.5 313.7 543.5" stroke="#dadada" stroke-width="0.9" fill="none" opacity="0.82" stroke-linecap="round"/>
<path d="M314.4 537.9Q313.7 540.6 313.7 543.5Q316.1 541.0 314.4 537.9Z" fill="#3a3a3a" opacity="0.91"/>
<path d="M313.5 469.0Q310.3 466.9 308.5 470.3" stroke="#dadada" stroke-width="0.9" fill="none" opacity="0.65" stroke-linecap="round"/>
<path d="M313.5 469.0Q310.5 467.8 308.5 470.3Q311.3 471.1 313.5 469.0Z" fill="#3a3a3a" opacity="0.72"/>
<path d="M323.6 551.4Q326.8 553.9 330.7 552.5" stroke="#dadada" stroke-width="0.9" fill="none" opacity="0.77" stroke-linecap="round"/>
<path d="M323.6 551.4Q327.0 553.0 330.7 552.5Q327.3 550.6 323.6 551.4Z" fill="#3a3a3a" opacity="0.86"/>
<path d="M200.7 574.9Q200.5 578.4 203.9 579.3" stroke="#dadada" stroke-width="0.9" fill="none" opacity="0.71" stroke-linecap="round"/>
<path d="M200.7 574.9Q201.3 577.9 203.9 579.3Q203.1 576.5 200.7 574.9Z" fill="#3a3a3a" opacity="0.79"/>
<path d="M301.3 537.7Q299.6 540.5 301.9 542.9" stroke="#dadada" stroke-width="0.9" fill="none" opacity="0.74" stroke-linecap="round"/>
<path d="M301.3 537.7Q300.5 540.4 301.9 542.9Q302.7 540.1 301.3 537.7Z" fill="#3a3a3a" opacity="0.83"/>
<path d="M193.0 533.6Q192.4 538.0 196.3 540.2" stroke="#dadada" stroke-width="0.9" fill="none" opacity="0.59" stroke-linecap="round"/>
<path d="M193.0 533.6Q193.2 537.6 196.3 540.2Q195.3 536.6 193.0 533.6Z" fill="#3a3a3a" opacity="0.66"/>
<path d="M331.4 487.1Q325.7 487.9 322.0 492.2" stroke="#dadada" stroke-width="0.9" fill="none" opacity="0.57" stroke-linecap="round"/>
<path d="M331.4 487.1Q326.1 488.7 322.0 492.2Q327.2 490.7 331.4 487.1Z" fill="#3a3a3a" opacity="0.63"/>
<path d="M316.4 444.3Q315.1 448.6 316.5 452.8" stroke="#dadada" stroke-width="0.9" fill="none" opacity="0.59" stroke-linecap="round"/>
<path d="M316.4 444.3Q316.0 448.5 316.5 452.8Q318.8 448.5 316.4 444.3Z" fill="#3a3a3a" opacity="0.66"/>
<path d="M259.2 520.4Q258.7 524.0 261.7 526.1" stroke="#dadada" stroke-width="0.9" fill="none" opacity="0.58" stroke-linecap="round"/>
<path d="M259.2 520.4Q259.6 523.6 261.7 526.1Q261.7 522.7 259.2 520.4Z" fill="#3a3a3a" opacity="0.64"/>
<path d="M212.3 587.8Q210.8 593.2 212.2 598.6" stroke="#dadada" stroke-width="0.9" fill="none" opacity="0.69" stroke-linecap="round"/>
<path d="M212.3 587.8Q211.7 593.2 212.2 598.6Q215.1 593.2 212.3 587.8Z" fill="#3a3a3a" opacity="0.77"/>
<path d="M303.9 532.8Q299.9 534.0 300.3 538.1" stroke="#dadada" stroke-width="0.9" fill="none" opacity="0.62" stroke-linecap="round"/>
<path d="M303.9 532.8Q300.7 534.5 300.3 538.1Q302.6 535.8 303.9 532.8Z" fill="#3a3a3a" opacity="0.69"/>
<path d="M178.3 498.0Q175.2 501.3 177.9 504.9" stroke="#dadada" stroke-width="0.9" fill="none" opacity="0.72" stroke-linecap="round"/>
<path d="M178.3 498.0Q176.1 501.4 177.9 504.9Q178.3 501.5 178.3 498.0Z" fill="#3a3a3a" opacity="0.80"/>
<path d="M215.0 537.2Q210.6 539.4 207.5 543.2" stroke="#dadada" stroke-width="0.9" fill="none" opacity="0.73" stroke-linecap="round"/>
<path d="M215.0 537.2Q211.1 540.1 207.5 543.2Q212.7 542.0 215.0 537.2Z" fill="#3a3a3a" opacity="0.81"/>
<path d="M335.1 429.6Q330.7 432.9 331.7 438.4" stroke="#dadada" stroke-width="0.9" fill="none" opacity="0.80" stroke-linecap="round"/>
<path d="M335.1 429.6Q331.5 433.3 331.7 438.4Q333.9 434.2 335.1 429.6Z" fill="#3a3a3a" opacity="0.88"/>
<path d="M242.9 602.4Q248.3 604.6 254.0 602.8" stroke="#dadada" stroke-width="0.9" fill="none" opacity="0.57" stroke-linecap="round"/>
<path d="M242.9 602.4Q248.4 603.7 254.0 602.8Q248.5 601.1 242.9 602.4Z" fill="#3a3a3a" opacity="0.63"/>
<path d="M214.6 564.2Q211.6 565.9 211.4 569.3" stroke="#dadada" stroke-width="0.9" fill="none" opacity="0.60" stroke-linecap="round"/>
<path d="M214.6 564.2Q212.4 566.4 211.4 569.3Q214.3 567.6 214.6 564.2Z" fill="#3a3a3a" opacity="0.67"/>
<path d="M214.6 489.1Q208.7 486.6 203.2 490.0" stroke="#dadada" stroke-width="0.9" fill="none" opacity="0.70" stroke-linecap="round"/>
<path d="M214.6 489.1Q208.8 487.5 203.2 490.0Q209.0 490.2 214.6 489.1Z" fill="#3a3a3a" opacity="0.77"/>
<path d="M303.4 597.0Q299.0 599.0 297.0 603.4" stroke="#dadada" stroke-width="0.9" fill="none" opacity="0.81" stroke-linecap="round"/>
<path d="M303.4 597.0Q299.7 599.6 297.0 603.4Q301.7 601.7 303.4 597.0Z" fill="#3a3a3a" opacity="0.90"/>
<path d="M303.7 441.0Q300.0 442.7 299.1 446.6" stroke="#dadada" stroke-width="0.9" fill="none" opacity="0.75" stroke-linecap="round"/>
<path d="M303.7 441.0Q300.7 443.2 299.1 446.6Q303.3 445.4 303.7 441.0Z" fill="#3a3a3a" opacity="0.84"/>
<path d="M299.5 449.1Q292.9 449.0 289.9 454.8" stroke="#dadada" stroke-width="0.9" fill="none" opacity="0.80" stroke-linecap="round"/>
<path d="M299.5 449.1Q293.4 449.8 289.9 454.8Q295.0 452.5 299.5 449.1Z" fill="#3a3a3a" opacity="0.89"/>
<path d="M302.9 534.2Q300.8 539.9 305.0 544.4" stroke="#dadada" stroke-width="0.9" fill="none" opacity="0.63" stroke-linecap="round"/>
<path d="M302.9 534.2Q301.7 539.7 305.0 544.4Q304.9 539.1 302.9 534.2Z" fill="#3a3a3a" opacity="0.70"/>
<path d="M332.7 527.5Q329.2 524.5 327.0 528.5" stroke="#dadada" stroke-width="0.9" fill="none" opacity="0.62" stroke-linecap="round"/>
<path d="M332.7 527.5Q329.4 525.4 327.0 528.5Q329.9 528.5 332.7 527.5Z" fill="#3a3a3a" opacity="0.69"/>
<path d="M306.6 468.3Q308.9 471.9 313.1 472.9" stroke="#dadada" stroke-width="0.9" fill="none" opacity="0.83" stroke-linecap="round"/>
<path d="M306.6 468.3Q309.4 471.2 313.1 472.9Q311.0 469.0 306.6 468.3Z" fill="#3a3a3a" opacity="0.92"/>
<path d="M283.2 557.5Q281.9 563.3 286.6 567.0" stroke="#dadada" stroke-width="0.9" fill="none" opacity="0.84" stroke-linecap="round"/>
<path d="M283.2 557.5Q282.8 563.0 286.6 567.0Q285.6 562.0 283.2 557.5Z" fill="#3a3a3a" opacity="0.93"/>
<path d="M303.3 502.7Q307.0 506.9 312.2 505.2" stroke="#dadada" stroke-width="0.9" fill="none" opacity="0.73" stroke-linecap="round"/>
<path d="M303.3 502.7Q307.2 506.0 312.2 505.2Q307.9 503.5 303.3 502.7Z" fill="#3a3a3a" opacity="0.81"/>
<path d="M305.4 578.1Q309.5 579.0 313.6 578.2" stroke="#dadada" stroke-width="0.9" fill="none" opacity="0.80" stroke-linecap="round"/>
<path d="M305.4 578.1Q309.5 578.1 313.6 578.2Q309.5 575.8 305.4 578.1Z" fill="#3a3a3a" opacity="0.88"/>
<path d="M240.9 538.5Q239.9 542.2 241.9 545.6" stroke="#dadada" stroke-width="0.9" fill="none" opacity="0.81" stroke-linecap="round"/>
<path d="M240.9 538.5Q240.8 542.1 241.9 545.6Q243.3 541.8 240.9 538.5Z" fill="#3a3a3a" opacity="0.90"/>
<path d="M270.9 481.2Q273.4 484.7 277.4 483.0" stroke="#dadada" stroke-width="0.9" fill="none" opacity="0.75" stroke-linecap="round"/>
<path d="M270.9 481.2Q273.6 483.9 277.4 483.0Q274.3 481.3 270.9 481.2Z" fill="#3a3a3a" opacity="0.83"/>
<path d="M306.2 447.0Q302.4 447.7 303.3 451.5" stroke="#dadada" stroke-width="0.9" fill="none" opacity="0.63" stroke-linecap="round"/>
<path d="M306.2 447.0Q303.1 448.2 303.3 451.5Q305.1 449.5 306.2 447.0Z" fill="#3a3a3a" opacity="0.70"/>
<path d="M325.2 492.1Q327.5 497.7 333.4 499.1" stroke="#dadada" stroke-width="0.9" fill="none" opacity="0.66" stroke-linecap="round"/>
<path d="M325.2 492.1Q328.1 497.0 333.4 499.1Q330.2 494.5 325.2 492.1Z" fill="#3a3a3a" opacity="0.74"/>
<path d="M254.7 603.6Q252.8 609.3 254.5 615.0" stroke="#dadada" stroke-width="0.9" fill="none" opacity="0.59" stroke-linecap="round"/>
<path d="M254.7 603.6Q253.7 609.3 254.5 615.0Q257.0 609.4 254.7 603.6Z" fill="#3a3a3a" opacity="0.66"/>
<path d="M254.3 423.3Q257.8 428.2 263.8 429.1" stroke="#dadada" stroke-width="0.9" fill="none" opacity="0.62" stroke-linecap="round"/>
<path d="M254.3 423.3Q258.3 427.4 263.8 429.1Q260.0 424.7 254.3 423.3Z" fill="#3a3a3a" opacity="0.69"/>
<path d="M231.4 440.2Q228.4 445.1 229.7 450.7" stroke="#dadada" stroke-width="0.9" fill="none" opacity="0.83" stroke-linecap="round"/>
<path d="M231.4 440.2Q229.2 445.2 229.7 450.7Q231.8 445.7 231.4 440.2Z" fill="#3a3a3a" opacity="0.93"/>
<path d="M314.5 552.8Q318.3 556.2 323.3 554.9" stroke="#dadada" stroke-width="0.9" fill="none" opacity="0.65" stroke-linecap="round"/>
<path d="M314.5 552.8Q318.5 555.3 323.3 554.9Q319.3 552.1 314.5 552.8Z" fill="#3a3a3a" opacity="0.73"/>
<path d="M279.3 543.4Q278.2 548.4 282.5 551.1" stroke="#dadada" stroke-width="0.9" fill="none" opacity="0.70" stroke-linecap="round"/>
<path d="M279.3 543.4Q279.0 548.0 282.5 551.1Q282.1 546.8 279.3 543.4Z" fill="#3a3a3a" opacity="0.77"/>
<path d="M227.3 612.3Q231.9 616.0 237.6 614.2" stroke="#dadada" stroke-width="0.9" fill="none" opacity="0.68" stroke-linecap="round"/>
<path d="M227.3 612.3Q232.1 615.1 237.6 614.2Q232.6 612.3 227.3 612.3Z" fill="#3a3a3a" opacity="0.76"/>
<path d="M298.9 593.2Q294.8 596.2 292.3 600.6" stroke="#dadada" stroke-width="0.9" fill="none" opacity="0.58" stroke-linecap="round"/>
<path d="M298.9 593.2Q295.5 596.8 292.3 600.6Q297.4 598.5 298.9 593.2Z" fill="#3a3a3a" opacity="0.65"/>
<path d="M324.6 595.1Q327.6 598.9 332.5 598.9" stroke="#dadada" stroke-width="0.9" fill="none" opacity="0.66" stroke-linecap="round"/>
<path d="M324.6 595.1Q328.0 598.1 332.5 598.9Q328.9 596.2 324.6 595.1Z" fill="#3a3a3a" opacity="0.74"/>
<path d="M291.8 545.2Q293.6 550.2 298.2 552.9" stroke="#dadada" stroke-width="0.9" fill="none" opacity="0.67" stroke-linecap="round"/>
<path d="M291.8 545.2Q294.3 549.7 298.2 552.9Q296.5 547.9 291.8 545.2Z" fill="#3a3a3a" opacity="0.75"/>
<path d="M336.5 547.8Q331.3 548.6 328.8 553.2" stroke="#dadada" stroke-width="0.9" fill="none" opacity="0.76" stroke-linecap="round"/>
<path d="M336.5 547.8Q331.8 549.3 328.8 553.2Q333.8 552.1 336.5 547.8Z" fill="#3a3a3a" opacity="0.85"/>
<path d="M282.0 477.2Q284.2 482.1 289.6 481.4" stroke="#dadada" stroke-width="0.9" fill="none" opacity="0.65" stroke-linecap="round"/>
<path d="M282.0 477.2Q284.6 481.4 289.6 481.4Q286.2 478.6 282.0 477.2Z" fill="#3a3a3a" opacity="0.72"/>
<path d="M198.7 523.9Q194.9 522.6 193.1 526.2" stroke="#dadada" stroke-width="0.9" fill="none" opacity="0.64" stroke-linecap="round"/>
<path d="M198.7 523.9Q195.3 523.4 193.1 526.2Q196.1 525.6 198.7 523.9Z" fill="#3a3a3a" opacity="0.71"/>
<circle cx="181.8" cy="483.2" r="1.3" fill="#f2f2f2" opacity="0.85"/>
<circle cx="330.8" cy="610.5" r="1.1" fill="#f2f2f2" opacity="0.85"/>
<circle cx="223.6" cy="607.0" r="1.1" fill="#f2f2f2" opacity="0.85"/>
<circle cx="225.4" cy="510.1" r="1.0" fill="#f2f2f2" opacity="0.85"/>
<circle cx="215.5" cy="501.6" r="1.3" fill="#f2f2f2" opacity="0.85"/>
<circle cx="330.3" cy="477.3" r="1.1" fill="#f2f2f2" opacity="0.85"/>
<circle cx="321.3" cy="512.4" r="1.7" fill="#f2f2f2" opacity="0.85"/>
<circle cx="277.0" cy="575.4" r="1.2" fill="#f2f2f2" opacity="0.85"/>
<circle cx="197.9" cy="571.2" r="1.4" fill="#f2f2f2" opacity="0.85"/>
<circle cx="264.2" cy="554.7" r="1.7" fill="#f2f2f2" opacity="0.85"/>
<circle cx="218.0" cy="495.6" r="1.8" fill="#f2f2f2" opacity="0.85"/>
<circle cx="259.4" cy="481.4" r="1.5" fill="#f2f2f2" opacity="0.85"/>
</g></g>
<rect x="405.6" y="425.2" width="273.6" height="195.8" fill="none" stroke="#222" stroke-width="1"/>
<line x1="402.1" y1="621.0" x2="405.6" y2="621.0" stroke="#111" stroke-width="1"/>
<text x="397.1" y="625.7" font-size="12.2" font-weight="bold" text-anchor="end" stroke="#0c0c0c" stroke-width="0.35" stroke-linejoin="round">0</text>
<line x1="402.1" y1="581.85" x2="405.6" y2="581.85" stroke="#111" stroke-width="1"/>
<text x="397.1" y="586.5500000000001" font-size="12.2" font-weight="bold" text-anchor="end" stroke="#0c0c0c" stroke-width="0.35" stroke-linejoin="round">5</text>
<line x1="402.1" y1="542.7" x2="405.6" y2="542.7" stroke="#111" stroke-width="1"/>
<text x="397.1" y="547.4000000000001" font-size="12.2" font-weight="bold" text-anchor="end" stroke="#0c0c0c" stroke-width="0.35" stroke-linejoin="round">10</text>
<line x1="402.1" y1="503.55" x2="405.6" y2="503.55" stroke="#111" stroke-width="1"/>
<text x="397.1" y="508.25" font-size="12.2" font-weight="bold" text-anchor="end" stroke="#0c0c0c" stroke-width="0.35" stroke-linejoin="round">15</text>
<line x1="402.1" y1="464.4" x2="405.6" y2="464.4" stroke="#111" stroke-width="1"/>
<text x="397.1" y="469.09999999999997" font-size="12.2" font-weight="bold" text-anchor="end" stroke="#0c0c0c" stroke-width="0.35" stroke-linejoin="round">20</text>
<line x1="402.1" y1="425.25" x2="405.6" y2="425.25" stroke="#111" stroke-width="1"/>
<text x="397.1" y="429.95" font-size="12.2" font-weight="bold" text-anchor="end" stroke="#0c0c0c" stroke-width="0.35" stroke-linejoin="round">25</text>
<line x1="405.6" y1="621.0" x2="405.6" y2="624.5" stroke="#111" stroke-width="1"/>
<text x="405.6" y="641.6" font-size="12.2" font-weight="bold" text-anchor="middle" stroke="#0c0c0c" stroke-width="0.35" stroke-linejoin="round">0</text>
<line x1="457.90000000000003" y1="621.0" x2="457.90000000000003" y2="624.5" stroke="#111" stroke-width="1"/>
<text x="457.90000000000003" y="641.6" font-size="12.2" font-weight="bold" text-anchor="middle" stroke="#0c0c0c" stroke-width="0.35" stroke-linejoin="round">20</text>
<line x1="510.20000000000005" y1="621.0" x2="510.20000000000005" y2="624.5" stroke="#111" stroke-width="1"/>
<text x="510.20000000000005" y="641.6" font-size="12.2" font-weight="bold" text-anchor="middle" stroke="#0c0c0c" stroke-width="0.35" stroke-linejoin="round">40</text>
<line x1="562.5" y1="621.0" x2="562.5" y2="624.5" stroke="#111" stroke-width="1"/>
<text x="562.5" y="641.6" font-size="12.2" font-weight="bold" text-anchor="middle" stroke="#0c0c0c" stroke-width="0.35" stroke-linejoin="round">60</text>
<line x1="614.8000000000001" y1="621.0" x2="614.8000000000001" y2="624.5" stroke="#111" stroke-width="1"/>
<text x="614.8000000000001" y="641.6" font-size="12.2" font-weight="bold" text-anchor="middle" stroke="#0c0c0c" stroke-width="0.35" stroke-linejoin="round">80</text>
<line x1="667.1" y1="621.0" x2="667.1" y2="624.5" stroke="#111" stroke-width="1"/>
<text x="667.1" y="641.6" font-size="12.2" font-weight="bold" text-anchor="middle" stroke="#0c0c0c" stroke-width="0.35" stroke-linejoin="round">100</text>
<polyline points="405.6,621.0 437.0,572.1 455.3,554.4 471.0,532.5 489.3,516.1 507.6,496.5 528.5,479.3 554.7,460.5 591.3,443.3 617.4,437.8 661.3,435.0" fill="none" stroke="#111" stroke-width="1.3"/>
<circle cx="405.6" cy="621.0" r="4.5" fill="#111" stroke="#111" stroke-width="0.9"/>
<circle cx="437.0" cy="572.1" r="4.5" fill="#111" stroke="#111" stroke-width="0.9"/>
<circle cx="455.3" cy="554.4" r="4.5" fill="#111" stroke="#111" stroke-width="0.9"/>
<circle cx="471.0" cy="532.5" r="4.5" fill="#111" stroke="#111" stroke-width="0.9"/>
<circle cx="489.3" cy="516.1" r="4.5" fill="#111" stroke="#111" stroke-width="0.9"/>
<circle cx="507.6" cy="496.5" r="4.5" fill="#111" stroke="#111" stroke-width="0.9"/>
<circle cx="528.5" cy="479.3" r="4.5" fill="#111" stroke="#111" stroke-width="0.9"/>
<circle cx="554.7" cy="460.5" r="4.5" fill="#111" stroke="#111" stroke-width="0.9"/>
<circle cx="591.3" cy="443.3" r="4.5" fill="#111" stroke="#111" stroke-width="0.9"/>
<circle cx="617.4" cy="437.8" r="4.5" fill="#111" stroke="#111" stroke-width="0.9"/>
<circle cx="661.3" cy="435.0" r="4.5" fill="#111" stroke="#111" stroke-width="0.9"/>
<polyline points="405.6,621.0 437.0,566.2 463.1,550.5 489.3,543.1 507.6,539.2 528.5,538.4 554.7,537.6 591.3,540.7" fill="none" stroke="#111" stroke-width="1.3" stroke-dasharray="1.2 1.6"/>
<circle cx="405.6" cy="621.0" r="4.5" fill="#fff" stroke="#111" stroke-width="0.9"/>
<circle cx="437.0" cy="566.2" r="4.5" fill="#fff" stroke="#111" stroke-width="0.9"/>
<circle cx="463.1" cy="550.5" r="4.5" fill="#fff" stroke="#111" stroke-width="0.9"/>
<circle cx="489.3" cy="543.1" r="4.5" fill="#fff" stroke="#111" stroke-width="0.9"/>
<circle cx="507.6" cy="539.2" r="4.5" fill="#fff" stroke="#111" stroke-width="0.9"/>
<circle cx="528.5" cy="538.4" r="4.5" fill="#fff" stroke="#111" stroke-width="0.9"/>
<circle cx="554.7" cy="537.6" r="4.5" fill="#fff" stroke="#111" stroke-width="0.9"/>
<circle cx="591.3" cy="540.7" r="4.5" fill="#fff" stroke="#111" stroke-width="0.9"/>
<polyline points="405.6,621.0 437.0,570.9 463.1,558.4 489.3,551.7 507.6,548.6 528.5,545.8 554.7,538.0 591.3,536.4 617.4,533.7 661.3,532.5" fill="none" stroke="#111" stroke-width="1.3" stroke-dasharray="5 2.2"/>
<path d="M400.6 617.8L410.6 617.8L405.6 625.4Z" fill="#111" stroke="#111" stroke-width="0.9"/>
<path d="M458.1 555.2L468.1 555.2L463.1 562.8Z" fill="#111" stroke="#111" stroke-width="0.9"/>
<path d="M484.3 548.5L494.3 548.5L489.3 556.1Z" fill="#111" stroke="#111" stroke-width="0.9"/>
<path d="M502.6 545.4L512.6 545.4L507.6 553.0Z" fill="#111" stroke="#111" stroke-width="0.9"/>
<path d="M523.5 542.6L533.5 542.6L528.5 550.2Z" fill="#111" stroke="#111" stroke-width="0.9"/>
<path d="M549.7 534.8L559.7 534.8L554.7 542.4Z" fill="#111" stroke="#111" stroke-width="0.9"/>
<path d="M586.3 533.2L596.3 533.2L591.3 540.8Z" fill="#111" stroke="#111" stroke-width="0.9"/>
<path d="M612.4 530.5L622.4 530.5L617.4 538.1Z" fill="#111" stroke="#111" stroke-width="0.9"/>
<path d="M656.3 529.3L666.3 529.3L661.3 536.9Z" fill="#111" stroke="#111" stroke-width="0.9"/>
<polyline points="405.6,621.0 431.8,610.0 457.9,610.0" fill="none" stroke="#111" stroke-width="1.3"/>
<path d="M400.6 617.8L410.6 617.8L405.6 625.4Z" fill="#fff" stroke="#111" stroke-width="0.9"/>
<path d="M426.8 606.8L436.8 606.8L431.8 614.4Z" fill="#fff" stroke="#111" stroke-width="0.9"/>
<path d="M452.9 606.8L462.9 606.8L457.9 614.4Z" fill="#fff" stroke="#111" stroke-width="0.9"/>
<rect x="427.2" y="433.6" width="67.2" height="59.8" fill="#fff" stroke="#222" stroke-width="0.9"/>
<line x1="432.2" y1="445.3" x2="453.6" y2="445.3" stroke="#111" stroke-width="1.0"/>
<circle cx="442.9" cy="445.3" r="4.2" fill="#111" stroke="#111" stroke-width="0.9"/>
<text x="458.6" y="448.6" font-size="8.8" font-weight="normal" textLength="17" lengthAdjust="spacingAndGlyphs" stroke="#0c0c0c" stroke-width="0.45" stroke-linejoin="round">GSE</text>
<line x1="432.2" y1="458.3" x2="453.6" y2="458.3" stroke="#111" stroke-width="1.0" stroke-dasharray="1.2 1.6"/>
<circle cx="442.9" cy="458.3" r="4.2" fill="#fff" stroke="#111" stroke-width="0.9"/>
<text x="458.6" y="461.6" font-size="8.8" font-weight="normal" textLength="13.3" lengthAdjust="spacingAndGlyphs" stroke="#0c0c0c" stroke-width="0.45" stroke-linejoin="round">LgT</text>
<line x1="432.2" y1="471.1" x2="453.6" y2="471.1" stroke="#111" stroke-width="1.0" stroke-dasharray="5 2.2"/>
<path d="M437.9 467.9L447.9 467.9L442.9 475.5Z" fill="#111" stroke="#111" stroke-width="0.9"/>
<text x="458.6" y="474.40000000000003" font-size="8.8" font-weight="normal" textLength="23.3" lengthAdjust="spacingAndGlyphs" stroke="#0c0c0c" stroke-width="0.45" stroke-linejoin="round">LgTK1</text>
<line x1="432.2" y1="483.8" x2="453.6" y2="483.8" stroke="#111" stroke-width="1.0"/>
<path d="M437.9 480.6L447.9 480.6L442.9 488.2Z" fill="#fff" stroke="#111" stroke-width="0.9"/>
<text x="458.6" y="487.1" font-size="8.8" font-weight="normal" textLength="28.9" lengthAdjust="spacingAndGlyphs" stroke="#0c0c0c" stroke-width="0.45" stroke-linejoin="round">CDK4m</text>
<text x="545.1" y="417.6" font-size="17" font-weight="bold" text-anchor="middle" textLength="101.5" lengthAdjust="spacingAndGlyphs" stroke="#0c0c0c" stroke-width="0.55" stroke-linejoin="round">S-BJ rescued</text>
<text x="548.3" y="666.5" font-size="15.6" font-weight="bold" text-anchor="middle" textLength="147" lengthAdjust="spacingAndGlyphs" stroke="#0c0c0c" stroke-width="0.55" stroke-linejoin="round">Days post infection</text>
<text x="368.4" y="516.4" font-size="15.6" font-weight="bold" text-anchor="middle" transform="rotate(-90 368.4 516.4)" textLength="155" lengthAdjust="spacingAndGlyphs" stroke="#0c0c0c" stroke-width="0.55" stroke-linejoin="round">Population doubling</text>
</svg></body></html>
